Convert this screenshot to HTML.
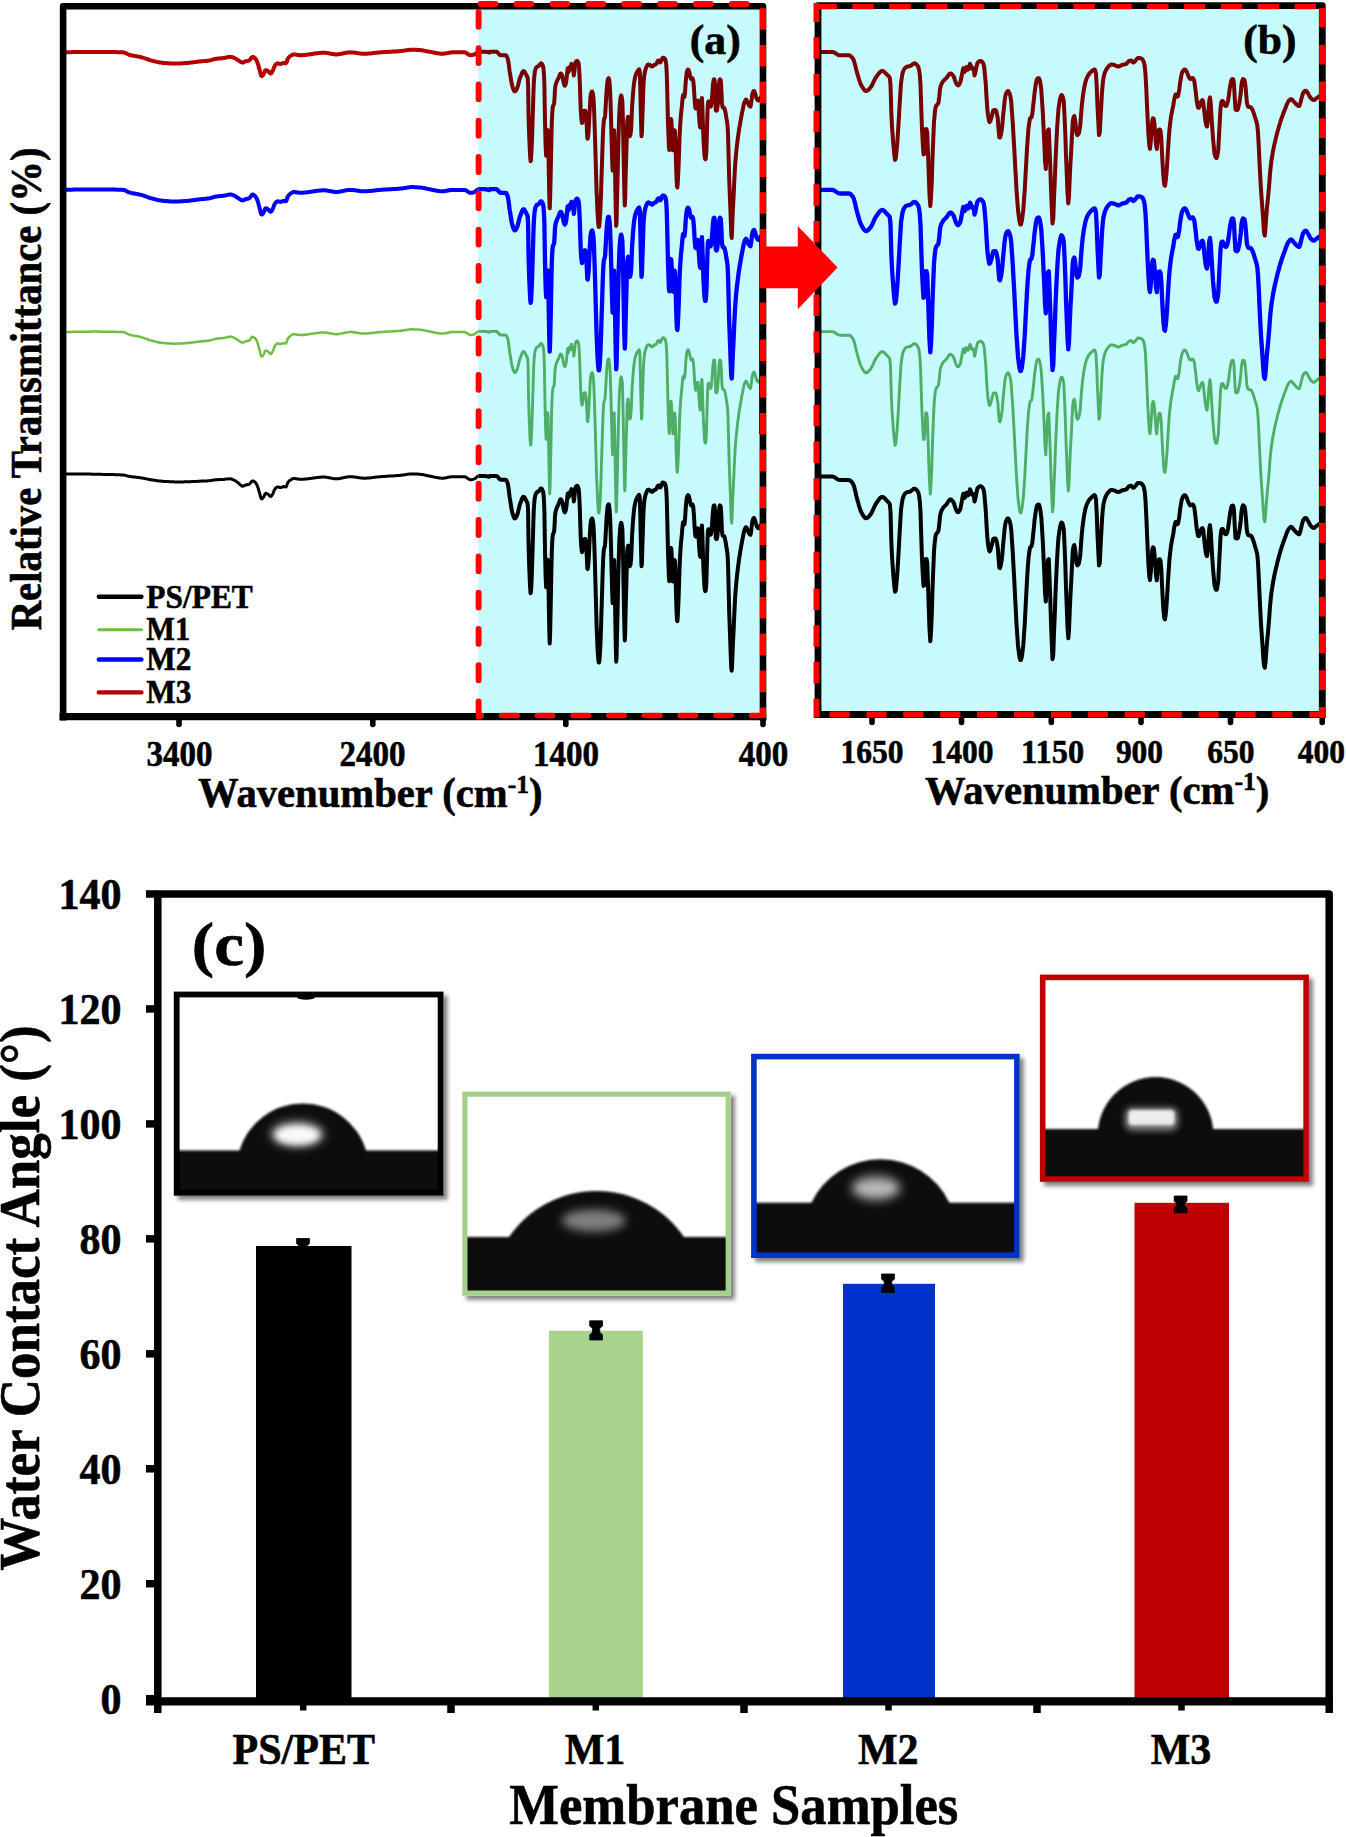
<!DOCTYPE html>
<html lang="en"><head><meta charset="utf-8"><title>FTIR spectra and water contact angle</title>
<style>
html,body{margin:0;padding:0;background:#fff;}
body{width:1346px;height:1837px;overflow:hidden;}
svg{display:block;}
text{font-family:"Liberation Serif","Times New Roman",serif;font-weight:bold;fill:#000;stroke:#000;stroke-width:0.6px;stroke-linejoin:round;}
</style></head><body>
<svg width="1346" height="1837" viewBox="0 0 1346 1837">
<defs>
<filter id="blur1" x="-20%" y="-20%" width="140%" height="140%"><feGaussianBlur stdDeviation="1.2"/></filter>
<filter id="blur2" x="-30%" y="-30%" width="160%" height="160%"><feGaussianBlur stdDeviation="1.8"/></filter>
<filter id="blur3" x="-30%" y="-30%" width="160%" height="160%"><feGaussianBlur stdDeviation="3"/></filter>
<filter id="blur5" x="-40%" y="-40%" width="180%" height="180%"><feGaussianBlur stdDeviation="5"/></filter>
<filter id="shadow" x="-10%" y="-10%" width="120%" height="120%"><feGaussianBlur stdDeviation="2.2"/></filter>
<clipPath id="clipAL"><rect x="60" y="0" width="418.5" height="720"/></clipPath>
<clipPath id="clipAR"><rect x="478.5" y="0" width="284.5" height="720"/></clipPath>
<clipPath id="clipB"><rect x="817" y="0" width="505" height="720"/></clipPath>
</defs>
<rect x="0" y="0" width="1346" height="1837" fill="#fff"/>

<rect x="478.2" y="6.2" width="284.8" height="710.8" fill="#C7FAFC"/>
<rect x="818" y="5.6" width="504.3" height="708.9" fill="#C7FAFC"/>
<path d="M64.0 52.3L64.8 52.3L65.5 52.3L66.3 52.3L67.0 52.3L67.8 52.2L68.5 52.2L69.3 52.2L70.0 52.2L70.8 52.2L71.5 52.2L72.3 52.1L73.0 52.1L73.8 52.1L74.5 52.1L75.3 52.1L76.0 52.1L76.8 52.1L77.5 52.1L78.3 52.0L79.0 52.0L79.8 52.0L80.5 52.0L81.3 52.0L82.0 52.0L82.8 52.0L83.5 52.0L84.3 52.0L85.0 52.0L85.8 52.0L86.5 52.0L87.3 52.0L88.0 52.0L88.8 51.9L89.5 51.9L90.3 51.9L91.0 51.9L91.8 51.9L92.5 51.9L93.3 51.9L94.0 51.9L94.8 51.9L95.5 51.9L96.3 51.9L97.0 51.9L97.8 51.9L98.5 51.9L99.3 51.9L100.0 51.9L100.8 51.9L101.5 51.9L102.3 52.0L103.0 52.0L103.8 52.0L104.5 52.0L105.3 52.0L106.0 52.0L106.8 52.0L107.5 52.0L108.3 52.0L109.0 52.0L109.8 52.0L110.5 52.0L111.3 52.0L112.0 52.1L112.8 52.1L113.5 52.1L114.3 52.1L115.0 52.1L115.8 52.1L116.5 52.1L117.3 52.2L118.0 52.2L118.8 52.2L119.5 52.2L120.3 52.2L121.0 52.3L121.8 52.3L122.5 52.3L123.3 52.3L124.0 52.5L124.8 52.7L125.5 53.0L126.3 53.4L127.0 53.8L127.8 54.2L128.5 54.5L129.3 54.8L130.0 55.0L130.8 55.2L131.5 55.4L132.3 55.5L133.0 55.7L133.8 55.8L134.5 55.9L135.3 56.1L136.0 56.2L136.8 56.3L137.5 56.4L138.3 56.6L139.0 56.7L139.8 56.9L140.5 57.1L141.3 57.2L142.0 57.4L142.8 57.7L143.5 57.9L144.3 58.1L145.0 58.4L145.8 58.7L146.5 58.9L147.3 59.2L148.0 59.5L148.8 59.7L149.5 60.0L150.3 60.2L151.0 60.4L151.8 60.6L152.5 60.8L153.3 61.0L154.0 61.2L154.8 61.4L155.5 61.6L156.3 61.7L157.0 61.9L157.8 62.1L158.5 62.2L159.3 62.4L160.0 62.5L160.8 62.6L161.5 62.7L162.3 62.8L163.0 62.9L163.8 63.0L164.5 63.0L165.3 63.1L166.0 63.1L166.8 63.2L167.5 63.2L168.3 63.3L169.0 63.3L169.8 63.4L170.5 63.4L171.3 63.5L172.0 63.5L172.8 63.5L173.5 63.5L174.3 63.5L175.0 63.5L175.8 63.5L176.5 63.5L177.3 63.5L178.0 63.5L178.8 63.5L179.5 63.4L180.3 63.4L181.0 63.4L181.8 63.3L182.5 63.3L183.3 63.2L184.0 63.2L184.8 63.1L185.5 63.1L186.3 63.0L187.0 63.0L187.8 62.9L188.5 62.8L189.3 62.8L190.0 62.7L190.8 62.6L191.5 62.5L192.3 62.4L193.0 62.3L193.8 62.2L194.5 62.1L195.3 62.0L196.0 61.9L196.8 61.8L197.5 61.7L198.3 61.6L199.0 61.5L199.8 61.5L200.5 61.4L201.3 61.3L202.0 61.3L202.8 61.2L203.5 61.1L204.3 61.1L205.0 61.0L205.8 60.9L206.5 60.9L207.3 60.8L208.0 60.7L208.8 60.6L209.5 60.5L210.3 60.3L211.0 60.1L211.8 59.9L212.5 59.7L213.3 59.4L214.0 59.2L214.8 59.0L215.5 58.9L216.3 58.7L217.0 58.7L217.8 58.6L218.5 58.5L219.3 58.4L220.0 58.4L220.8 58.3L221.5 58.3L222.3 58.2L223.0 58.1L223.8 58.0L224.5 57.9L225.3 57.7L226.0 57.5L226.8 57.4L227.5 57.2L228.3 57.1L229.0 56.9L229.8 56.9L230.5 56.8L231.3 56.9L232.0 57.1L232.8 57.3L233.5 57.6L234.3 57.9L235.0 58.3L235.8 58.7L236.5 59.2L237.3 59.7L238.0 60.2L238.8 60.6L239.5 61.1L240.3 61.6L241.0 62.1L241.8 62.4L242.5 62.5L243.3 62.4L244.0 62.0L244.8 61.6L245.5 61.3L246.3 61.1L247.0 61.0L247.8 60.9L248.5 60.7L249.3 60.4L250.0 59.7L250.8 58.7L251.5 57.6L252.3 56.9L253.0 56.9L253.8 57.2L254.5 57.8L255.3 58.5L256.0 59.4L256.8 60.9L257.5 62.7L258.3 65.1L259.0 67.9L259.8 70.6L260.5 73.6L261.3 75.8L262.0 76.0L262.8 75.3L263.5 74.3L264.3 72.7L265.0 70.8L265.8 70.1L266.5 70.3L267.3 70.6L268.0 71.1L268.8 71.8L269.5 72.7L270.3 73.4L271.0 73.4L271.8 72.5L272.5 71.3L273.3 69.6L274.0 67.4L274.8 65.8L275.5 64.9L276.3 64.0L277.0 63.5L277.8 63.3L278.5 63.5L279.3 63.7L280.0 63.9L280.8 63.9L281.5 63.7L282.3 63.4L283.0 63.1L283.8 62.9L284.5 63.0L285.3 63.2L286.0 63.3L286.8 61.9L287.5 59.2L288.3 58.0L289.0 57.2L289.8 56.5L290.5 55.9L291.3 55.4L292.0 55.0L292.8 54.6L293.5 54.4L294.3 54.4L295.0 54.5L295.8 54.6L296.5 54.7L297.3 54.9L298.0 55.0L298.8 55.1L299.5 55.2L300.3 55.2L301.0 55.2L301.8 55.2L302.5 55.1L303.3 55.1L304.0 55.0L304.8 54.9L305.5 54.9L306.3 54.8L307.0 54.7L307.8 54.6L308.5 54.5L309.3 54.4L310.0 54.3L310.8 54.2L311.5 54.0L312.3 53.9L313.0 53.8L313.8 53.7L314.5 53.6L315.3 53.5L316.0 53.4L316.8 53.3L317.5 53.2L318.3 53.1L319.0 53.0L319.8 53.0L320.5 52.9L321.3 52.8L322.0 52.8L322.8 52.8L323.5 52.8L324.3 52.7L325.0 52.8L325.8 52.8L326.5 52.9L327.3 53.0L328.0 53.2L328.8 53.3L329.5 53.4L330.3 53.6L331.0 53.8L331.8 53.9L332.5 54.0L333.3 54.1L334.0 54.2L334.8 54.3L335.5 54.4L336.3 54.4L337.0 54.4L337.8 54.3L338.5 54.2L339.3 54.1L340.0 54.0L340.8 53.9L341.5 53.7L342.3 53.5L343.0 53.4L343.8 53.2L344.5 53.1L345.3 52.9L346.0 52.8L346.8 52.6L347.5 52.5L348.3 52.4L349.0 52.4L349.8 52.3L350.5 52.3L351.3 52.4L352.0 52.4L352.8 52.5L353.5 52.5L354.3 52.6L355.0 52.7L355.8 52.8L356.5 53.0L357.3 53.1L358.0 53.2L358.8 53.3L359.5 53.4L360.3 53.5L361.0 53.6L361.8 53.7L362.5 53.7L363.3 53.7L364.0 53.8L364.8 53.8L365.5 53.7L366.3 53.7L367.0 53.7L367.8 53.6L368.5 53.6L369.3 53.5L370.0 53.4L370.8 53.4L371.5 53.3L372.3 53.2L373.0 53.1L373.8 53.0L374.5 52.9L375.3 52.8L376.0 52.8L376.8 52.7L377.5 52.6L378.3 52.5L379.0 52.4L379.8 52.4L380.5 52.3L381.3 52.3L382.0 52.2L382.8 52.2L383.5 52.1L384.3 52.1L385.0 52.0L385.8 52.0L386.5 52.0L387.3 51.9L388.0 51.9L388.8 51.8L389.5 51.8L390.3 51.8L391.0 51.7L391.8 51.7L392.5 51.6L393.3 51.6L394.0 51.6L394.8 51.5L395.5 51.5L396.3 51.4L397.0 51.4L397.8 51.3L398.5 51.3L399.3 51.2L400.0 51.1L400.8 51.1L401.5 51.0L402.3 50.9L403.0 50.8L403.8 50.7L404.5 50.6L405.3 50.4L406.0 50.3L406.8 50.2L407.5 50.1L408.3 50.0L409.0 49.9L409.8 49.8L410.5 49.8L411.3 49.7L412.0 49.7L412.8 49.7L413.5 49.7L414.3 49.7L415.0 49.8L415.8 49.8L416.5 49.8L417.3 49.9L418.0 49.9L418.8 50.0L419.5 50.0L420.3 50.1L421.0 50.2L421.8 50.3L422.5 50.4L423.3 50.5L424.0 50.6L424.8 50.8L425.5 50.9L426.3 51.1L427.0 51.3L427.8 51.4L428.5 51.6L429.3 51.7L430.0 51.9L430.8 52.0L431.5 52.1L432.3 52.3L433.0 52.4L433.8 52.6L434.5 52.7L435.3 52.9L436.0 53.0L436.8 53.2L437.5 53.3L438.3 53.4L439.0 53.5L439.8 53.6L440.5 53.7L441.3 53.7L442.0 53.8L442.8 53.8L443.5 53.7L444.3 53.6L445.0 53.5L445.8 53.4L446.5 53.2L447.3 53.1L448.0 52.9L448.8 52.8L449.5 52.6L450.3 52.5L451.0 52.4L451.8 52.4L452.5 52.3L453.3 52.3L454.0 52.3L454.8 52.3L455.5 52.3L456.3 52.3L457.0 52.3L457.8 52.3L458.5 52.3L459.3 52.3L460.0 52.3L460.8 52.3L461.5 52.3L462.3 52.3L463.0 52.3L463.8 52.3L464.5 52.3L465.3 52.5L466.0 52.8L466.8 53.3L467.5 53.8L468.3 54.3L469.0 54.8L469.8 55.1L470.5 55.2L471.3 55.2L472.0 55.0L472.8 54.9L473.5 54.7L474.3 54.5L475.0 54.1L475.8 53.6L476.5 52.9L477.3 52.3L478.0 51.8L478.8 51.7L479.5 51.7L480.3 51.7L481.0 51.7L481.8 51.7L482.5 51.7L483.3 51.7L484.0 51.7L484.8 51.7L485.5 51.8L486.3 51.9L487.0 52.0L487.8 52.1L488.5 52.3L489.3 52.6L489.8 51.7L490.2 51.7L490.6 51.7L491.0 51.7L491.4 51.7L491.8 51.7L492.2 51.7L492.6 51.7L493.0 51.7L493.4 51.7L493.8 51.7L494.2 51.7L494.6 51.7L495.1 51.7L495.5 51.7L495.9 51.7L496.3 51.7L496.7 51.8L497.1 52.0L497.5 52.3L497.9 52.8L498.3 53.2L498.7 53.7L499.1 54.2L499.5 54.6L500.0 54.9L500.4 55.1L500.8 55.2L501.2 55.2L501.6 55.2L502.0 55.2L502.4 55.2L502.8 55.2L503.2 55.2L503.6 55.2L504.0 55.2L504.4 55.2L504.8 55.2L505.3 55.2L505.7 55.2L506.1 55.4L506.5 55.9L506.9 56.7L507.3 57.6L507.7 58.7L508.1 60.2L508.5 62.6L508.9 65.6L509.3 68.8L509.7 71.8L510.2 74.4L510.6 77.0L511.0 79.6L511.4 81.9L511.8 84.0L512.2 85.5L512.6 86.8L513.0 88.1L513.4 89.3L513.8 90.2L514.2 91.0L514.6 91.3L515.0 91.4L515.5 91.1L515.9 90.5L516.3 89.8L516.7 89.0L517.1 88.2L517.5 87.2L517.9 85.9L518.3 84.4L518.7 82.7L519.1 81.1L519.5 79.5L519.9 78.2L520.4 77.0L520.8 76.0L521.2 75.0L521.6 74.0L522.0 73.0L522.4 72.2L522.8 71.6L523.2 71.2L523.6 71.0L524.0 71.2L524.4 71.6L524.8 72.2L525.2 73.0L525.7 73.8L526.1 74.6L526.5 75.4L526.9 76.0L527.3 76.7L527.7 78.0L528.1 84.9L528.5 112.6L528.9 127.3L529.3 138.6L529.7 147.6L530.1 156.1L530.6 161.3L531.0 159.9L531.4 152.9L531.8 144.1L532.2 133.2L532.6 120.0L533.0 107.4L533.4 94.3L533.8 83.5L534.2 77.7L534.6 73.6L535.0 71.0L535.4 69.5L535.9 68.3L536.3 67.5L536.7 67.0L537.1 66.7L537.5 66.5L537.9 66.4L538.3 66.2L538.7 66.0L539.1 65.7L539.5 65.1L539.9 64.5L540.3 63.8L540.8 63.4L541.2 63.3L541.6 63.5L542.0 64.0L542.4 64.7L542.8 65.7L543.2 66.9L543.6 69.6L544.0 75.2L544.4 85.1L544.8 110.3L545.2 129.8L545.6 145.0L546.1 155.7L546.5 155.2L546.9 147.1L547.3 130.1L547.7 130.1L548.1 133.9L548.5 154.5L548.9 177.8L549.3 196.7L549.7 208.3L550.1 200.1L550.5 182.7L551.0 159.0L551.4 139.5L551.8 122.7L552.2 113.9L552.6 108.4L553.0 106.1L553.4 105.3L553.8 104.6L554.2 103.1L554.6 96.9L555.0 89.4L555.4 86.1L555.8 84.2L556.3 82.8L556.7 81.7L557.1 80.7L557.5 79.9L557.9 79.3L558.3 78.6L558.7 77.7L559.1 76.6L559.5 75.5L559.9 74.4L560.3 73.7L560.7 73.5L561.2 73.8L561.6 74.4L562.0 75.3L562.4 76.3L562.8 78.1L563.2 80.6L563.6 82.7L564.0 84.1L564.4 85.2L564.8 85.7L565.2 85.3L565.6 84.2L566.0 82.7L566.5 79.4L566.9 75.4L567.3 71.6L567.7 68.2L568.1 69.5L568.5 72.0L568.9 70.2L569.3 67.2L569.7 67.8L570.1 69.8L570.5 69.2L570.9 66.1L571.4 63.9L571.8 65.3L572.2 68.1L572.6 69.0L573.0 68.2L573.4 69.5L573.8 75.5L574.2 73.0L574.6 69.5L575.0 65.4L575.4 62.9L575.8 62.0L576.2 61.4L576.7 61.0L577.1 60.9L577.5 61.1L577.9 61.7L578.3 62.6L578.7 63.9L579.1 68.1L579.5 75.6L579.9 84.5L580.3 97.2L580.7 109.2L581.1 115.8L581.6 120.8L582.0 123.0L582.4 121.9L582.8 119.5L583.2 117.1L583.6 113.6L584.0 111.0L584.4 110.7L584.8 110.7L585.2 110.7L585.6 112.0L586.0 115.1L586.4 119.5L586.9 129.4L587.3 138.2L587.7 138.7L588.1 136.1L588.5 132.4L588.9 126.2L589.3 117.6L589.7 109.9L590.1 102.6L590.5 96.8L590.9 94.3L591.3 92.6L591.8 91.6L592.2 91.5L592.6 92.5L593.0 94.5L593.4 97.2L593.8 103.0L594.2 113.3L594.6 124.5L595.0 136.9L595.4 150.5L595.8 164.3L596.2 178.8L596.6 191.9L597.1 202.7L597.5 212.2L597.9 218.7L598.3 223.7L598.7 227.0L599.1 226.9L599.5 223.4L599.9 218.4L600.3 211.7L600.7 202.1L601.1 191.1L601.5 177.5L602.0 163.0L602.4 150.4L602.8 138.4L603.2 129.1L603.6 123.3L604.0 119.4L604.4 118.5L604.8 118.0L605.2 114.7L605.6 108.0L606.0 101.1L606.4 93.7L606.8 88.0L607.3 83.2L607.7 79.8L608.1 78.7L608.5 78.2L608.9 78.5L609.3 80.7L609.7 84.4L610.1 90.5L610.5 101.0L610.9 113.1L611.3 128.0L611.7 143.9L612.2 161.6L612.6 170.6L613.0 156.4L613.4 138.7L613.8 131.1L614.2 130.3L614.6 147.3L615.0 168.6L615.4 190.9L615.8 211.1L616.2 225.9L616.6 220.4L617.0 200.8L617.5 182.4L617.9 162.8L618.3 145.5L618.7 131.3L619.1 118.6L619.5 109.4L619.9 104.2L620.3 99.9L620.7 96.8L621.1 95.5L621.5 96.1L621.9 98.2L622.4 101.9L622.8 116.2L623.2 134.7L623.6 157.1L624.0 176.5L624.4 194.5L624.8 205.5L625.2 198.0L625.6 178.4L626.0 163.6L626.4 150.5L626.8 136.3L627.2 122.1L627.7 118.2L628.1 116.9L628.5 120.2L628.9 127.1L629.3 133.9L629.7 136.2L630.1 135.7L630.5 134.5L630.9 131.3L631.3 126.2L631.7 116.0L632.1 106.6L632.6 99.7L633.0 93.9L633.4 89.3L633.8 85.3L634.2 82.0L634.6 79.6L635.0 77.8L635.4 76.2L635.8 74.9L636.2 73.8L636.6 72.9L637.0 72.2L637.4 71.5L637.9 70.9L638.3 70.2L638.7 69.6L639.1 69.4L639.5 70.6L639.9 73.7L640.3 88.6L640.7 107.4L641.1 123.1L641.5 136.2L641.9 133.7L642.3 119.8L642.8 105.4L643.2 93.0L643.6 83.2L644.0 77.9L644.4 74.6L644.8 72.3L645.2 70.6L645.6 69.2L646.0 68.0L646.4 67.1L646.8 66.3L647.2 65.5L647.6 64.8L648.1 64.5L648.5 64.6L648.9 64.6L649.3 64.8L649.7 64.9L650.1 65.1L650.5 65.5L650.9 65.9L651.3 66.3L651.7 66.5L652.1 66.5L652.5 66.3L653.0 66.0L653.4 65.6L653.8 65.2L654.2 64.9L654.6 64.7L655.0 64.6L655.4 64.4L655.8 64.2L656.2 64.0L656.6 63.5L657.0 62.6L657.4 61.6L657.8 60.9L658.3 60.7L658.7 60.5L659.1 60.5L659.5 61.2L659.9 62.2L660.3 62.4L660.7 61.8L661.1 61.0L661.5 60.3L661.9 59.3L662.3 58.4L662.7 57.8L663.2 57.8L663.6 57.9L664.0 58.1L664.4 58.3L664.8 58.7L665.2 59.5L665.6 60.7L666.0 62.4L666.4 66.8L666.8 74.5L667.2 89.4L667.6 105.6L668.0 123.1L668.5 136.2L668.9 146.9L669.3 150.1L669.7 142.6L670.1 132.8L670.5 121.4L670.9 119.0L671.3 119.8L671.7 125.7L672.1 136.1L672.5 145.7L672.9 150.3L673.4 142.2L673.8 135.2L674.2 130.6L674.6 130.3L675.0 131.7L675.4 139.7L675.8 154.7L676.2 169.0L676.6 179.4L677.0 186.6L677.4 187.5L677.8 182.1L678.2 174.6L678.7 163.1L679.1 150.9L679.5 139.2L679.9 130.0L680.3 123.3L680.7 117.8L681.1 113.3L681.5 109.6L681.9 106.0L682.3 101.3L682.7 97.4L683.1 95.0L683.6 94.9L684.0 97.1L684.4 97.0L684.8 94.4L685.2 90.1L685.6 83.5L686.0 78.8L686.4 74.9L686.8 72.2L687.2 70.9L687.6 70.0L688.0 69.5L688.4 69.7L688.9 70.7L689.3 72.1L689.7 73.9L690.1 75.9L690.5 77.4L690.9 78.8L691.3 79.2L691.7 78.8L692.1 78.3L692.5 78.3L692.9 79.3L693.3 81.2L693.8 86.4L694.2 92.6L694.6 99.6L695.0 104.5L695.4 108.1L695.8 108.5L696.2 106.9L696.6 104.9L697.0 102.4L697.4 101.2L697.8 100.6L698.2 102.6L698.6 109.7L699.1 116.7L699.5 122.5L699.9 126.4L700.3 127.4L700.7 122.4L701.1 111.1L701.5 100.8L701.9 97.9L702.3 104.9L702.7 116.7L703.1 129.3L703.5 139.4L704.0 147.8L704.4 154.8L704.8 157.8L705.2 159.3L705.6 159.3L706.0 156.1L706.4 150.5L706.8 136.9L707.2 122.1L707.6 109.2L708.0 102.8L708.4 101.6L708.8 101.6L709.3 102.9L709.7 105.3L710.1 106.2L710.5 106.6L710.9 106.3L711.3 104.3L711.7 101.2L712.1 96.3L712.5 90.9L712.9 85.5L713.3 82.0L713.7 79.5L714.2 79.2L714.6 79.7L715.0 84.3L715.4 99.7L715.8 110.1L716.2 110.7L716.6 110.7L717.0 110.2L717.4 107.4L717.8 104.0L718.2 99.3L718.6 93.2L719.0 84.8L719.5 80.7L719.9 79.2L720.3 79.5L720.7 80.2L721.1 84.7L721.5 92.5L721.9 102.4L722.3 105.8L722.7 107.5L723.1 107.7L723.5 107.7L723.9 107.7L724.4 108.2L724.8 109.6L725.2 111.2L725.6 113.1L726.0 115.5L726.4 118.0L726.8 120.3L727.2 122.7L727.6 126.1L728.0 133.3L728.4 148.2L728.8 163.3L729.2 179.2L729.7 191.9L730.1 202.6L730.5 212.5L730.9 224.0L731.3 234.9L731.7 238.1L732.1 230.1L732.5 218.1L732.9 209.2L733.3 201.8L733.7 194.3L734.1 185.1L734.6 175.2L735.0 167.5L735.4 161.7L735.8 156.8L736.2 152.5L736.6 148.6L737.0 145.1L737.4 141.8L737.8 138.7L738.2 135.7L738.6 132.8L739.0 130.0L739.4 127.3L739.9 124.8L740.3 122.4L740.7 120.0L741.1 117.8L741.5 115.7L741.9 113.7L742.3 111.7L742.7 109.8L743.1 107.8L743.5 105.9L743.9 104.1L744.3 102.6L744.8 101.5L745.2 100.6L745.6 99.9L746.0 99.6L746.4 99.8L746.8 100.6L747.2 101.5L747.6 102.3L748.0 103.2L748.4 104.1L748.8 104.9L749.2 105.5L749.6 106.1L750.1 106.5L750.5 106.6L750.9 104.8L751.3 101.8L751.7 99.1L752.1 95.9L752.5 93.6L752.9 92.5L753.3 91.6L753.7 91.1L754.1 91.1L754.5 91.8L755.0 93.1L755.4 94.4L755.8 95.6L756.2 97.1L756.6 98.3L757.0 99.0L757.4 99.7L757.8 100.3L758.2 100.5L758.6 100.5L759.0 100.0L759.4 99.3L759.8 98.7L760.3 98.2L760.7 97.7L761.1 97.2L761.5 96.7" fill="none" stroke="#B40000" stroke-width="4.0" stroke-linejoin="round" stroke-linecap="round" clip-path="url(#clipAL)"/>
<path d="M64.0 52.3L64.8 52.3L65.5 52.3L66.3 52.3L67.0 52.3L67.8 52.2L68.5 52.2L69.3 52.2L70.0 52.2L70.8 52.2L71.5 52.2L72.3 52.1L73.0 52.1L73.8 52.1L74.5 52.1L75.3 52.1L76.0 52.1L76.8 52.1L77.5 52.1L78.3 52.0L79.0 52.0L79.8 52.0L80.5 52.0L81.3 52.0L82.0 52.0L82.8 52.0L83.5 52.0L84.3 52.0L85.0 52.0L85.8 52.0L86.5 52.0L87.3 52.0L88.0 52.0L88.8 51.9L89.5 51.9L90.3 51.9L91.0 51.9L91.8 51.9L92.5 51.9L93.3 51.9L94.0 51.9L94.8 51.9L95.5 51.9L96.3 51.9L97.0 51.9L97.8 51.9L98.5 51.9L99.3 51.9L100.0 51.9L100.8 51.9L101.5 51.9L102.3 52.0L103.0 52.0L103.8 52.0L104.5 52.0L105.3 52.0L106.0 52.0L106.8 52.0L107.5 52.0L108.3 52.0L109.0 52.0L109.8 52.0L110.5 52.0L111.3 52.0L112.0 52.1L112.8 52.1L113.5 52.1L114.3 52.1L115.0 52.1L115.8 52.1L116.5 52.1L117.3 52.2L118.0 52.2L118.8 52.2L119.5 52.2L120.3 52.2L121.0 52.3L121.8 52.3L122.5 52.3L123.3 52.3L124.0 52.5L124.8 52.7L125.5 53.0L126.3 53.4L127.0 53.8L127.8 54.2L128.5 54.5L129.3 54.8L130.0 55.0L130.8 55.2L131.5 55.4L132.3 55.5L133.0 55.7L133.8 55.8L134.5 55.9L135.3 56.1L136.0 56.2L136.8 56.3L137.5 56.4L138.3 56.6L139.0 56.7L139.8 56.9L140.5 57.1L141.3 57.2L142.0 57.4L142.8 57.7L143.5 57.9L144.3 58.1L145.0 58.4L145.8 58.7L146.5 58.9L147.3 59.2L148.0 59.5L148.8 59.7L149.5 60.0L150.3 60.2L151.0 60.4L151.8 60.6L152.5 60.8L153.3 61.0L154.0 61.2L154.8 61.4L155.5 61.6L156.3 61.7L157.0 61.9L157.8 62.1L158.5 62.2L159.3 62.4L160.0 62.5L160.8 62.6L161.5 62.7L162.3 62.8L163.0 62.9L163.8 63.0L164.5 63.0L165.3 63.1L166.0 63.1L166.8 63.2L167.5 63.2L168.3 63.3L169.0 63.3L169.8 63.4L170.5 63.4L171.3 63.5L172.0 63.5L172.8 63.5L173.5 63.5L174.3 63.5L175.0 63.5L175.8 63.5L176.5 63.5L177.3 63.5L178.0 63.5L178.8 63.5L179.5 63.4L180.3 63.4L181.0 63.4L181.8 63.3L182.5 63.3L183.3 63.2L184.0 63.2L184.8 63.1L185.5 63.1L186.3 63.0L187.0 63.0L187.8 62.9L188.5 62.8L189.3 62.8L190.0 62.7L190.8 62.6L191.5 62.5L192.3 62.4L193.0 62.3L193.8 62.2L194.5 62.1L195.3 62.0L196.0 61.9L196.8 61.8L197.5 61.7L198.3 61.6L199.0 61.5L199.8 61.5L200.5 61.4L201.3 61.3L202.0 61.3L202.8 61.2L203.5 61.1L204.3 61.1L205.0 61.0L205.8 60.9L206.5 60.9L207.3 60.8L208.0 60.7L208.8 60.6L209.5 60.5L210.3 60.3L211.0 60.1L211.8 59.9L212.5 59.7L213.3 59.4L214.0 59.2L214.8 59.0L215.5 58.9L216.3 58.7L217.0 58.7L217.8 58.6L218.5 58.5L219.3 58.4L220.0 58.4L220.8 58.3L221.5 58.3L222.3 58.2L223.0 58.1L223.8 58.0L224.5 57.9L225.3 57.7L226.0 57.5L226.8 57.4L227.5 57.2L228.3 57.1L229.0 56.9L229.8 56.9L230.5 56.8L231.3 56.9L232.0 57.1L232.8 57.3L233.5 57.6L234.3 57.9L235.0 58.3L235.8 58.7L236.5 59.2L237.3 59.7L238.0 60.2L238.8 60.6L239.5 61.1L240.3 61.6L241.0 62.1L241.8 62.4L242.5 62.5L243.3 62.4L244.0 62.0L244.8 61.6L245.5 61.3L246.3 61.1L247.0 61.0L247.8 60.9L248.5 60.7L249.3 60.4L250.0 59.7L250.8 58.7L251.5 57.6L252.3 56.9L253.0 56.9L253.8 57.2L254.5 57.8L255.3 58.5L256.0 59.4L256.8 60.9L257.5 62.7L258.3 65.1L259.0 67.9L259.8 70.6L260.5 73.6L261.3 75.8L262.0 76.0L262.8 75.3L263.5 74.3L264.3 72.7L265.0 70.8L265.8 70.1L266.5 70.3L267.3 70.6L268.0 71.1L268.8 71.8L269.5 72.7L270.3 73.4L271.0 73.4L271.8 72.5L272.5 71.3L273.3 69.6L274.0 67.4L274.8 65.8L275.5 64.9L276.3 64.0L277.0 63.5L277.8 63.3L278.5 63.5L279.3 63.7L280.0 63.9L280.8 63.9L281.5 63.7L282.3 63.4L283.0 63.1L283.8 62.9L284.5 63.0L285.3 63.2L286.0 63.3L286.8 61.9L287.5 59.2L288.3 58.0L289.0 57.2L289.8 56.5L290.5 55.9L291.3 55.4L292.0 55.0L292.8 54.6L293.5 54.4L294.3 54.4L295.0 54.5L295.8 54.6L296.5 54.7L297.3 54.9L298.0 55.0L298.8 55.1L299.5 55.2L300.3 55.2L301.0 55.2L301.8 55.2L302.5 55.1L303.3 55.1L304.0 55.0L304.8 54.9L305.5 54.9L306.3 54.8L307.0 54.7L307.8 54.6L308.5 54.5L309.3 54.4L310.0 54.3L310.8 54.2L311.5 54.0L312.3 53.9L313.0 53.8L313.8 53.7L314.5 53.6L315.3 53.5L316.0 53.4L316.8 53.3L317.5 53.2L318.3 53.1L319.0 53.0L319.8 53.0L320.5 52.9L321.3 52.8L322.0 52.8L322.8 52.8L323.5 52.8L324.3 52.7L325.0 52.8L325.8 52.8L326.5 52.9L327.3 53.0L328.0 53.2L328.8 53.3L329.5 53.4L330.3 53.6L331.0 53.8L331.8 53.9L332.5 54.0L333.3 54.1L334.0 54.2L334.8 54.3L335.5 54.4L336.3 54.4L337.0 54.4L337.8 54.3L338.5 54.2L339.3 54.1L340.0 54.0L340.8 53.9L341.5 53.7L342.3 53.5L343.0 53.4L343.8 53.2L344.5 53.1L345.3 52.9L346.0 52.8L346.8 52.6L347.5 52.5L348.3 52.4L349.0 52.4L349.8 52.3L350.5 52.3L351.3 52.4L352.0 52.4L352.8 52.5L353.5 52.5L354.3 52.6L355.0 52.7L355.8 52.8L356.5 53.0L357.3 53.1L358.0 53.2L358.8 53.3L359.5 53.4L360.3 53.5L361.0 53.6L361.8 53.7L362.5 53.7L363.3 53.7L364.0 53.8L364.8 53.8L365.5 53.7L366.3 53.7L367.0 53.7L367.8 53.6L368.5 53.6L369.3 53.5L370.0 53.4L370.8 53.4L371.5 53.3L372.3 53.2L373.0 53.1L373.8 53.0L374.5 52.9L375.3 52.8L376.0 52.8L376.8 52.7L377.5 52.6L378.3 52.5L379.0 52.4L379.8 52.4L380.5 52.3L381.3 52.3L382.0 52.2L382.8 52.2L383.5 52.1L384.3 52.1L385.0 52.0L385.8 52.0L386.5 52.0L387.3 51.9L388.0 51.9L388.8 51.8L389.5 51.8L390.3 51.8L391.0 51.7L391.8 51.7L392.5 51.6L393.3 51.6L394.0 51.6L394.8 51.5L395.5 51.5L396.3 51.4L397.0 51.4L397.8 51.3L398.5 51.3L399.3 51.2L400.0 51.1L400.8 51.1L401.5 51.0L402.3 50.9L403.0 50.8L403.8 50.7L404.5 50.6L405.3 50.4L406.0 50.3L406.8 50.2L407.5 50.1L408.3 50.0L409.0 49.9L409.8 49.8L410.5 49.8L411.3 49.7L412.0 49.7L412.8 49.7L413.5 49.7L414.3 49.7L415.0 49.8L415.8 49.8L416.5 49.8L417.3 49.9L418.0 49.9L418.8 50.0L419.5 50.0L420.3 50.1L421.0 50.2L421.8 50.3L422.5 50.4L423.3 50.5L424.0 50.6L424.8 50.8L425.5 50.9L426.3 51.1L427.0 51.3L427.8 51.4L428.5 51.6L429.3 51.7L430.0 51.9L430.8 52.0L431.5 52.1L432.3 52.3L433.0 52.4L433.8 52.6L434.5 52.7L435.3 52.9L436.0 53.0L436.8 53.2L437.5 53.3L438.3 53.4L439.0 53.5L439.8 53.6L440.5 53.7L441.3 53.7L442.0 53.8L442.8 53.8L443.5 53.7L444.3 53.6L445.0 53.5L445.8 53.4L446.5 53.2L447.3 53.1L448.0 52.9L448.8 52.8L449.5 52.6L450.3 52.5L451.0 52.4L451.8 52.4L452.5 52.3L453.3 52.3L454.0 52.3L454.8 52.3L455.5 52.3L456.3 52.3L457.0 52.3L457.8 52.3L458.5 52.3L459.3 52.3L460.0 52.3L460.8 52.3L461.5 52.3L462.3 52.3L463.0 52.3L463.8 52.3L464.5 52.3L465.3 52.5L466.0 52.8L466.8 53.3L467.5 53.8L468.3 54.3L469.0 54.8L469.8 55.1L470.5 55.2L471.3 55.2L472.0 55.0L472.8 54.9L473.5 54.7L474.3 54.5L475.0 54.1L475.8 53.6L476.5 52.9L477.3 52.3L478.0 51.8L478.8 51.7L479.5 51.7L480.3 51.7L481.0 51.7L481.8 51.7L482.5 51.7L483.3 51.7L484.0 51.7L484.8 51.7L485.5 51.8L486.3 51.9L487.0 52.0L487.8 52.1L488.5 52.3L489.3 52.6L489.8 51.7L490.2 51.7L490.6 51.7L491.0 51.7L491.4 51.7L491.8 51.7L492.2 51.7L492.6 51.7L493.0 51.7L493.4 51.7L493.8 51.7L494.2 51.7L494.6 51.7L495.1 51.7L495.5 51.7L495.9 51.7L496.3 51.7L496.7 51.8L497.1 52.0L497.5 52.3L497.9 52.8L498.3 53.2L498.7 53.7L499.1 54.2L499.5 54.6L500.0 54.9L500.4 55.1L500.8 55.2L501.2 55.2L501.6 55.2L502.0 55.2L502.4 55.2L502.8 55.2L503.2 55.2L503.6 55.2L504.0 55.2L504.4 55.2L504.8 55.2L505.3 55.2L505.7 55.2L506.1 55.4L506.5 55.9L506.9 56.7L507.3 57.6L507.7 58.7L508.1 60.2L508.5 62.6L508.9 65.6L509.3 68.8L509.7 71.8L510.2 74.4L510.6 77.0L511.0 79.6L511.4 81.9L511.8 84.0L512.2 85.5L512.6 86.8L513.0 88.1L513.4 89.3L513.8 90.2L514.2 91.0L514.6 91.3L515.0 91.4L515.5 91.1L515.9 90.5L516.3 89.8L516.7 89.0L517.1 88.2L517.5 87.2L517.9 85.9L518.3 84.4L518.7 82.7L519.1 81.1L519.5 79.5L519.9 78.2L520.4 77.0L520.8 76.0L521.2 75.0L521.6 74.0L522.0 73.0L522.4 72.2L522.8 71.6L523.2 71.2L523.6 71.0L524.0 71.2L524.4 71.6L524.8 72.2L525.2 73.0L525.7 73.8L526.1 74.6L526.5 75.4L526.9 76.0L527.3 76.7L527.7 78.0L528.1 84.9L528.5 112.6L528.9 127.3L529.3 138.6L529.7 147.6L530.1 156.1L530.6 161.3L531.0 159.9L531.4 152.9L531.8 144.1L532.2 133.2L532.6 120.0L533.0 107.4L533.4 94.3L533.8 83.5L534.2 77.7L534.6 73.6L535.0 71.0L535.4 69.5L535.9 68.3L536.3 67.5L536.7 67.0L537.1 66.7L537.5 66.5L537.9 66.4L538.3 66.2L538.7 66.0L539.1 65.7L539.5 65.1L539.9 64.5L540.3 63.8L540.8 63.4L541.2 63.3L541.6 63.5L542.0 64.0L542.4 64.7L542.8 65.7L543.2 66.9L543.6 69.6L544.0 75.2L544.4 85.1L544.8 110.3L545.2 129.8L545.6 145.0L546.1 155.7L546.5 155.2L546.9 147.1L547.3 130.1L547.7 130.1L548.1 133.9L548.5 154.5L548.9 177.8L549.3 196.7L549.7 208.3L550.1 200.1L550.5 182.7L551.0 159.0L551.4 139.5L551.8 122.7L552.2 113.9L552.6 108.4L553.0 106.1L553.4 105.3L553.8 104.6L554.2 103.1L554.6 96.9L555.0 89.4L555.4 86.1L555.8 84.2L556.3 82.8L556.7 81.7L557.1 80.7L557.5 79.9L557.9 79.3L558.3 78.6L558.7 77.7L559.1 76.6L559.5 75.5L559.9 74.4L560.3 73.7L560.7 73.5L561.2 73.8L561.6 74.4L562.0 75.3L562.4 76.3L562.8 78.1L563.2 80.6L563.6 82.7L564.0 84.1L564.4 85.2L564.8 85.7L565.2 85.3L565.6 84.2L566.0 82.7L566.5 79.4L566.9 75.4L567.3 71.6L567.7 68.2L568.1 69.5L568.5 72.0L568.9 70.2L569.3 67.2L569.7 67.8L570.1 69.8L570.5 69.2L570.9 66.1L571.4 63.9L571.8 65.3L572.2 68.1L572.6 69.0L573.0 68.2L573.4 69.5L573.8 75.5L574.2 73.0L574.6 69.5L575.0 65.4L575.4 62.9L575.8 62.0L576.2 61.4L576.7 61.0L577.1 60.9L577.5 61.1L577.9 61.7L578.3 62.6L578.7 63.9L579.1 68.1L579.5 75.6L579.9 84.5L580.3 97.2L580.7 109.2L581.1 115.8L581.6 120.8L582.0 123.0L582.4 121.9L582.8 119.5L583.2 117.1L583.6 113.6L584.0 111.0L584.4 110.7L584.8 110.7L585.2 110.7L585.6 112.0L586.0 115.1L586.4 119.5L586.9 129.4L587.3 138.2L587.7 138.7L588.1 136.1L588.5 132.4L588.9 126.2L589.3 117.6L589.7 109.9L590.1 102.6L590.5 96.8L590.9 94.3L591.3 92.6L591.8 91.6L592.2 91.5L592.6 92.5L593.0 94.5L593.4 97.2L593.8 103.0L594.2 113.3L594.6 124.5L595.0 136.9L595.4 150.5L595.8 164.3L596.2 178.8L596.6 191.9L597.1 202.7L597.5 212.2L597.9 218.7L598.3 223.7L598.7 227.0L599.1 226.9L599.5 223.4L599.9 218.4L600.3 211.7L600.7 202.1L601.1 191.1L601.5 177.5L602.0 163.0L602.4 150.4L602.8 138.4L603.2 129.1L603.6 123.3L604.0 119.4L604.4 118.5L604.8 118.0L605.2 114.7L605.6 108.0L606.0 101.1L606.4 93.7L606.8 88.0L607.3 83.2L607.7 79.8L608.1 78.7L608.5 78.2L608.9 78.5L609.3 80.7L609.7 84.4L610.1 90.5L610.5 101.0L610.9 113.1L611.3 128.0L611.7 143.9L612.2 161.6L612.6 170.6L613.0 156.4L613.4 138.7L613.8 131.1L614.2 130.3L614.6 147.3L615.0 168.6L615.4 190.9L615.8 211.1L616.2 225.9L616.6 220.4L617.0 200.8L617.5 182.4L617.9 162.8L618.3 145.5L618.7 131.3L619.1 118.6L619.5 109.4L619.9 104.2L620.3 99.9L620.7 96.8L621.1 95.5L621.5 96.1L621.9 98.2L622.4 101.9L622.8 116.2L623.2 134.7L623.6 157.1L624.0 176.5L624.4 194.5L624.8 205.5L625.2 198.0L625.6 178.4L626.0 163.6L626.4 150.5L626.8 136.3L627.2 122.1L627.7 118.2L628.1 116.9L628.5 120.2L628.9 127.1L629.3 133.9L629.7 136.2L630.1 135.7L630.5 134.5L630.9 131.3L631.3 126.2L631.7 116.0L632.1 106.6L632.6 99.7L633.0 93.9L633.4 89.3L633.8 85.3L634.2 82.0L634.6 79.6L635.0 77.8L635.4 76.2L635.8 74.9L636.2 73.8L636.6 72.9L637.0 72.2L637.4 71.5L637.9 70.9L638.3 70.2L638.7 69.6L639.1 69.4L639.5 70.6L639.9 73.7L640.3 88.6L640.7 107.4L641.1 123.1L641.5 136.2L641.9 133.7L642.3 119.8L642.8 105.4L643.2 93.0L643.6 83.2L644.0 77.9L644.4 74.6L644.8 72.3L645.2 70.6L645.6 69.2L646.0 68.0L646.4 67.1L646.8 66.3L647.2 65.5L647.6 64.8L648.1 64.5L648.5 64.6L648.9 64.6L649.3 64.8L649.7 64.9L650.1 65.1L650.5 65.5L650.9 65.9L651.3 66.3L651.7 66.5L652.1 66.5L652.5 66.3L653.0 66.0L653.4 65.6L653.8 65.2L654.2 64.9L654.6 64.7L655.0 64.6L655.4 64.4L655.8 64.2L656.2 64.0L656.6 63.5L657.0 62.6L657.4 61.6L657.8 60.9L658.3 60.7L658.7 60.5L659.1 60.5L659.5 61.2L659.9 62.2L660.3 62.4L660.7 61.8L661.1 61.0L661.5 60.3L661.9 59.3L662.3 58.4L662.7 57.8L663.2 57.8L663.6 57.9L664.0 58.1L664.4 58.3L664.8 58.7L665.2 59.5L665.6 60.7L666.0 62.4L666.4 66.8L666.8 74.5L667.2 89.4L667.6 105.6L668.0 123.1L668.5 136.2L668.9 146.9L669.3 150.1L669.7 142.6L670.1 132.8L670.5 121.4L670.9 119.0L671.3 119.8L671.7 125.7L672.1 136.1L672.5 145.7L672.9 150.3L673.4 142.2L673.8 135.2L674.2 130.6L674.6 130.3L675.0 131.7L675.4 139.7L675.8 154.7L676.2 169.0L676.6 179.4L677.0 186.6L677.4 187.5L677.8 182.1L678.2 174.6L678.7 163.1L679.1 150.9L679.5 139.2L679.9 130.0L680.3 123.3L680.7 117.8L681.1 113.3L681.5 109.6L681.9 106.0L682.3 101.3L682.7 97.4L683.1 95.0L683.6 94.9L684.0 97.1L684.4 97.0L684.8 94.4L685.2 90.1L685.6 83.5L686.0 78.8L686.4 74.9L686.8 72.2L687.2 70.9L687.6 70.0L688.0 69.5L688.4 69.7L688.9 70.7L689.3 72.1L689.7 73.9L690.1 75.9L690.5 77.4L690.9 78.8L691.3 79.2L691.7 78.8L692.1 78.3L692.5 78.3L692.9 79.3L693.3 81.2L693.8 86.4L694.2 92.6L694.6 99.6L695.0 104.5L695.4 108.1L695.8 108.5L696.2 106.9L696.6 104.9L697.0 102.4L697.4 101.2L697.8 100.6L698.2 102.6L698.6 109.7L699.1 116.7L699.5 122.5L699.9 126.4L700.3 127.4L700.7 122.4L701.1 111.1L701.5 100.8L701.9 97.9L702.3 104.9L702.7 116.7L703.1 129.3L703.5 139.4L704.0 147.8L704.4 154.8L704.8 157.8L705.2 159.3L705.6 159.3L706.0 156.1L706.4 150.5L706.8 136.9L707.2 122.1L707.6 109.2L708.0 102.8L708.4 101.6L708.8 101.6L709.3 102.9L709.7 105.3L710.1 106.2L710.5 106.6L710.9 106.3L711.3 104.3L711.7 101.2L712.1 96.3L712.5 90.9L712.9 85.5L713.3 82.0L713.7 79.5L714.2 79.2L714.6 79.7L715.0 84.3L715.4 99.7L715.8 110.1L716.2 110.7L716.6 110.7L717.0 110.2L717.4 107.4L717.8 104.0L718.2 99.3L718.6 93.2L719.0 84.8L719.5 80.7L719.9 79.2L720.3 79.5L720.7 80.2L721.1 84.7L721.5 92.5L721.9 102.4L722.3 105.8L722.7 107.5L723.1 107.7L723.5 107.7L723.9 107.7L724.4 108.2L724.8 109.6L725.2 111.2L725.6 113.1L726.0 115.5L726.4 118.0L726.8 120.3L727.2 122.7L727.6 126.1L728.0 133.3L728.4 148.2L728.8 163.3L729.2 179.2L729.7 191.9L730.1 202.6L730.5 212.5L730.9 224.0L731.3 234.9L731.7 238.1L732.1 230.1L732.5 218.1L732.9 209.2L733.3 201.8L733.7 194.3L734.1 185.1L734.6 175.2L735.0 167.5L735.4 161.7L735.8 156.8L736.2 152.5L736.6 148.6L737.0 145.1L737.4 141.8L737.8 138.7L738.2 135.7L738.6 132.8L739.0 130.0L739.4 127.3L739.9 124.8L740.3 122.4L740.7 120.0L741.1 117.8L741.5 115.7L741.9 113.7L742.3 111.7L742.7 109.8L743.1 107.8L743.5 105.9L743.9 104.1L744.3 102.6L744.8 101.5L745.2 100.6L745.6 99.9L746.0 99.6L746.4 99.8L746.8 100.6L747.2 101.5L747.6 102.3L748.0 103.2L748.4 104.1L748.8 104.9L749.2 105.5L749.6 106.1L750.1 106.5L750.5 106.6L750.9 104.8L751.3 101.8L751.7 99.1L752.1 95.9L752.5 93.6L752.9 92.5L753.3 91.6L753.7 91.1L754.1 91.1L754.5 91.8L755.0 93.1L755.4 94.4L755.8 95.6L756.2 97.1L756.6 98.3L757.0 99.0L757.4 99.7L757.8 100.3L758.2 100.5L758.6 100.5L759.0 100.0L759.4 99.3L759.8 98.7L760.3 98.2L760.7 97.7L761.1 97.2L761.5 96.7" fill="none" stroke="#780000" stroke-width="4.0" stroke-linejoin="round" stroke-linecap="round" clip-path="url(#clipAR)"/>
<path d="M64.0 189.9L64.8 189.8L65.5 189.8L66.3 189.8L67.0 189.8L67.8 189.8L68.5 189.7L69.3 189.7L70.0 189.7L70.8 189.7L71.5 189.7L72.3 189.7L73.0 189.6L73.8 189.6L74.5 189.6L75.3 189.6L76.0 189.6L76.8 189.6L77.5 189.6L78.3 189.6L79.0 189.6L79.8 189.5L80.5 189.5L81.3 189.5L82.0 189.5L82.8 189.5L83.5 189.5L84.3 189.5L85.0 189.5L85.8 189.5L86.5 189.5L87.3 189.5L88.0 189.5L88.8 189.5L89.5 189.5L90.3 189.5L91.0 189.4L91.8 189.4L92.5 189.4L93.3 189.4L94.0 189.4L94.8 189.4L95.5 189.4L96.3 189.4L97.0 189.4L97.8 189.4L98.5 189.4L99.3 189.4L100.0 189.5L100.8 189.5L101.5 189.5L102.3 189.5L103.0 189.5L103.8 189.5L104.5 189.5L105.3 189.5L106.0 189.5L106.8 189.5L107.5 189.5L108.3 189.5L109.0 189.5L109.8 189.5L110.5 189.5L111.3 189.6L112.0 189.6L112.8 189.6L113.5 189.6L114.3 189.6L115.0 189.6L115.8 189.6L116.5 189.7L117.3 189.7L118.0 189.7L118.8 189.7L119.5 189.7L120.3 189.8L121.0 189.8L121.8 189.8L122.5 189.8L123.3 189.9L124.0 190.0L124.8 190.2L125.5 190.6L126.3 191.0L127.0 191.4L127.8 191.8L128.5 192.2L129.3 192.4L130.0 192.6L130.8 192.8L131.5 193.0L132.3 193.2L133.0 193.3L133.8 193.4L134.5 193.6L135.3 193.7L136.0 193.9L136.8 194.0L137.5 194.1L138.3 194.3L139.0 194.4L139.8 194.6L140.5 194.8L141.3 194.9L142.0 195.1L142.8 195.4L143.5 195.6L144.3 195.9L145.0 196.2L145.8 196.4L146.5 196.7L147.3 197.0L148.0 197.3L148.8 197.5L149.5 197.8L150.3 198.0L151.0 198.2L151.8 198.4L152.5 198.6L153.3 198.8L154.0 199.0L154.8 199.2L155.5 199.4L156.3 199.6L157.0 199.8L157.8 200.0L158.5 200.1L159.3 200.3L160.0 200.4L160.8 200.5L161.5 200.6L162.3 200.7L163.0 200.8L163.8 200.9L164.5 200.9L165.3 201.0L166.0 201.1L166.8 201.1L167.5 201.2L168.3 201.2L169.0 201.3L169.8 201.3L170.5 201.4L171.3 201.4L172.0 201.4L172.8 201.4L173.5 201.5L174.3 201.5L175.0 201.5L175.8 201.5L176.5 201.5L177.3 201.5L178.0 201.4L178.8 201.4L179.5 201.4L180.3 201.3L181.0 201.3L181.8 201.3L182.5 201.2L183.3 201.2L184.0 201.1L184.8 201.0L185.5 201.0L186.3 200.9L187.0 200.9L187.8 200.8L188.5 200.8L189.3 200.7L190.0 200.6L190.8 200.5L191.5 200.4L192.3 200.3L193.0 200.2L193.8 200.1L194.5 200.0L195.3 199.9L196.0 199.8L196.8 199.7L197.5 199.6L198.3 199.5L199.0 199.4L199.8 199.3L200.5 199.3L201.3 199.2L202.0 199.1L202.8 199.0L203.5 199.0L204.3 198.9L205.0 198.8L205.8 198.8L206.5 198.7L207.3 198.6L208.0 198.5L208.8 198.4L209.5 198.3L210.3 198.1L211.0 197.9L211.8 197.7L212.5 197.4L213.3 197.2L214.0 197.0L214.8 196.8L215.5 196.6L216.3 196.5L217.0 196.4L217.8 196.3L218.5 196.3L219.3 196.2L220.0 196.1L220.8 196.1L221.5 196.0L222.3 195.9L223.0 195.8L223.8 195.7L224.5 195.6L225.3 195.4L226.0 195.3L226.8 195.1L227.5 194.9L228.3 194.8L229.0 194.6L229.8 194.5L230.5 194.5L231.3 194.6L232.0 194.8L232.8 195.0L233.5 195.3L234.3 195.7L235.0 196.0L235.8 196.5L236.5 197.0L237.3 197.5L238.0 198.0L238.8 198.4L239.5 199.0L240.3 199.5L241.0 199.9L241.8 200.3L242.5 200.4L243.3 200.3L244.0 199.9L244.8 199.5L245.5 199.2L246.3 199.0L247.0 198.8L247.8 198.7L248.5 198.5L249.3 198.3L250.0 197.5L250.8 196.4L251.5 195.3L252.3 194.6L253.0 194.6L253.8 194.9L254.5 195.5L255.3 196.3L256.0 197.2L256.8 198.7L257.5 200.6L258.3 203.1L259.0 206.0L259.8 208.8L260.5 211.9L261.3 214.3L262.0 214.4L262.8 213.7L263.5 212.6L264.3 211.0L265.0 209.0L265.8 208.2L266.5 208.4L267.3 208.8L268.0 209.3L268.8 210.0L269.5 211.0L270.3 211.7L271.0 211.7L271.8 210.8L272.5 209.5L273.3 207.8L274.0 205.4L274.8 203.9L275.5 202.8L276.3 202.0L277.0 201.4L277.8 201.3L278.5 201.4L279.3 201.6L280.0 201.8L280.8 201.9L281.5 201.7L282.3 201.3L283.0 201.0L283.8 200.9L284.5 201.0L285.3 201.2L286.0 201.3L286.8 199.7L287.5 197.0L288.3 195.8L289.0 194.9L289.8 194.2L290.5 193.6L291.3 193.1L292.0 192.6L292.8 192.2L293.5 192.0L294.3 192.0L295.0 192.1L295.8 192.2L296.5 192.3L297.3 192.5L298.0 192.6L298.8 192.7L299.5 192.8L300.3 192.8L301.0 192.8L301.8 192.8L302.5 192.7L303.3 192.7L304.0 192.6L304.8 192.6L305.5 192.5L306.3 192.4L307.0 192.3L307.8 192.2L308.5 192.1L309.3 192.0L310.0 191.9L310.8 191.8L311.5 191.6L312.3 191.5L313.0 191.4L313.8 191.3L314.5 191.2L315.3 191.1L316.0 190.9L316.8 190.8L317.5 190.7L318.3 190.7L319.0 190.6L319.8 190.5L320.5 190.4L321.3 190.4L322.0 190.3L322.8 190.3L323.5 190.3L324.3 190.3L325.0 190.3L325.8 190.4L326.5 190.5L327.3 190.6L328.0 190.7L328.8 190.9L329.5 191.0L330.3 191.2L331.0 191.3L331.8 191.5L332.5 191.6L333.3 191.7L334.0 191.8L334.8 191.9L335.5 192.0L336.3 192.0L337.0 192.0L337.8 191.9L338.5 191.8L339.3 191.7L340.0 191.6L340.8 191.4L341.5 191.3L342.3 191.1L343.0 190.9L343.8 190.8L344.5 190.6L345.3 190.5L346.0 190.3L346.8 190.2L347.5 190.1L348.3 190.0L349.0 189.9L349.8 189.9L350.5 189.9L351.3 189.9L352.0 189.9L352.8 190.0L353.5 190.1L354.3 190.2L355.0 190.3L355.8 190.4L356.5 190.5L357.3 190.6L358.0 190.7L358.8 190.9L359.5 191.0L360.3 191.1L361.0 191.2L361.8 191.2L362.5 191.3L363.3 191.3L364.0 191.3L364.8 191.3L365.5 191.3L366.3 191.3L367.0 191.3L367.8 191.2L368.5 191.1L369.3 191.1L370.0 191.0L370.8 190.9L371.5 190.8L372.3 190.7L373.0 190.7L373.8 190.6L374.5 190.5L375.3 190.4L376.0 190.3L376.8 190.2L377.5 190.1L378.3 190.0L379.0 190.0L379.8 189.9L380.5 189.8L381.3 189.8L382.0 189.7L382.8 189.7L383.5 189.6L384.3 189.6L385.0 189.5L385.8 189.5L386.5 189.5L387.3 189.4L388.0 189.4L388.8 189.3L389.5 189.3L390.3 189.3L391.0 189.2L391.8 189.2L392.5 189.1L393.3 189.1L394.0 189.0L394.8 189.0L395.5 189.0L396.3 188.9L397.0 188.9L397.8 188.8L398.5 188.7L399.3 188.7L400.0 188.6L400.8 188.6L401.5 188.5L402.3 188.4L403.0 188.3L403.8 188.1L404.5 188.0L405.3 187.9L406.0 187.8L406.8 187.7L407.5 187.5L408.3 187.4L409.0 187.3L409.8 187.3L410.5 187.2L411.3 187.1L412.0 187.1L412.8 187.1L413.5 187.1L414.3 187.2L415.0 187.2L415.8 187.2L416.5 187.3L417.3 187.3L418.0 187.4L418.8 187.4L419.5 187.5L420.3 187.5L421.0 187.6L421.8 187.7L422.5 187.8L423.3 187.9L424.0 188.1L424.8 188.2L425.5 188.4L426.3 188.6L427.0 188.7L427.8 188.9L428.5 189.1L429.3 189.2L430.0 189.4L430.8 189.5L431.5 189.7L432.3 189.8L433.0 190.0L433.8 190.1L434.5 190.3L435.3 190.4L436.0 190.6L436.8 190.7L437.5 190.9L438.3 191.0L439.0 191.1L439.8 191.2L440.5 191.3L441.3 191.3L442.0 191.3L442.8 191.3L443.5 191.3L444.3 191.2L445.0 191.1L445.8 191.0L446.5 190.8L447.3 190.6L448.0 190.5L448.8 190.3L449.5 190.2L450.3 190.0L451.0 189.9L451.8 189.9L452.5 189.9L453.3 189.9L454.0 189.9L454.8 189.9L455.5 189.9L456.3 189.9L457.0 189.9L457.8 189.9L458.5 189.9L459.3 189.9L460.0 189.9L460.8 189.9L461.5 189.9L462.3 189.9L463.0 189.9L463.8 189.9L464.5 189.9L465.3 190.0L466.0 190.3L466.8 190.8L467.5 191.4L468.3 191.9L469.0 192.4L469.8 192.7L470.5 192.8L471.3 192.8L472.0 192.7L472.8 192.5L473.5 192.3L474.3 192.1L475.0 191.7L475.8 191.2L476.5 190.4L477.3 189.8L478.0 189.3L478.8 189.2L479.5 189.2L480.3 189.2L481.0 189.2L481.8 189.2L482.5 189.2L483.3 189.2L484.0 189.2L484.8 189.2L485.5 189.3L486.3 189.4L487.0 189.5L487.8 189.7L488.5 189.9L489.3 190.1L489.8 189.2L490.2 189.2L490.6 189.2L491.0 189.2L491.4 189.2L491.8 189.2L492.2 189.2L492.6 189.2L493.0 189.2L493.4 189.2L493.8 189.2L494.2 189.2L494.6 189.2L495.1 189.2L495.5 189.2L495.9 189.2L496.3 189.2L496.7 189.3L497.1 189.5L497.5 189.9L497.9 190.3L498.3 190.8L498.7 191.3L499.1 191.8L499.5 192.2L500.0 192.5L500.4 192.7L500.8 192.8L501.2 192.8L501.6 192.8L502.0 192.8L502.4 192.8L502.8 192.8L503.2 192.8L503.6 192.8L504.0 192.8L504.4 192.8L504.8 192.8L505.3 192.8L505.7 192.8L506.1 193.0L506.5 193.6L506.9 194.4L507.3 195.4L507.7 196.4L508.1 198.0L508.5 200.6L508.9 203.7L509.3 207.0L509.7 210.1L510.2 212.7L510.6 215.4L511.0 218.1L511.4 220.6L511.8 222.7L512.2 224.3L512.6 225.7L513.0 227.0L513.4 228.2L513.8 229.2L514.2 229.9L514.6 230.3L515.0 230.4L515.5 230.0L515.9 229.5L516.3 228.8L516.7 227.9L517.1 227.1L517.5 226.0L517.9 224.7L518.3 223.1L518.7 221.4L519.1 219.7L519.5 218.1L519.9 216.7L520.4 215.5L520.8 214.4L521.2 213.4L521.6 212.3L522.0 211.3L522.4 210.5L522.8 209.8L523.2 209.4L523.6 209.3L524.0 209.4L524.4 209.9L524.8 210.5L525.2 211.3L525.7 212.1L526.1 213.0L526.5 213.8L526.9 214.4L527.3 215.2L527.7 216.5L528.1 223.6L528.5 252.4L528.9 267.6L529.3 279.4L529.7 288.7L530.1 297.5L530.6 302.9L531.0 301.4L531.4 294.2L531.8 285.1L532.2 273.8L532.6 260.0L533.0 247.0L533.4 233.4L533.8 222.2L534.2 216.1L534.6 211.9L535.0 209.3L535.4 207.7L535.9 206.5L536.3 205.6L536.7 205.0L537.1 204.8L537.5 204.6L537.9 204.4L538.3 204.3L538.7 204.1L539.1 203.7L539.5 203.1L539.9 202.4L540.3 201.8L540.8 201.3L541.2 201.3L541.6 201.5L542.0 202.0L542.4 202.7L542.8 203.7L543.2 205.0L543.6 207.7L544.0 213.6L544.4 223.8L544.8 250.0L545.2 270.2L545.6 286.0L546.1 297.1L546.5 296.6L546.9 288.1L547.3 270.5L547.7 270.5L548.1 274.5L548.5 295.8L548.9 320.0L549.3 339.6L549.7 351.7L550.1 343.1L550.5 325.1L551.0 300.5L551.4 280.2L551.8 262.9L552.2 253.7L552.6 248.0L553.0 245.6L553.4 244.8L553.8 244.1L554.2 242.6L554.6 236.1L555.0 228.3L555.4 224.9L555.8 223.0L556.3 221.5L556.7 220.4L557.1 219.3L557.5 218.5L557.9 217.8L558.3 217.1L558.7 216.2L559.1 215.1L559.5 213.9L559.9 212.8L560.3 212.0L560.7 211.8L561.2 212.1L561.6 212.8L562.0 213.7L562.4 214.7L562.8 216.6L563.2 219.2L563.6 221.4L564.0 222.8L564.4 224.0L564.8 224.5L565.2 224.0L565.6 222.9L566.0 221.3L566.5 218.0L566.9 213.8L567.3 209.8L567.7 206.3L568.1 207.6L568.5 210.3L568.9 208.4L569.3 205.2L569.7 205.9L570.1 207.9L570.5 207.4L570.9 204.1L571.4 201.9L571.8 203.4L572.2 206.2L572.6 207.1L573.0 206.4L573.4 207.7L573.8 213.9L574.2 211.3L574.6 207.6L575.0 203.4L575.4 200.8L575.8 199.9L576.2 199.3L576.7 198.8L577.1 198.7L577.5 198.9L577.9 199.6L578.3 200.6L578.7 201.9L579.1 206.2L579.5 214.0L579.9 223.2L580.3 236.4L580.7 248.8L581.1 255.7L581.6 260.9L582.0 263.1L582.4 262.0L582.8 259.6L583.2 257.0L583.6 253.5L584.0 250.7L584.4 250.5L584.8 250.5L585.2 250.5L585.6 251.7L586.0 255.0L586.4 259.5L586.9 269.8L587.3 279.0L587.7 279.5L588.1 276.8L588.5 272.9L588.9 266.5L589.3 257.5L589.7 249.6L590.1 242.0L590.5 236.0L590.9 233.4L591.3 231.6L591.8 230.6L592.2 230.5L592.6 231.6L593.0 233.6L593.4 236.4L593.8 242.5L594.2 253.1L594.6 264.7L595.0 277.6L595.4 291.7L595.8 306.0L596.2 321.1L596.6 334.6L597.1 345.9L597.5 355.7L597.9 362.5L598.3 367.4L598.7 370.3L599.1 370.2L599.5 367.2L599.9 362.1L600.3 355.2L600.7 345.2L601.1 333.9L601.5 319.7L602.0 304.6L602.4 291.5L602.8 279.1L603.2 269.5L603.6 263.5L604.0 259.4L604.4 258.5L604.8 258.0L605.2 254.5L605.6 247.6L606.0 240.5L606.4 232.8L606.8 226.9L607.3 221.9L607.7 218.3L608.1 217.3L608.5 216.7L608.9 217.0L609.3 219.3L609.7 223.1L610.1 229.4L610.5 240.3L610.9 252.9L611.3 268.4L611.7 284.8L612.2 303.2L612.6 312.6L613.0 297.8L613.4 279.5L613.8 271.6L614.2 270.7L614.6 288.4L615.0 310.4L615.4 333.6L615.8 354.5L616.2 369.4L616.6 364.2L617.0 343.9L617.5 324.8L617.9 304.5L618.3 286.5L618.7 271.8L619.1 258.6L619.5 249.1L619.9 243.6L620.3 239.2L620.7 236.0L621.1 234.6L621.5 235.3L621.9 237.4L622.4 241.3L622.8 256.2L623.2 275.3L623.6 298.5L624.0 318.7L624.4 337.4L624.8 348.7L625.2 341.0L625.6 320.6L626.0 305.3L626.4 291.7L626.8 277.0L627.2 262.2L627.7 258.2L628.1 256.8L628.5 260.2L628.9 267.4L629.3 274.5L629.7 276.8L630.1 276.3L630.5 275.1L630.9 271.8L631.3 266.5L631.7 256.0L632.1 246.1L632.6 239.0L633.0 233.0L633.4 228.2L633.8 224.1L634.2 220.7L634.6 218.2L635.0 216.2L635.4 214.6L635.8 213.3L636.2 212.2L636.6 211.2L637.0 210.4L637.4 209.8L637.9 209.1L638.3 208.4L638.7 207.8L639.1 207.6L639.5 208.8L639.9 212.0L640.3 227.4L640.7 247.0L641.1 263.2L641.5 276.8L641.9 274.3L642.3 259.8L642.8 244.9L643.2 232.0L643.6 221.8L644.0 216.4L644.4 213.0L644.8 210.6L645.2 208.8L645.6 207.3L646.0 206.1L646.4 205.2L646.8 204.3L647.2 203.5L647.6 202.8L648.1 202.5L648.5 202.5L648.9 202.6L649.3 202.8L649.7 202.9L650.1 203.1L650.5 203.5L650.9 203.9L651.3 204.3L651.7 204.6L652.1 204.6L652.5 204.4L653.0 204.0L653.4 203.6L653.8 203.2L654.2 202.9L654.6 202.7L655.0 202.5L655.4 202.4L655.8 202.2L656.2 201.9L656.6 201.4L657.0 200.5L657.4 199.5L657.8 198.8L658.3 198.5L658.7 198.3L659.1 198.3L659.5 199.0L659.9 200.1L660.3 200.3L660.7 199.7L661.1 198.9L661.5 198.1L661.9 197.0L662.3 196.1L662.7 195.6L663.2 195.6L663.6 195.7L664.0 195.9L664.4 196.1L664.8 196.5L665.2 197.3L665.6 198.5L666.0 200.3L666.4 204.9L666.8 212.9L667.2 228.3L667.6 245.1L668.0 263.3L668.5 276.9L668.9 288.0L669.3 291.3L669.7 283.5L670.1 273.3L670.5 261.5L670.9 259.0L671.3 259.8L671.7 265.9L672.1 276.8L672.5 286.8L672.9 291.5L673.4 283.1L673.8 275.8L674.2 271.0L674.6 270.8L675.0 272.2L675.4 280.4L675.8 296.0L676.2 310.9L676.6 321.7L677.0 329.1L677.4 330.0L677.8 324.5L678.2 316.7L678.7 304.7L679.1 292.1L679.5 280.0L679.9 270.5L680.3 263.5L680.7 257.8L681.1 253.1L681.5 249.3L681.9 245.5L682.3 240.7L682.7 236.6L683.1 234.1L683.6 234.0L684.0 236.3L684.4 236.2L684.8 233.5L685.2 229.0L685.6 222.2L686.0 217.3L686.4 213.2L686.8 210.5L687.2 209.2L687.6 208.1L688.0 207.6L688.4 207.8L688.9 208.9L689.3 210.3L689.7 212.2L690.1 214.3L690.5 215.9L690.9 217.3L691.3 217.7L691.7 217.3L692.1 216.8L692.5 216.8L692.9 217.8L693.3 219.8L693.8 225.2L694.2 231.6L694.6 238.9L695.0 243.9L695.4 247.7L695.8 248.1L696.2 246.4L696.6 244.4L697.0 241.8L697.4 240.5L697.8 240.0L698.2 242.0L698.6 249.4L699.1 256.7L699.5 262.6L699.9 266.7L700.3 267.7L700.7 262.6L701.1 250.9L701.5 240.2L701.9 237.2L702.3 244.3L702.7 256.6L703.1 269.7L703.5 280.2L704.0 288.9L704.4 296.2L704.8 299.3L705.2 300.9L705.6 300.8L706.0 297.5L706.4 291.6L706.8 277.6L707.2 262.2L707.6 248.9L708.0 242.2L708.4 241.0L708.8 241.0L709.3 242.3L709.7 244.8L710.1 245.7L710.5 246.2L710.9 245.8L711.3 243.8L711.7 240.5L712.1 235.5L712.5 229.9L712.9 224.2L713.3 220.6L713.7 218.1L714.2 217.8L714.6 218.2L715.0 223.0L715.4 239.0L715.8 249.8L716.2 250.5L716.6 250.5L717.0 249.8L717.4 247.0L717.8 243.5L718.2 238.6L718.6 232.3L719.0 223.5L719.5 219.3L719.9 217.7L720.3 218.0L720.7 218.7L721.1 223.5L721.5 231.6L721.9 241.8L722.3 245.3L722.7 247.1L723.1 247.3L723.5 247.3L723.9 247.3L724.4 247.9L724.8 249.3L725.2 250.9L725.6 252.9L726.0 255.4L726.4 258.0L726.8 260.3L727.2 262.8L727.6 266.4L728.0 273.9L728.4 289.3L728.8 305.0L729.2 321.4L729.7 334.7L730.1 345.8L730.5 356.1L730.9 367.7L731.3 376.5L731.7 378.5L732.1 373.0L732.5 361.8L732.9 352.6L733.3 345.0L733.7 337.1L734.1 327.6L734.6 317.4L735.0 309.3L735.4 303.3L735.8 298.3L736.2 293.8L736.6 289.8L737.0 286.1L737.4 282.7L737.8 279.4L738.2 276.3L738.6 273.3L739.0 270.4L739.4 267.7L739.9 265.0L740.3 262.5L740.7 260.1L741.1 257.8L741.5 255.6L741.9 253.5L742.3 251.5L742.7 249.5L743.1 247.4L743.5 245.4L743.9 243.5L744.3 242.0L744.8 240.8L745.2 239.9L745.6 239.2L746.0 238.8L746.4 239.1L746.8 239.9L747.2 240.9L747.6 241.7L748.0 242.6L748.4 243.6L748.8 244.4L749.2 245.0L749.6 245.6L750.1 246.1L750.5 246.2L750.9 244.3L751.3 241.2L751.7 238.3L752.1 235.1L752.5 232.7L752.9 231.5L753.3 230.6L753.7 230.1L754.1 230.0L754.5 230.8L755.0 232.1L755.4 233.5L755.8 234.8L756.2 236.3L756.6 237.5L757.0 238.3L757.4 239.0L757.8 239.6L758.2 239.9L758.6 239.8L759.0 239.3L759.4 238.6L759.8 238.0L760.3 237.4L760.7 236.9L761.1 236.4L761.5 235.8" fill="none" stroke="#0000FF" stroke-width="4.0" stroke-linejoin="round" stroke-linecap="round" clip-path="url(#clipAL)"/>
<path d="M64.0 189.9L64.8 189.8L65.5 189.8L66.3 189.8L67.0 189.8L67.8 189.8L68.5 189.7L69.3 189.7L70.0 189.7L70.8 189.7L71.5 189.7L72.3 189.7L73.0 189.6L73.8 189.6L74.5 189.6L75.3 189.6L76.0 189.6L76.8 189.6L77.5 189.6L78.3 189.6L79.0 189.6L79.8 189.5L80.5 189.5L81.3 189.5L82.0 189.5L82.8 189.5L83.5 189.5L84.3 189.5L85.0 189.5L85.8 189.5L86.5 189.5L87.3 189.5L88.0 189.5L88.8 189.5L89.5 189.5L90.3 189.5L91.0 189.4L91.8 189.4L92.5 189.4L93.3 189.4L94.0 189.4L94.8 189.4L95.5 189.4L96.3 189.4L97.0 189.4L97.8 189.4L98.5 189.4L99.3 189.4L100.0 189.5L100.8 189.5L101.5 189.5L102.3 189.5L103.0 189.5L103.8 189.5L104.5 189.5L105.3 189.5L106.0 189.5L106.8 189.5L107.5 189.5L108.3 189.5L109.0 189.5L109.8 189.5L110.5 189.5L111.3 189.6L112.0 189.6L112.8 189.6L113.5 189.6L114.3 189.6L115.0 189.6L115.8 189.6L116.5 189.7L117.3 189.7L118.0 189.7L118.8 189.7L119.5 189.7L120.3 189.8L121.0 189.8L121.8 189.8L122.5 189.8L123.3 189.9L124.0 190.0L124.8 190.2L125.5 190.6L126.3 191.0L127.0 191.4L127.8 191.8L128.5 192.2L129.3 192.4L130.0 192.6L130.8 192.8L131.5 193.0L132.3 193.2L133.0 193.3L133.8 193.4L134.5 193.6L135.3 193.7L136.0 193.9L136.8 194.0L137.5 194.1L138.3 194.3L139.0 194.4L139.8 194.6L140.5 194.8L141.3 194.9L142.0 195.1L142.8 195.4L143.5 195.6L144.3 195.9L145.0 196.2L145.8 196.4L146.5 196.7L147.3 197.0L148.0 197.3L148.8 197.5L149.5 197.8L150.3 198.0L151.0 198.2L151.8 198.4L152.5 198.6L153.3 198.8L154.0 199.0L154.8 199.2L155.5 199.4L156.3 199.6L157.0 199.8L157.8 200.0L158.5 200.1L159.3 200.3L160.0 200.4L160.8 200.5L161.5 200.6L162.3 200.7L163.0 200.8L163.8 200.9L164.5 200.9L165.3 201.0L166.0 201.1L166.8 201.1L167.5 201.2L168.3 201.2L169.0 201.3L169.8 201.3L170.5 201.4L171.3 201.4L172.0 201.4L172.8 201.4L173.5 201.5L174.3 201.5L175.0 201.5L175.8 201.5L176.5 201.5L177.3 201.5L178.0 201.4L178.8 201.4L179.5 201.4L180.3 201.3L181.0 201.3L181.8 201.3L182.5 201.2L183.3 201.2L184.0 201.1L184.8 201.0L185.5 201.0L186.3 200.9L187.0 200.9L187.8 200.8L188.5 200.8L189.3 200.7L190.0 200.6L190.8 200.5L191.5 200.4L192.3 200.3L193.0 200.2L193.8 200.1L194.5 200.0L195.3 199.9L196.0 199.8L196.8 199.7L197.5 199.6L198.3 199.5L199.0 199.4L199.8 199.3L200.5 199.3L201.3 199.2L202.0 199.1L202.8 199.0L203.5 199.0L204.3 198.9L205.0 198.8L205.8 198.8L206.5 198.7L207.3 198.6L208.0 198.5L208.8 198.4L209.5 198.3L210.3 198.1L211.0 197.9L211.8 197.7L212.5 197.4L213.3 197.2L214.0 197.0L214.8 196.8L215.5 196.6L216.3 196.5L217.0 196.4L217.8 196.3L218.5 196.3L219.3 196.2L220.0 196.1L220.8 196.1L221.5 196.0L222.3 195.9L223.0 195.8L223.8 195.7L224.5 195.6L225.3 195.4L226.0 195.3L226.8 195.1L227.5 194.9L228.3 194.8L229.0 194.6L229.8 194.5L230.5 194.5L231.3 194.6L232.0 194.8L232.8 195.0L233.5 195.3L234.3 195.7L235.0 196.0L235.8 196.5L236.5 197.0L237.3 197.5L238.0 198.0L238.8 198.4L239.5 199.0L240.3 199.5L241.0 199.9L241.8 200.3L242.5 200.4L243.3 200.3L244.0 199.9L244.8 199.5L245.5 199.2L246.3 199.0L247.0 198.8L247.8 198.7L248.5 198.5L249.3 198.3L250.0 197.5L250.8 196.4L251.5 195.3L252.3 194.6L253.0 194.6L253.8 194.9L254.5 195.5L255.3 196.3L256.0 197.2L256.8 198.7L257.5 200.6L258.3 203.1L259.0 206.0L259.8 208.8L260.5 211.9L261.3 214.3L262.0 214.4L262.8 213.7L263.5 212.6L264.3 211.0L265.0 209.0L265.8 208.2L266.5 208.4L267.3 208.8L268.0 209.3L268.8 210.0L269.5 211.0L270.3 211.7L271.0 211.7L271.8 210.8L272.5 209.5L273.3 207.8L274.0 205.4L274.8 203.9L275.5 202.8L276.3 202.0L277.0 201.4L277.8 201.3L278.5 201.4L279.3 201.6L280.0 201.8L280.8 201.9L281.5 201.7L282.3 201.3L283.0 201.0L283.8 200.9L284.5 201.0L285.3 201.2L286.0 201.3L286.8 199.7L287.5 197.0L288.3 195.8L289.0 194.9L289.8 194.2L290.5 193.6L291.3 193.1L292.0 192.6L292.8 192.2L293.5 192.0L294.3 192.0L295.0 192.1L295.8 192.2L296.5 192.3L297.3 192.5L298.0 192.6L298.8 192.7L299.5 192.8L300.3 192.8L301.0 192.8L301.8 192.8L302.5 192.7L303.3 192.7L304.0 192.6L304.8 192.6L305.5 192.5L306.3 192.4L307.0 192.3L307.8 192.2L308.5 192.1L309.3 192.0L310.0 191.9L310.8 191.8L311.5 191.6L312.3 191.5L313.0 191.4L313.8 191.3L314.5 191.2L315.3 191.1L316.0 190.9L316.8 190.8L317.5 190.7L318.3 190.7L319.0 190.6L319.8 190.5L320.5 190.4L321.3 190.4L322.0 190.3L322.8 190.3L323.5 190.3L324.3 190.3L325.0 190.3L325.8 190.4L326.5 190.5L327.3 190.6L328.0 190.7L328.8 190.9L329.5 191.0L330.3 191.2L331.0 191.3L331.8 191.5L332.5 191.6L333.3 191.7L334.0 191.8L334.8 191.9L335.5 192.0L336.3 192.0L337.0 192.0L337.8 191.9L338.5 191.8L339.3 191.7L340.0 191.6L340.8 191.4L341.5 191.3L342.3 191.1L343.0 190.9L343.8 190.8L344.5 190.6L345.3 190.5L346.0 190.3L346.8 190.2L347.5 190.1L348.3 190.0L349.0 189.9L349.8 189.9L350.5 189.9L351.3 189.9L352.0 189.9L352.8 190.0L353.5 190.1L354.3 190.2L355.0 190.3L355.8 190.4L356.5 190.5L357.3 190.6L358.0 190.7L358.8 190.9L359.5 191.0L360.3 191.1L361.0 191.2L361.8 191.2L362.5 191.3L363.3 191.3L364.0 191.3L364.8 191.3L365.5 191.3L366.3 191.3L367.0 191.3L367.8 191.2L368.5 191.1L369.3 191.1L370.0 191.0L370.8 190.9L371.5 190.8L372.3 190.7L373.0 190.7L373.8 190.6L374.5 190.5L375.3 190.4L376.0 190.3L376.8 190.2L377.5 190.1L378.3 190.0L379.0 190.0L379.8 189.9L380.5 189.8L381.3 189.8L382.0 189.7L382.8 189.7L383.5 189.6L384.3 189.6L385.0 189.5L385.8 189.5L386.5 189.5L387.3 189.4L388.0 189.4L388.8 189.3L389.5 189.3L390.3 189.3L391.0 189.2L391.8 189.2L392.5 189.1L393.3 189.1L394.0 189.0L394.8 189.0L395.5 189.0L396.3 188.9L397.0 188.9L397.8 188.8L398.5 188.7L399.3 188.7L400.0 188.6L400.8 188.6L401.5 188.5L402.3 188.4L403.0 188.3L403.8 188.1L404.5 188.0L405.3 187.9L406.0 187.8L406.8 187.7L407.5 187.5L408.3 187.4L409.0 187.3L409.8 187.3L410.5 187.2L411.3 187.1L412.0 187.1L412.8 187.1L413.5 187.1L414.3 187.2L415.0 187.2L415.8 187.2L416.5 187.3L417.3 187.3L418.0 187.4L418.8 187.4L419.5 187.5L420.3 187.5L421.0 187.6L421.8 187.7L422.5 187.8L423.3 187.9L424.0 188.1L424.8 188.2L425.5 188.4L426.3 188.6L427.0 188.7L427.8 188.9L428.5 189.1L429.3 189.2L430.0 189.4L430.8 189.5L431.5 189.7L432.3 189.8L433.0 190.0L433.8 190.1L434.5 190.3L435.3 190.4L436.0 190.6L436.8 190.7L437.5 190.9L438.3 191.0L439.0 191.1L439.8 191.2L440.5 191.3L441.3 191.3L442.0 191.3L442.8 191.3L443.5 191.3L444.3 191.2L445.0 191.1L445.8 191.0L446.5 190.8L447.3 190.6L448.0 190.5L448.8 190.3L449.5 190.2L450.3 190.0L451.0 189.9L451.8 189.9L452.5 189.9L453.3 189.9L454.0 189.9L454.8 189.9L455.5 189.9L456.3 189.9L457.0 189.9L457.8 189.9L458.5 189.9L459.3 189.9L460.0 189.9L460.8 189.9L461.5 189.9L462.3 189.9L463.0 189.9L463.8 189.9L464.5 189.9L465.3 190.0L466.0 190.3L466.8 190.8L467.5 191.4L468.3 191.9L469.0 192.4L469.8 192.7L470.5 192.8L471.3 192.8L472.0 192.7L472.8 192.5L473.5 192.3L474.3 192.1L475.0 191.7L475.8 191.2L476.5 190.4L477.3 189.8L478.0 189.3L478.8 189.2L479.5 189.2L480.3 189.2L481.0 189.2L481.8 189.2L482.5 189.2L483.3 189.2L484.0 189.2L484.8 189.2L485.5 189.3L486.3 189.4L487.0 189.5L487.8 189.7L488.5 189.9L489.3 190.1L489.8 189.2L490.2 189.2L490.6 189.2L491.0 189.2L491.4 189.2L491.8 189.2L492.2 189.2L492.6 189.2L493.0 189.2L493.4 189.2L493.8 189.2L494.2 189.2L494.6 189.2L495.1 189.2L495.5 189.2L495.9 189.2L496.3 189.2L496.7 189.3L497.1 189.5L497.5 189.9L497.9 190.3L498.3 190.8L498.7 191.3L499.1 191.8L499.5 192.2L500.0 192.5L500.4 192.7L500.8 192.8L501.2 192.8L501.6 192.8L502.0 192.8L502.4 192.8L502.8 192.8L503.2 192.8L503.6 192.8L504.0 192.8L504.4 192.8L504.8 192.8L505.3 192.8L505.7 192.8L506.1 193.0L506.5 193.6L506.9 194.4L507.3 195.4L507.7 196.4L508.1 198.0L508.5 200.6L508.9 203.7L509.3 207.0L509.7 210.1L510.2 212.7L510.6 215.4L511.0 218.1L511.4 220.6L511.8 222.7L512.2 224.3L512.6 225.7L513.0 227.0L513.4 228.2L513.8 229.2L514.2 229.9L514.6 230.3L515.0 230.4L515.5 230.0L515.9 229.5L516.3 228.8L516.7 227.9L517.1 227.1L517.5 226.0L517.9 224.7L518.3 223.1L518.7 221.4L519.1 219.7L519.5 218.1L519.9 216.7L520.4 215.5L520.8 214.4L521.2 213.4L521.6 212.3L522.0 211.3L522.4 210.5L522.8 209.8L523.2 209.4L523.6 209.3L524.0 209.4L524.4 209.9L524.8 210.5L525.2 211.3L525.7 212.1L526.1 213.0L526.5 213.8L526.9 214.4L527.3 215.2L527.7 216.5L528.1 223.6L528.5 252.4L528.9 267.6L529.3 279.4L529.7 288.7L530.1 297.5L530.6 302.9L531.0 301.4L531.4 294.2L531.8 285.1L532.2 273.8L532.6 260.0L533.0 247.0L533.4 233.4L533.8 222.2L534.2 216.1L534.6 211.9L535.0 209.3L535.4 207.7L535.9 206.5L536.3 205.6L536.7 205.0L537.1 204.8L537.5 204.6L537.9 204.4L538.3 204.3L538.7 204.1L539.1 203.7L539.5 203.1L539.9 202.4L540.3 201.8L540.8 201.3L541.2 201.3L541.6 201.5L542.0 202.0L542.4 202.7L542.8 203.7L543.2 205.0L543.6 207.7L544.0 213.6L544.4 223.8L544.8 250.0L545.2 270.2L545.6 286.0L546.1 297.1L546.5 296.6L546.9 288.1L547.3 270.5L547.7 270.5L548.1 274.5L548.5 295.8L548.9 320.0L549.3 339.6L549.7 351.7L550.1 343.1L550.5 325.1L551.0 300.5L551.4 280.2L551.8 262.9L552.2 253.7L552.6 248.0L553.0 245.6L553.4 244.8L553.8 244.1L554.2 242.6L554.6 236.1L555.0 228.3L555.4 224.9L555.8 223.0L556.3 221.5L556.7 220.4L557.1 219.3L557.5 218.5L557.9 217.8L558.3 217.1L558.7 216.2L559.1 215.1L559.5 213.9L559.9 212.8L560.3 212.0L560.7 211.8L561.2 212.1L561.6 212.8L562.0 213.7L562.4 214.7L562.8 216.6L563.2 219.2L563.6 221.4L564.0 222.8L564.4 224.0L564.8 224.5L565.2 224.0L565.6 222.9L566.0 221.3L566.5 218.0L566.9 213.8L567.3 209.8L567.7 206.3L568.1 207.6L568.5 210.3L568.9 208.4L569.3 205.2L569.7 205.9L570.1 207.9L570.5 207.4L570.9 204.1L571.4 201.9L571.8 203.4L572.2 206.2L572.6 207.1L573.0 206.4L573.4 207.7L573.8 213.9L574.2 211.3L574.6 207.6L575.0 203.4L575.4 200.8L575.8 199.9L576.2 199.3L576.7 198.8L577.1 198.7L577.5 198.9L577.9 199.6L578.3 200.6L578.7 201.9L579.1 206.2L579.5 214.0L579.9 223.2L580.3 236.4L580.7 248.8L581.1 255.7L581.6 260.9L582.0 263.1L582.4 262.0L582.8 259.6L583.2 257.0L583.6 253.5L584.0 250.7L584.4 250.5L584.8 250.5L585.2 250.5L585.6 251.7L586.0 255.0L586.4 259.5L586.9 269.8L587.3 279.0L587.7 279.5L588.1 276.8L588.5 272.9L588.9 266.5L589.3 257.5L589.7 249.6L590.1 242.0L590.5 236.0L590.9 233.4L591.3 231.6L591.8 230.6L592.2 230.5L592.6 231.6L593.0 233.6L593.4 236.4L593.8 242.5L594.2 253.1L594.6 264.7L595.0 277.6L595.4 291.7L595.8 306.0L596.2 321.1L596.6 334.6L597.1 345.9L597.5 355.7L597.9 362.5L598.3 367.4L598.7 370.3L599.1 370.2L599.5 367.2L599.9 362.1L600.3 355.2L600.7 345.2L601.1 333.9L601.5 319.7L602.0 304.6L602.4 291.5L602.8 279.1L603.2 269.5L603.6 263.5L604.0 259.4L604.4 258.5L604.8 258.0L605.2 254.5L605.6 247.6L606.0 240.5L606.4 232.8L606.8 226.9L607.3 221.9L607.7 218.3L608.1 217.3L608.5 216.7L608.9 217.0L609.3 219.3L609.7 223.1L610.1 229.4L610.5 240.3L610.9 252.9L611.3 268.4L611.7 284.8L612.2 303.2L612.6 312.6L613.0 297.8L613.4 279.5L613.8 271.6L614.2 270.7L614.6 288.4L615.0 310.4L615.4 333.6L615.8 354.5L616.2 369.4L616.6 364.2L617.0 343.9L617.5 324.8L617.9 304.5L618.3 286.5L618.7 271.8L619.1 258.6L619.5 249.1L619.9 243.6L620.3 239.2L620.7 236.0L621.1 234.6L621.5 235.3L621.9 237.4L622.4 241.3L622.8 256.2L623.2 275.3L623.6 298.5L624.0 318.7L624.4 337.4L624.8 348.7L625.2 341.0L625.6 320.6L626.0 305.3L626.4 291.7L626.8 277.0L627.2 262.2L627.7 258.2L628.1 256.8L628.5 260.2L628.9 267.4L629.3 274.5L629.7 276.8L630.1 276.3L630.5 275.1L630.9 271.8L631.3 266.5L631.7 256.0L632.1 246.1L632.6 239.0L633.0 233.0L633.4 228.2L633.8 224.1L634.2 220.7L634.6 218.2L635.0 216.2L635.4 214.6L635.8 213.3L636.2 212.2L636.6 211.2L637.0 210.4L637.4 209.8L637.9 209.1L638.3 208.4L638.7 207.8L639.1 207.6L639.5 208.8L639.9 212.0L640.3 227.4L640.7 247.0L641.1 263.2L641.5 276.8L641.9 274.3L642.3 259.8L642.8 244.9L643.2 232.0L643.6 221.8L644.0 216.4L644.4 213.0L644.8 210.6L645.2 208.8L645.6 207.3L646.0 206.1L646.4 205.2L646.8 204.3L647.2 203.5L647.6 202.8L648.1 202.5L648.5 202.5L648.9 202.6L649.3 202.8L649.7 202.9L650.1 203.1L650.5 203.5L650.9 203.9L651.3 204.3L651.7 204.6L652.1 204.6L652.5 204.4L653.0 204.0L653.4 203.6L653.8 203.2L654.2 202.9L654.6 202.7L655.0 202.5L655.4 202.4L655.8 202.2L656.2 201.9L656.6 201.4L657.0 200.5L657.4 199.5L657.8 198.8L658.3 198.5L658.7 198.3L659.1 198.3L659.5 199.0L659.9 200.1L660.3 200.3L660.7 199.7L661.1 198.9L661.5 198.1L661.9 197.0L662.3 196.1L662.7 195.6L663.2 195.6L663.6 195.7L664.0 195.9L664.4 196.1L664.8 196.5L665.2 197.3L665.6 198.5L666.0 200.3L666.4 204.9L666.8 212.9L667.2 228.3L667.6 245.1L668.0 263.3L668.5 276.9L668.9 288.0L669.3 291.3L669.7 283.5L670.1 273.3L670.5 261.5L670.9 259.0L671.3 259.8L671.7 265.9L672.1 276.8L672.5 286.8L672.9 291.5L673.4 283.1L673.8 275.8L674.2 271.0L674.6 270.8L675.0 272.2L675.4 280.4L675.8 296.0L676.2 310.9L676.6 321.7L677.0 329.1L677.4 330.0L677.8 324.5L678.2 316.7L678.7 304.7L679.1 292.1L679.5 280.0L679.9 270.5L680.3 263.5L680.7 257.8L681.1 253.1L681.5 249.3L681.9 245.5L682.3 240.7L682.7 236.6L683.1 234.1L683.6 234.0L684.0 236.3L684.4 236.2L684.8 233.5L685.2 229.0L685.6 222.2L686.0 217.3L686.4 213.2L686.8 210.5L687.2 209.2L687.6 208.1L688.0 207.6L688.4 207.8L688.9 208.9L689.3 210.3L689.7 212.2L690.1 214.3L690.5 215.9L690.9 217.3L691.3 217.7L691.7 217.3L692.1 216.8L692.5 216.8L692.9 217.8L693.3 219.8L693.8 225.2L694.2 231.6L694.6 238.9L695.0 243.9L695.4 247.7L695.8 248.1L696.2 246.4L696.6 244.4L697.0 241.8L697.4 240.5L697.8 240.0L698.2 242.0L698.6 249.4L699.1 256.7L699.5 262.6L699.9 266.7L700.3 267.7L700.7 262.6L701.1 250.9L701.5 240.2L701.9 237.2L702.3 244.3L702.7 256.6L703.1 269.7L703.5 280.2L704.0 288.9L704.4 296.2L704.8 299.3L705.2 300.9L705.6 300.8L706.0 297.5L706.4 291.6L706.8 277.6L707.2 262.2L707.6 248.9L708.0 242.2L708.4 241.0L708.8 241.0L709.3 242.3L709.7 244.8L710.1 245.7L710.5 246.2L710.9 245.8L711.3 243.8L711.7 240.5L712.1 235.5L712.5 229.9L712.9 224.2L713.3 220.6L713.7 218.1L714.2 217.8L714.6 218.2L715.0 223.0L715.4 239.0L715.8 249.8L716.2 250.5L716.6 250.5L717.0 249.8L717.4 247.0L717.8 243.5L718.2 238.6L718.6 232.3L719.0 223.5L719.5 219.3L719.9 217.7L720.3 218.0L720.7 218.7L721.1 223.5L721.5 231.6L721.9 241.8L722.3 245.3L722.7 247.1L723.1 247.3L723.5 247.3L723.9 247.3L724.4 247.9L724.8 249.3L725.2 250.9L725.6 252.9L726.0 255.4L726.4 258.0L726.8 260.3L727.2 262.8L727.6 266.4L728.0 273.9L728.4 289.3L728.8 305.0L729.2 321.4L729.7 334.7L730.1 345.8L730.5 356.1L730.9 367.7L731.3 376.5L731.7 378.5L732.1 373.0L732.5 361.8L732.9 352.6L733.3 345.0L733.7 337.1L734.1 327.6L734.6 317.4L735.0 309.3L735.4 303.3L735.8 298.3L736.2 293.8L736.6 289.8L737.0 286.1L737.4 282.7L737.8 279.4L738.2 276.3L738.6 273.3L739.0 270.4L739.4 267.7L739.9 265.0L740.3 262.5L740.7 260.1L741.1 257.8L741.5 255.6L741.9 253.5L742.3 251.5L742.7 249.5L743.1 247.4L743.5 245.4L743.9 243.5L744.3 242.0L744.8 240.8L745.2 239.9L745.6 239.2L746.0 238.8L746.4 239.1L746.8 239.9L747.2 240.9L747.6 241.7L748.0 242.6L748.4 243.6L748.8 244.4L749.2 245.0L749.6 245.6L750.1 246.1L750.5 246.2L750.9 244.3L751.3 241.2L751.7 238.3L752.1 235.1L752.5 232.7L752.9 231.5L753.3 230.6L753.7 230.1L754.1 230.0L754.5 230.8L755.0 232.1L755.4 233.5L755.8 234.8L756.2 236.3L756.6 237.5L757.0 238.3L757.4 239.0L757.8 239.6L758.2 239.9L758.6 239.8L759.0 239.3L759.4 238.6L759.8 238.0L760.3 237.4L760.7 236.9L761.1 236.4L761.5 235.8" fill="none" stroke="#0000FF" stroke-width="4.3" stroke-linejoin="round" stroke-linecap="round" clip-path="url(#clipAR)"/>
<path d="M64.0 332.1L64.8 332.0L65.5 332.0L66.3 332.0L67.0 332.0L67.8 332.0L68.5 331.9L69.3 331.9L70.0 331.9L70.8 331.9L71.5 331.9L72.3 331.9L73.0 331.8L73.8 331.8L74.5 331.8L75.3 331.8L76.0 331.8L76.8 331.8L77.5 331.8L78.3 331.8L79.0 331.8L79.8 331.7L80.5 331.7L81.3 331.7L82.0 331.7L82.8 331.7L83.5 331.7L84.3 331.7L85.0 331.7L85.8 331.7L86.5 331.7L87.3 331.7L88.0 331.7L88.8 331.7L89.5 331.7L90.3 331.7L91.0 331.6L91.8 331.6L92.5 331.6L93.3 331.6L94.0 331.6L94.8 331.6L95.5 331.6L96.3 331.6L97.0 331.6L97.8 331.6L98.5 331.6L99.3 331.6L100.0 331.7L100.8 331.7L101.5 331.7L102.3 331.7L103.0 331.7L103.8 331.7L104.5 331.7L105.3 331.7L106.0 331.7L106.8 331.7L107.5 331.7L108.3 331.7L109.0 331.7L109.8 331.7L110.5 331.7L111.3 331.8L112.0 331.8L112.8 331.8L113.5 331.8L114.3 331.8L115.0 331.8L115.8 331.8L116.5 331.9L117.3 331.9L118.0 331.9L118.8 331.9L119.5 331.9L120.3 332.0L121.0 332.0L121.8 332.0L122.5 332.0L123.3 332.1L124.0 332.2L124.8 332.4L125.5 332.8L126.3 333.2L127.0 333.6L127.8 334.0L128.5 334.4L129.3 334.6L130.0 334.8L130.8 335.0L131.5 335.2L132.3 335.4L133.0 335.5L133.8 335.6L134.5 335.8L135.3 335.9L136.0 336.1L136.8 336.2L137.5 336.3L138.3 336.5L139.0 336.6L139.8 336.8L140.5 337.0L141.3 337.1L142.0 337.3L142.8 337.6L143.5 337.8L144.3 338.1L145.0 338.4L145.8 338.6L146.5 338.9L147.3 339.2L148.0 339.5L148.8 339.7L149.5 340.0L150.3 340.2L151.0 340.4L151.8 340.6L152.5 340.8L153.3 341.0L154.0 341.2L154.8 341.4L155.5 341.6L156.3 341.8L157.0 342.0L157.8 342.2L158.5 342.3L159.3 342.5L160.0 342.6L160.8 342.7L161.5 342.8L162.3 342.9L163.0 343.0L163.8 343.1L164.5 343.1L165.3 343.2L166.0 343.3L166.8 343.3L167.5 343.4L168.3 343.4L169.0 343.5L169.8 343.5L170.5 343.6L171.3 343.6L172.0 343.6L172.8 343.6L173.5 343.7L174.3 343.7L175.0 343.7L175.8 343.7L176.5 343.7L177.3 343.7L178.0 343.6L178.8 343.6L179.5 343.6L180.3 343.5L181.0 343.5L181.8 343.5L182.5 343.4L183.3 343.4L184.0 343.3L184.8 343.2L185.5 343.2L186.3 343.1L187.0 343.1L187.8 343.0L188.5 343.0L189.3 342.9L190.0 342.8L190.8 342.7L191.5 342.6L192.3 342.5L193.0 342.4L193.8 342.3L194.5 342.2L195.3 342.1L196.0 342.0L196.8 341.9L197.5 341.8L198.3 341.7L199.0 341.6L199.8 341.5L200.5 341.5L201.3 341.4L202.0 341.3L202.8 341.2L203.5 341.2L204.3 341.1L205.0 341.0L205.8 341.0L206.5 340.9L207.3 340.8L208.0 340.7L208.8 340.6L209.5 340.5L210.3 340.3L211.0 340.1L211.8 339.9L212.5 339.6L213.3 339.4L214.0 339.2L214.8 339.0L215.5 338.8L216.3 338.7L217.0 338.6L217.8 338.5L218.5 338.5L219.3 338.4L220.0 338.3L220.8 338.3L221.5 338.2L222.3 338.1L223.0 338.0L223.8 337.9L224.5 337.8L225.3 337.6L226.0 337.5L226.8 337.3L227.5 337.1L228.3 337.0L229.0 336.8L229.8 336.7L230.5 336.7L231.3 336.8L232.0 337.0L232.8 337.2L233.5 337.5L234.3 337.9L235.0 338.2L235.8 338.7L236.5 339.2L237.3 339.7L238.0 340.2L238.8 340.6L239.5 341.2L240.3 341.7L241.0 342.1L241.8 342.5L242.5 342.6L243.3 342.5L244.0 342.1L244.8 341.7L245.5 341.4L246.3 341.2L247.0 341.0L247.8 340.9L248.5 340.7L249.3 340.5L250.0 339.7L250.8 338.6L251.5 337.5L252.3 336.8L253.0 336.8L253.8 337.1L254.5 337.7L255.3 338.5L256.0 339.4L256.8 340.9L257.5 342.8L258.3 345.3L259.0 348.2L259.8 351.0L260.5 354.1L261.3 356.5L262.0 356.6L262.8 355.9L263.5 354.8L264.3 353.2L265.0 351.2L265.8 350.4L266.5 350.6L267.3 351.0L268.0 351.5L268.8 352.2L269.5 353.2L270.3 353.9L271.0 353.9L271.8 353.0L272.5 351.7L273.3 350.0L274.0 347.6L274.8 346.1L275.5 345.0L276.3 344.2L277.0 343.6L277.8 343.5L278.5 343.6L279.3 343.8L280.0 344.0L280.8 344.1L281.5 343.9L282.3 343.5L283.0 343.2L283.8 343.1L284.5 343.2L285.3 343.4L286.0 343.5L286.8 341.9L287.5 339.2L288.3 338.0L289.0 337.1L289.8 336.4L290.5 335.8L291.3 335.3L292.0 334.8L292.8 334.4L293.5 334.2L294.3 334.2L295.0 334.3L295.8 334.4L296.5 334.5L297.3 334.7L298.0 334.8L298.8 334.9L299.5 335.0L300.3 335.0L301.0 335.0L301.8 335.0L302.5 334.9L303.3 334.9L304.0 334.8L304.8 334.8L305.5 334.7L306.3 334.6L307.0 334.5L307.8 334.4L308.5 334.3L309.3 334.2L310.0 334.1L310.8 334.0L311.5 333.8L312.3 333.7L313.0 333.6L313.8 333.5L314.5 333.4L315.3 333.3L316.0 333.1L316.8 333.0L317.5 332.9L318.3 332.9L319.0 332.8L319.8 332.7L320.5 332.6L321.3 332.6L322.0 332.5L322.8 332.5L323.5 332.5L324.3 332.5L325.0 332.5L325.8 332.6L326.5 332.7L327.3 332.8L328.0 332.9L328.8 333.1L329.5 333.2L330.3 333.4L331.0 333.5L331.8 333.7L332.5 333.8L333.3 333.9L334.0 334.0L334.8 334.1L335.5 334.2L336.3 334.2L337.0 334.2L337.8 334.1L338.5 334.0L339.3 333.9L340.0 333.8L340.8 333.6L341.5 333.5L342.3 333.3L343.0 333.1L343.8 333.0L344.5 332.8L345.3 332.7L346.0 332.5L346.8 332.4L347.5 332.3L348.3 332.2L349.0 332.1L349.8 332.1L350.5 332.1L351.3 332.1L352.0 332.1L352.8 332.2L353.5 332.3L354.3 332.4L355.0 332.5L355.8 332.6L356.5 332.7L357.3 332.8L358.0 332.9L358.8 333.1L359.5 333.2L360.3 333.3L361.0 333.4L361.8 333.4L362.5 333.5L363.3 333.5L364.0 333.5L364.8 333.5L365.5 333.5L366.3 333.5L367.0 333.5L367.8 333.4L368.5 333.3L369.3 333.3L370.0 333.2L370.8 333.1L371.5 333.0L372.3 332.9L373.0 332.9L373.8 332.8L374.5 332.7L375.3 332.6L376.0 332.5L376.8 332.4L377.5 332.3L378.3 332.2L379.0 332.2L379.8 332.1L380.5 332.0L381.3 332.0L382.0 331.9L382.8 331.9L383.5 331.8L384.3 331.8L385.0 331.7L385.8 331.7L386.5 331.7L387.3 331.6L388.0 331.6L388.8 331.5L389.5 331.5L390.3 331.5L391.0 331.4L391.8 331.4L392.5 331.3L393.3 331.3L394.0 331.2L394.8 331.2L395.5 331.2L396.3 331.1L397.0 331.1L397.8 331.0L398.5 330.9L399.3 330.9L400.0 330.8L400.8 330.8L401.5 330.7L402.3 330.6L403.0 330.5L403.8 330.3L404.5 330.2L405.3 330.1L406.0 330.0L406.8 329.9L407.5 329.7L408.3 329.6L409.0 329.5L409.8 329.5L410.5 329.4L411.3 329.3L412.0 329.3L412.8 329.3L413.5 329.3L414.3 329.4L415.0 329.4L415.8 329.4L416.5 329.5L417.3 329.5L418.0 329.6L418.8 329.6L419.5 329.7L420.3 329.7L421.0 329.8L421.8 329.9L422.5 330.0L423.3 330.1L424.0 330.3L424.8 330.4L425.5 330.6L426.3 330.8L427.0 330.9L427.8 331.1L428.5 331.3L429.3 331.4L430.0 331.6L430.8 331.7L431.5 331.9L432.3 332.0L433.0 332.2L433.8 332.3L434.5 332.5L435.3 332.6L436.0 332.8L436.8 332.9L437.5 333.1L438.3 333.2L439.0 333.3L439.8 333.4L440.5 333.5L441.3 333.5L442.0 333.5L442.8 333.5L443.5 333.5L444.3 333.4L445.0 333.3L445.8 333.2L446.5 333.0L447.3 332.8L448.0 332.7L448.8 332.5L449.5 332.4L450.3 332.2L451.0 332.1L451.8 332.1L452.5 332.1L453.3 332.1L454.0 332.1L454.8 332.1L455.5 332.1L456.3 332.1L457.0 332.1L457.8 332.1L458.5 332.1L459.3 332.1L460.0 332.1L460.8 332.1L461.5 332.1L462.3 332.1L463.0 332.1L463.8 332.1L464.5 332.1L465.3 332.2L466.0 332.5L466.8 333.0L467.5 333.6L468.3 334.1L469.0 334.6L469.8 334.9L470.5 335.0L471.3 335.0L472.0 334.9L472.8 334.7L473.5 334.5L474.3 334.3L475.0 333.9L475.8 333.4L476.5 332.6L477.3 332.0L478.0 331.5L478.8 331.4L479.5 331.4L480.3 331.4L481.0 331.4L481.8 331.4L482.5 331.4L483.3 331.4L484.0 331.4L484.8 331.4L485.5 331.5L486.3 331.6L487.0 331.7L487.8 331.9L488.5 332.1L489.3 332.3L489.8 331.4L490.2 331.4L490.6 331.4L491.0 331.4L491.4 331.4L491.8 331.4L492.2 331.4L492.6 331.4L493.0 331.4L493.4 331.4L493.8 331.4L494.2 331.4L494.6 331.4L495.1 331.4L495.5 331.4L495.9 331.4L496.3 331.4L496.7 331.5L497.1 331.7L497.5 332.1L497.9 332.5L498.3 333.0L498.7 333.5L499.1 334.0L499.5 334.4L500.0 334.7L500.4 334.9L500.8 335.0L501.2 335.0L501.6 335.0L502.0 335.0L502.4 335.0L502.8 335.0L503.2 335.0L503.6 335.0L504.0 335.0L504.4 335.0L504.8 335.0L505.3 335.0L505.7 335.0L506.1 335.2L506.5 335.8L506.9 336.6L507.3 337.6L507.7 338.6L508.1 340.2L508.5 342.8L508.9 345.9L509.3 349.2L509.7 352.3L510.2 354.9L510.6 357.6L511.0 360.3L511.4 362.8L511.8 364.9L512.2 366.5L512.6 367.9L513.0 369.2L513.4 370.4L513.8 371.4L514.2 372.1L514.6 372.5L515.0 372.6L515.5 372.2L515.9 371.7L516.3 371.0L516.7 370.1L517.1 369.3L517.5 368.2L517.9 366.9L518.3 365.3L518.7 363.6L519.1 361.9L519.5 360.3L519.9 358.9L520.4 357.7L520.8 356.6L521.2 355.6L521.6 354.5L522.0 353.5L522.4 352.7L522.8 352.0L523.2 351.6L523.6 351.5L524.0 351.6L524.4 352.1L524.8 352.7L525.2 353.5L525.7 354.3L526.1 355.2L526.5 356.0L526.9 356.6L527.3 357.4L527.7 358.7L528.1 365.8L528.5 394.6L528.9 409.8L529.3 421.6L529.7 430.9L530.1 439.7L530.6 445.1L531.0 443.6L531.4 436.4L531.8 427.3L532.2 416.0L532.6 402.2L533.0 389.2L533.4 375.6L533.8 364.4L534.2 358.3L534.6 354.1L535.0 351.5L535.4 349.9L535.9 348.7L536.3 347.8L536.7 347.2L537.1 347.0L537.5 346.8L537.9 346.6L538.3 346.5L538.7 346.3L539.1 345.9L539.5 345.3L539.9 344.6L540.3 344.0L540.8 343.5L541.2 343.5L541.6 343.7L542.0 344.2L542.4 344.9L542.8 345.9L543.2 347.2L543.6 349.9L544.0 355.8L544.4 366.0L544.8 392.2L545.2 412.4L545.6 428.2L546.1 439.3L546.5 438.8L546.9 430.3L547.3 412.7L547.7 412.7L548.1 416.7L548.5 438.0L548.9 462.2L549.3 481.8L549.7 493.9L550.1 485.3L550.5 467.3L551.0 442.7L551.4 422.4L551.8 405.1L552.2 395.9L552.6 390.2L553.0 387.8L553.4 387.0L553.8 386.3L554.2 384.8L554.6 378.3L555.0 370.5L555.4 367.1L555.8 365.2L556.3 363.7L556.7 362.6L557.1 361.5L557.5 360.7L557.9 360.0L558.3 359.3L558.7 358.4L559.1 357.3L559.5 356.1L559.9 355.0L560.3 354.2L560.7 354.0L561.2 354.3L561.6 355.0L562.0 355.9L562.4 356.9L562.8 358.8L563.2 361.4L563.6 363.6L564.0 365.0L564.4 366.2L564.8 366.7L565.2 366.2L565.6 365.1L566.0 363.5L566.5 360.2L566.9 356.0L567.3 352.0L567.7 348.5L568.1 349.8L568.5 352.5L568.9 350.6L569.3 347.4L569.7 348.1L570.1 350.1L570.5 349.6L570.9 346.3L571.4 344.1L571.8 345.6L572.2 348.4L572.6 349.3L573.0 348.6L573.4 349.9L573.8 356.1L574.2 353.5L574.6 349.8L575.0 345.6L575.4 343.0L575.8 342.1L576.2 341.5L576.7 341.0L577.1 340.9L577.5 341.1L577.9 341.8L578.3 342.8L578.7 344.1L579.1 348.4L579.5 356.2L579.9 365.4L580.3 378.6L580.7 391.0L581.1 397.9L581.6 403.1L582.0 405.3L582.4 404.2L582.8 401.8L583.2 399.2L583.6 395.7L584.0 392.9L584.4 392.7L584.8 392.7L585.2 392.7L585.6 393.9L586.0 397.2L586.4 401.7L586.9 412.0L587.3 421.2L587.7 421.7L588.1 419.0L588.5 415.1L588.9 408.7L589.3 399.7L589.7 391.8L590.1 384.2L590.5 378.2L590.9 375.6L591.3 373.8L591.8 372.8L592.2 372.7L592.6 373.8L593.0 375.8L593.4 378.6L593.8 384.7L594.2 395.3L594.6 406.9L595.0 419.8L595.4 433.9L595.8 448.2L596.2 463.3L596.6 476.8L597.1 488.1L597.5 497.9L597.9 504.7L598.3 509.8L598.7 513.0L599.1 512.8L599.5 509.5L599.9 504.3L600.3 497.4L600.7 487.4L601.1 476.1L601.5 461.9L602.0 446.8L602.4 433.7L602.8 421.3L603.2 411.7L603.6 405.7L604.0 401.6L604.4 400.7L604.8 400.2L605.2 396.7L605.6 389.8L606.0 382.7L606.4 375.0L606.8 369.1L607.3 364.1L607.7 360.5L608.1 359.5L608.5 358.9L608.9 359.2L609.3 361.5L609.7 365.3L610.1 371.6L610.5 382.5L610.9 395.1L611.3 410.6L611.7 427.0L612.2 445.4L612.6 454.8L613.0 440.0L613.4 421.7L613.8 413.8L614.2 412.9L614.6 430.6L615.0 452.6L615.4 475.8L615.8 496.7L616.2 511.9L616.6 506.4L617.0 486.1L617.5 467.0L617.9 446.7L618.3 428.7L618.7 414.0L619.1 400.8L619.5 391.3L619.9 385.8L620.3 381.4L620.7 378.2L621.1 376.8L621.5 377.5L621.9 379.6L622.4 383.5L622.8 398.4L623.2 417.5L623.6 440.7L624.0 460.9L624.4 479.6L624.8 490.9L625.2 483.2L625.6 462.8L626.0 447.5L626.4 433.9L626.8 419.2L627.2 404.4L627.7 400.4L628.1 399.0L628.5 402.4L628.9 409.6L629.3 416.7L629.7 419.0L630.1 418.5L630.5 417.3L630.9 414.0L631.3 408.7L631.7 398.2L632.1 388.3L632.6 381.2L633.0 375.2L633.4 370.4L633.8 366.3L634.2 362.9L634.6 360.4L635.0 358.4L635.4 356.8L635.8 355.5L636.2 354.4L636.6 353.4L637.0 352.6L637.4 352.0L637.9 351.3L638.3 350.6L638.7 350.0L639.1 349.8L639.5 351.0L639.9 354.2L640.3 369.6L640.7 389.2L641.1 405.4L641.5 419.0L641.9 416.5L642.3 402.0L642.8 387.1L643.2 374.2L643.6 364.0L644.0 358.6L644.4 355.2L644.8 352.8L645.2 351.0L645.6 349.5L646.0 348.3L646.4 347.4L646.8 346.5L647.2 345.7L647.6 345.0L648.1 344.7L648.5 344.7L648.9 344.8L649.3 345.0L649.7 345.1L650.1 345.3L650.5 345.7L650.9 346.1L651.3 346.5L651.7 346.8L652.1 346.8L652.5 346.6L653.0 346.2L653.4 345.8L653.8 345.4L654.2 345.1L654.6 344.9L655.0 344.7L655.4 344.6L655.8 344.4L656.2 344.1L656.6 343.6L657.0 342.7L657.4 341.7L657.8 341.0L658.3 340.7L658.7 340.5L659.1 340.5L659.5 341.2L659.9 342.3L660.3 342.5L660.7 341.9L661.1 341.1L661.5 340.3L661.9 339.2L662.3 338.3L662.7 337.8L663.2 337.8L663.6 337.9L664.0 338.1L664.4 338.3L664.8 338.7L665.2 339.5L665.6 340.7L666.0 342.5L666.4 347.1L666.8 355.1L667.2 370.5L667.6 387.3L668.0 405.5L668.5 419.1L668.9 430.2L669.3 433.5L669.7 425.7L670.1 415.5L670.5 403.7L670.9 401.2L671.3 402.0L671.7 408.1L672.1 419.0L672.5 429.0L672.9 433.7L673.4 425.3L673.8 418.0L674.2 413.2L674.6 413.0L675.0 414.4L675.4 422.6L675.8 438.2L676.2 453.1L676.6 463.9L677.0 471.3L677.4 472.2L677.8 466.7L678.2 458.9L678.7 446.9L679.1 434.3L679.5 422.2L679.9 412.7L680.3 405.7L680.7 400.0L681.1 395.3L681.5 391.5L681.9 387.7L682.3 382.9L682.7 378.8L683.1 376.3L683.6 376.2L684.0 378.5L684.4 378.4L684.8 375.7L685.2 371.2L685.6 364.4L686.0 359.5L686.4 355.4L686.8 352.7L687.2 351.4L687.6 350.3L688.0 349.8L688.4 350.0L688.9 351.1L689.3 352.5L689.7 354.4L690.1 356.5L690.5 358.1L690.9 359.5L691.3 359.9L691.7 359.5L692.1 359.0L692.5 359.0L692.9 360.0L693.3 362.0L693.8 367.4L694.2 373.8L694.6 381.1L695.0 386.1L695.4 389.9L695.8 390.3L696.2 388.6L696.6 386.6L697.0 384.0L697.4 382.7L697.8 382.2L698.2 384.2L698.6 391.6L699.1 398.9L699.5 404.8L699.9 408.9L700.3 409.9L700.7 404.8L701.1 393.1L701.5 382.4L701.9 379.4L702.3 386.5L702.7 398.8L703.1 411.9L703.5 422.4L704.0 431.1L704.4 438.4L704.8 441.5L705.2 443.1L705.6 443.0L706.0 439.7L706.4 433.8L706.8 419.8L707.2 404.4L707.6 391.1L708.0 384.4L708.4 383.2L708.8 383.2L709.3 384.5L709.7 387.0L710.1 387.9L710.5 388.4L710.9 388.0L711.3 386.0L711.7 382.7L712.1 377.7L712.5 372.1L712.9 366.4L713.3 362.8L713.7 360.3L714.2 360.0L714.6 360.4L715.0 365.2L715.4 381.2L715.8 392.0L716.2 392.7L716.6 392.7L717.0 392.0L717.4 389.2L717.8 385.7L718.2 380.8L718.6 374.5L719.0 365.7L719.5 361.5L719.9 359.9L720.3 360.2L720.7 360.9L721.1 365.7L721.5 373.8L721.9 384.0L722.3 387.5L722.7 389.3L723.1 389.5L723.5 389.5L723.9 389.5L724.4 390.1L724.8 391.5L725.2 393.1L725.6 395.1L726.0 397.6L726.4 400.2L726.8 402.5L727.2 405.0L727.6 408.6L728.0 416.1L728.4 431.5L728.8 447.2L729.2 463.6L729.7 476.9L730.1 488.0L730.5 498.3L730.9 510.0L731.3 520.3L731.7 523.1L732.1 516.0L732.5 504.0L732.9 494.8L733.3 487.2L733.7 479.3L734.1 469.8L734.6 459.6L735.0 451.5L735.4 445.5L735.8 440.5L736.2 436.0L736.6 432.0L737.0 428.3L737.4 424.9L737.8 421.6L738.2 418.5L738.6 415.5L739.0 412.6L739.4 409.9L739.9 407.2L740.3 404.7L740.7 402.3L741.1 400.0L741.5 397.8L741.9 395.7L742.3 393.7L742.7 391.7L743.1 389.6L743.5 387.6L743.9 385.7L744.3 384.2L744.8 383.0L745.2 382.1L745.6 381.4L746.0 381.0L746.4 381.3L746.8 382.1L747.2 383.1L747.6 383.9L748.0 384.8L748.4 385.8L748.8 386.6L749.2 387.2L749.6 387.8L750.1 388.3L750.5 388.4L750.9 386.5L751.3 383.4L751.7 380.5L752.1 377.3L752.5 374.9L752.9 373.7L753.3 372.8L753.7 372.3L754.1 372.2L754.5 373.0L755.0 374.3L755.4 375.7L755.8 377.0L756.2 378.5L756.6 379.7L757.0 380.5L757.4 381.2L757.8 381.8L758.2 382.1L758.6 382.0L759.0 381.5L759.4 380.8L759.8 380.2L760.3 379.6L760.7 379.1L761.1 378.6L761.5 378.0" fill="none" stroke="#6FBE44" stroke-width="2.5" stroke-linejoin="round" stroke-linecap="round" clip-path="url(#clipAL)"/>
<path d="M64.0 332.1L64.8 332.0L65.5 332.0L66.3 332.0L67.0 332.0L67.8 332.0L68.5 331.9L69.3 331.9L70.0 331.9L70.8 331.9L71.5 331.9L72.3 331.9L73.0 331.8L73.8 331.8L74.5 331.8L75.3 331.8L76.0 331.8L76.8 331.8L77.5 331.8L78.3 331.8L79.0 331.8L79.8 331.7L80.5 331.7L81.3 331.7L82.0 331.7L82.8 331.7L83.5 331.7L84.3 331.7L85.0 331.7L85.8 331.7L86.5 331.7L87.3 331.7L88.0 331.7L88.8 331.7L89.5 331.7L90.3 331.7L91.0 331.6L91.8 331.6L92.5 331.6L93.3 331.6L94.0 331.6L94.8 331.6L95.5 331.6L96.3 331.6L97.0 331.6L97.8 331.6L98.5 331.6L99.3 331.6L100.0 331.7L100.8 331.7L101.5 331.7L102.3 331.7L103.0 331.7L103.8 331.7L104.5 331.7L105.3 331.7L106.0 331.7L106.8 331.7L107.5 331.7L108.3 331.7L109.0 331.7L109.8 331.7L110.5 331.7L111.3 331.8L112.0 331.8L112.8 331.8L113.5 331.8L114.3 331.8L115.0 331.8L115.8 331.8L116.5 331.9L117.3 331.9L118.0 331.9L118.8 331.9L119.5 331.9L120.3 332.0L121.0 332.0L121.8 332.0L122.5 332.0L123.3 332.1L124.0 332.2L124.8 332.4L125.5 332.8L126.3 333.2L127.0 333.6L127.8 334.0L128.5 334.4L129.3 334.6L130.0 334.8L130.8 335.0L131.5 335.2L132.3 335.4L133.0 335.5L133.8 335.6L134.5 335.8L135.3 335.9L136.0 336.1L136.8 336.2L137.5 336.3L138.3 336.5L139.0 336.6L139.8 336.8L140.5 337.0L141.3 337.1L142.0 337.3L142.8 337.6L143.5 337.8L144.3 338.1L145.0 338.4L145.8 338.6L146.5 338.9L147.3 339.2L148.0 339.5L148.8 339.7L149.5 340.0L150.3 340.2L151.0 340.4L151.8 340.6L152.5 340.8L153.3 341.0L154.0 341.2L154.8 341.4L155.5 341.6L156.3 341.8L157.0 342.0L157.8 342.2L158.5 342.3L159.3 342.5L160.0 342.6L160.8 342.7L161.5 342.8L162.3 342.9L163.0 343.0L163.8 343.1L164.5 343.1L165.3 343.2L166.0 343.3L166.8 343.3L167.5 343.4L168.3 343.4L169.0 343.5L169.8 343.5L170.5 343.6L171.3 343.6L172.0 343.6L172.8 343.6L173.5 343.7L174.3 343.7L175.0 343.7L175.8 343.7L176.5 343.7L177.3 343.7L178.0 343.6L178.8 343.6L179.5 343.6L180.3 343.5L181.0 343.5L181.8 343.5L182.5 343.4L183.3 343.4L184.0 343.3L184.8 343.2L185.5 343.2L186.3 343.1L187.0 343.1L187.8 343.0L188.5 343.0L189.3 342.9L190.0 342.8L190.8 342.7L191.5 342.6L192.3 342.5L193.0 342.4L193.8 342.3L194.5 342.2L195.3 342.1L196.0 342.0L196.8 341.9L197.5 341.8L198.3 341.7L199.0 341.6L199.8 341.5L200.5 341.5L201.3 341.4L202.0 341.3L202.8 341.2L203.5 341.2L204.3 341.1L205.0 341.0L205.8 341.0L206.5 340.9L207.3 340.8L208.0 340.7L208.8 340.6L209.5 340.5L210.3 340.3L211.0 340.1L211.8 339.9L212.5 339.6L213.3 339.4L214.0 339.2L214.8 339.0L215.5 338.8L216.3 338.7L217.0 338.6L217.8 338.5L218.5 338.5L219.3 338.4L220.0 338.3L220.8 338.3L221.5 338.2L222.3 338.1L223.0 338.0L223.8 337.9L224.5 337.8L225.3 337.6L226.0 337.5L226.8 337.3L227.5 337.1L228.3 337.0L229.0 336.8L229.8 336.7L230.5 336.7L231.3 336.8L232.0 337.0L232.8 337.2L233.5 337.5L234.3 337.9L235.0 338.2L235.8 338.7L236.5 339.2L237.3 339.7L238.0 340.2L238.8 340.6L239.5 341.2L240.3 341.7L241.0 342.1L241.8 342.5L242.5 342.6L243.3 342.5L244.0 342.1L244.8 341.7L245.5 341.4L246.3 341.2L247.0 341.0L247.8 340.9L248.5 340.7L249.3 340.5L250.0 339.7L250.8 338.6L251.5 337.5L252.3 336.8L253.0 336.8L253.8 337.1L254.5 337.7L255.3 338.5L256.0 339.4L256.8 340.9L257.5 342.8L258.3 345.3L259.0 348.2L259.8 351.0L260.5 354.1L261.3 356.5L262.0 356.6L262.8 355.9L263.5 354.8L264.3 353.2L265.0 351.2L265.8 350.4L266.5 350.6L267.3 351.0L268.0 351.5L268.8 352.2L269.5 353.2L270.3 353.9L271.0 353.9L271.8 353.0L272.5 351.7L273.3 350.0L274.0 347.6L274.8 346.1L275.5 345.0L276.3 344.2L277.0 343.6L277.8 343.5L278.5 343.6L279.3 343.8L280.0 344.0L280.8 344.1L281.5 343.9L282.3 343.5L283.0 343.2L283.8 343.1L284.5 343.2L285.3 343.4L286.0 343.5L286.8 341.9L287.5 339.2L288.3 338.0L289.0 337.1L289.8 336.4L290.5 335.8L291.3 335.3L292.0 334.8L292.8 334.4L293.5 334.2L294.3 334.2L295.0 334.3L295.8 334.4L296.5 334.5L297.3 334.7L298.0 334.8L298.8 334.9L299.5 335.0L300.3 335.0L301.0 335.0L301.8 335.0L302.5 334.9L303.3 334.9L304.0 334.8L304.8 334.8L305.5 334.7L306.3 334.6L307.0 334.5L307.8 334.4L308.5 334.3L309.3 334.2L310.0 334.1L310.8 334.0L311.5 333.8L312.3 333.7L313.0 333.6L313.8 333.5L314.5 333.4L315.3 333.3L316.0 333.1L316.8 333.0L317.5 332.9L318.3 332.9L319.0 332.8L319.8 332.7L320.5 332.6L321.3 332.6L322.0 332.5L322.8 332.5L323.5 332.5L324.3 332.5L325.0 332.5L325.8 332.6L326.5 332.7L327.3 332.8L328.0 332.9L328.8 333.1L329.5 333.2L330.3 333.4L331.0 333.5L331.8 333.7L332.5 333.8L333.3 333.9L334.0 334.0L334.8 334.1L335.5 334.2L336.3 334.2L337.0 334.2L337.8 334.1L338.5 334.0L339.3 333.9L340.0 333.8L340.8 333.6L341.5 333.5L342.3 333.3L343.0 333.1L343.8 333.0L344.5 332.8L345.3 332.7L346.0 332.5L346.8 332.4L347.5 332.3L348.3 332.2L349.0 332.1L349.8 332.1L350.5 332.1L351.3 332.1L352.0 332.1L352.8 332.2L353.5 332.3L354.3 332.4L355.0 332.5L355.8 332.6L356.5 332.7L357.3 332.8L358.0 332.9L358.8 333.1L359.5 333.2L360.3 333.3L361.0 333.4L361.8 333.4L362.5 333.5L363.3 333.5L364.0 333.5L364.8 333.5L365.5 333.5L366.3 333.5L367.0 333.5L367.8 333.4L368.5 333.3L369.3 333.3L370.0 333.2L370.8 333.1L371.5 333.0L372.3 332.9L373.0 332.9L373.8 332.8L374.5 332.7L375.3 332.6L376.0 332.5L376.8 332.4L377.5 332.3L378.3 332.2L379.0 332.2L379.8 332.1L380.5 332.0L381.3 332.0L382.0 331.9L382.8 331.9L383.5 331.8L384.3 331.8L385.0 331.7L385.8 331.7L386.5 331.7L387.3 331.6L388.0 331.6L388.8 331.5L389.5 331.5L390.3 331.5L391.0 331.4L391.8 331.4L392.5 331.3L393.3 331.3L394.0 331.2L394.8 331.2L395.5 331.2L396.3 331.1L397.0 331.1L397.8 331.0L398.5 330.9L399.3 330.9L400.0 330.8L400.8 330.8L401.5 330.7L402.3 330.6L403.0 330.5L403.8 330.3L404.5 330.2L405.3 330.1L406.0 330.0L406.8 329.9L407.5 329.7L408.3 329.6L409.0 329.5L409.8 329.5L410.5 329.4L411.3 329.3L412.0 329.3L412.8 329.3L413.5 329.3L414.3 329.4L415.0 329.4L415.8 329.4L416.5 329.5L417.3 329.5L418.0 329.6L418.8 329.6L419.5 329.7L420.3 329.7L421.0 329.8L421.8 329.9L422.5 330.0L423.3 330.1L424.0 330.3L424.8 330.4L425.5 330.6L426.3 330.8L427.0 330.9L427.8 331.1L428.5 331.3L429.3 331.4L430.0 331.6L430.8 331.7L431.5 331.9L432.3 332.0L433.0 332.2L433.8 332.3L434.5 332.5L435.3 332.6L436.0 332.8L436.8 332.9L437.5 333.1L438.3 333.2L439.0 333.3L439.8 333.4L440.5 333.5L441.3 333.5L442.0 333.5L442.8 333.5L443.5 333.5L444.3 333.4L445.0 333.3L445.8 333.2L446.5 333.0L447.3 332.8L448.0 332.7L448.8 332.5L449.5 332.4L450.3 332.2L451.0 332.1L451.8 332.1L452.5 332.1L453.3 332.1L454.0 332.1L454.8 332.1L455.5 332.1L456.3 332.1L457.0 332.1L457.8 332.1L458.5 332.1L459.3 332.1L460.0 332.1L460.8 332.1L461.5 332.1L462.3 332.1L463.0 332.1L463.8 332.1L464.5 332.1L465.3 332.2L466.0 332.5L466.8 333.0L467.5 333.6L468.3 334.1L469.0 334.6L469.8 334.9L470.5 335.0L471.3 335.0L472.0 334.9L472.8 334.7L473.5 334.5L474.3 334.3L475.0 333.9L475.8 333.4L476.5 332.6L477.3 332.0L478.0 331.5L478.8 331.4L479.5 331.4L480.3 331.4L481.0 331.4L481.8 331.4L482.5 331.4L483.3 331.4L484.0 331.4L484.8 331.4L485.5 331.5L486.3 331.6L487.0 331.7L487.8 331.9L488.5 332.1L489.3 332.3L489.8 331.4L490.2 331.4L490.6 331.4L491.0 331.4L491.4 331.4L491.8 331.4L492.2 331.4L492.6 331.4L493.0 331.4L493.4 331.4L493.8 331.4L494.2 331.4L494.6 331.4L495.1 331.4L495.5 331.4L495.9 331.4L496.3 331.4L496.7 331.5L497.1 331.7L497.5 332.1L497.9 332.5L498.3 333.0L498.7 333.5L499.1 334.0L499.5 334.4L500.0 334.7L500.4 334.9L500.8 335.0L501.2 335.0L501.6 335.0L502.0 335.0L502.4 335.0L502.8 335.0L503.2 335.0L503.6 335.0L504.0 335.0L504.4 335.0L504.8 335.0L505.3 335.0L505.7 335.0L506.1 335.2L506.5 335.8L506.9 336.6L507.3 337.6L507.7 338.6L508.1 340.2L508.5 342.8L508.9 345.9L509.3 349.2L509.7 352.3L510.2 354.9L510.6 357.6L511.0 360.3L511.4 362.8L511.8 364.9L512.2 366.5L512.6 367.9L513.0 369.2L513.4 370.4L513.8 371.4L514.2 372.1L514.6 372.5L515.0 372.6L515.5 372.2L515.9 371.7L516.3 371.0L516.7 370.1L517.1 369.3L517.5 368.2L517.9 366.9L518.3 365.3L518.7 363.6L519.1 361.9L519.5 360.3L519.9 358.9L520.4 357.7L520.8 356.6L521.2 355.6L521.6 354.5L522.0 353.5L522.4 352.7L522.8 352.0L523.2 351.6L523.6 351.5L524.0 351.6L524.4 352.1L524.8 352.7L525.2 353.5L525.7 354.3L526.1 355.2L526.5 356.0L526.9 356.6L527.3 357.4L527.7 358.7L528.1 365.8L528.5 394.6L528.9 409.8L529.3 421.6L529.7 430.9L530.1 439.7L530.6 445.1L531.0 443.6L531.4 436.4L531.8 427.3L532.2 416.0L532.6 402.2L533.0 389.2L533.4 375.6L533.8 364.4L534.2 358.3L534.6 354.1L535.0 351.5L535.4 349.9L535.9 348.7L536.3 347.8L536.7 347.2L537.1 347.0L537.5 346.8L537.9 346.6L538.3 346.5L538.7 346.3L539.1 345.9L539.5 345.3L539.9 344.6L540.3 344.0L540.8 343.5L541.2 343.5L541.6 343.7L542.0 344.2L542.4 344.9L542.8 345.9L543.2 347.2L543.6 349.9L544.0 355.8L544.4 366.0L544.8 392.2L545.2 412.4L545.6 428.2L546.1 439.3L546.5 438.8L546.9 430.3L547.3 412.7L547.7 412.7L548.1 416.7L548.5 438.0L548.9 462.2L549.3 481.8L549.7 493.9L550.1 485.3L550.5 467.3L551.0 442.7L551.4 422.4L551.8 405.1L552.2 395.9L552.6 390.2L553.0 387.8L553.4 387.0L553.8 386.3L554.2 384.8L554.6 378.3L555.0 370.5L555.4 367.1L555.8 365.2L556.3 363.7L556.7 362.6L557.1 361.5L557.5 360.7L557.9 360.0L558.3 359.3L558.7 358.4L559.1 357.3L559.5 356.1L559.9 355.0L560.3 354.2L560.7 354.0L561.2 354.3L561.6 355.0L562.0 355.9L562.4 356.9L562.8 358.8L563.2 361.4L563.6 363.6L564.0 365.0L564.4 366.2L564.8 366.7L565.2 366.2L565.6 365.1L566.0 363.5L566.5 360.2L566.9 356.0L567.3 352.0L567.7 348.5L568.1 349.8L568.5 352.5L568.9 350.6L569.3 347.4L569.7 348.1L570.1 350.1L570.5 349.6L570.9 346.3L571.4 344.1L571.8 345.6L572.2 348.4L572.6 349.3L573.0 348.6L573.4 349.9L573.8 356.1L574.2 353.5L574.6 349.8L575.0 345.6L575.4 343.0L575.8 342.1L576.2 341.5L576.7 341.0L577.1 340.9L577.5 341.1L577.9 341.8L578.3 342.8L578.7 344.1L579.1 348.4L579.5 356.2L579.9 365.4L580.3 378.6L580.7 391.0L581.1 397.9L581.6 403.1L582.0 405.3L582.4 404.2L582.8 401.8L583.2 399.2L583.6 395.7L584.0 392.9L584.4 392.7L584.8 392.7L585.2 392.7L585.6 393.9L586.0 397.2L586.4 401.7L586.9 412.0L587.3 421.2L587.7 421.7L588.1 419.0L588.5 415.1L588.9 408.7L589.3 399.7L589.7 391.8L590.1 384.2L590.5 378.2L590.9 375.6L591.3 373.8L591.8 372.8L592.2 372.7L592.6 373.8L593.0 375.8L593.4 378.6L593.8 384.7L594.2 395.3L594.6 406.9L595.0 419.8L595.4 433.9L595.8 448.2L596.2 463.3L596.6 476.8L597.1 488.1L597.5 497.9L597.9 504.7L598.3 509.8L598.7 513.0L599.1 512.8L599.5 509.5L599.9 504.3L600.3 497.4L600.7 487.4L601.1 476.1L601.5 461.9L602.0 446.8L602.4 433.7L602.8 421.3L603.2 411.7L603.6 405.7L604.0 401.6L604.4 400.7L604.8 400.2L605.2 396.7L605.6 389.8L606.0 382.7L606.4 375.0L606.8 369.1L607.3 364.1L607.7 360.5L608.1 359.5L608.5 358.9L608.9 359.2L609.3 361.5L609.7 365.3L610.1 371.6L610.5 382.5L610.9 395.1L611.3 410.6L611.7 427.0L612.2 445.4L612.6 454.8L613.0 440.0L613.4 421.7L613.8 413.8L614.2 412.9L614.6 430.6L615.0 452.6L615.4 475.8L615.8 496.7L616.2 511.9L616.6 506.4L617.0 486.1L617.5 467.0L617.9 446.7L618.3 428.7L618.7 414.0L619.1 400.8L619.5 391.3L619.9 385.8L620.3 381.4L620.7 378.2L621.1 376.8L621.5 377.5L621.9 379.6L622.4 383.5L622.8 398.4L623.2 417.5L623.6 440.7L624.0 460.9L624.4 479.6L624.8 490.9L625.2 483.2L625.6 462.8L626.0 447.5L626.4 433.9L626.8 419.2L627.2 404.4L627.7 400.4L628.1 399.0L628.5 402.4L628.9 409.6L629.3 416.7L629.7 419.0L630.1 418.5L630.5 417.3L630.9 414.0L631.3 408.7L631.7 398.2L632.1 388.3L632.6 381.2L633.0 375.2L633.4 370.4L633.8 366.3L634.2 362.9L634.6 360.4L635.0 358.4L635.4 356.8L635.8 355.5L636.2 354.4L636.6 353.4L637.0 352.6L637.4 352.0L637.9 351.3L638.3 350.6L638.7 350.0L639.1 349.8L639.5 351.0L639.9 354.2L640.3 369.6L640.7 389.2L641.1 405.4L641.5 419.0L641.9 416.5L642.3 402.0L642.8 387.1L643.2 374.2L643.6 364.0L644.0 358.6L644.4 355.2L644.8 352.8L645.2 351.0L645.6 349.5L646.0 348.3L646.4 347.4L646.8 346.5L647.2 345.7L647.6 345.0L648.1 344.7L648.5 344.7L648.9 344.8L649.3 345.0L649.7 345.1L650.1 345.3L650.5 345.7L650.9 346.1L651.3 346.5L651.7 346.8L652.1 346.8L652.5 346.6L653.0 346.2L653.4 345.8L653.8 345.4L654.2 345.1L654.6 344.9L655.0 344.7L655.4 344.6L655.8 344.4L656.2 344.1L656.6 343.6L657.0 342.7L657.4 341.7L657.8 341.0L658.3 340.7L658.7 340.5L659.1 340.5L659.5 341.2L659.9 342.3L660.3 342.5L660.7 341.9L661.1 341.1L661.5 340.3L661.9 339.2L662.3 338.3L662.7 337.8L663.2 337.8L663.6 337.9L664.0 338.1L664.4 338.3L664.8 338.7L665.2 339.5L665.6 340.7L666.0 342.5L666.4 347.1L666.8 355.1L667.2 370.5L667.6 387.3L668.0 405.5L668.5 419.1L668.9 430.2L669.3 433.5L669.7 425.7L670.1 415.5L670.5 403.7L670.9 401.2L671.3 402.0L671.7 408.1L672.1 419.0L672.5 429.0L672.9 433.7L673.4 425.3L673.8 418.0L674.2 413.2L674.6 413.0L675.0 414.4L675.4 422.6L675.8 438.2L676.2 453.1L676.6 463.9L677.0 471.3L677.4 472.2L677.8 466.7L678.2 458.9L678.7 446.9L679.1 434.3L679.5 422.2L679.9 412.7L680.3 405.7L680.7 400.0L681.1 395.3L681.5 391.5L681.9 387.7L682.3 382.9L682.7 378.8L683.1 376.3L683.6 376.2L684.0 378.5L684.4 378.4L684.8 375.7L685.2 371.2L685.6 364.4L686.0 359.5L686.4 355.4L686.8 352.7L687.2 351.4L687.6 350.3L688.0 349.8L688.4 350.0L688.9 351.1L689.3 352.5L689.7 354.4L690.1 356.5L690.5 358.1L690.9 359.5L691.3 359.9L691.7 359.5L692.1 359.0L692.5 359.0L692.9 360.0L693.3 362.0L693.8 367.4L694.2 373.8L694.6 381.1L695.0 386.1L695.4 389.9L695.8 390.3L696.2 388.6L696.6 386.6L697.0 384.0L697.4 382.7L697.8 382.2L698.2 384.2L698.6 391.6L699.1 398.9L699.5 404.8L699.9 408.9L700.3 409.9L700.7 404.8L701.1 393.1L701.5 382.4L701.9 379.4L702.3 386.5L702.7 398.8L703.1 411.9L703.5 422.4L704.0 431.1L704.4 438.4L704.8 441.5L705.2 443.1L705.6 443.0L706.0 439.7L706.4 433.8L706.8 419.8L707.2 404.4L707.6 391.1L708.0 384.4L708.4 383.2L708.8 383.2L709.3 384.5L709.7 387.0L710.1 387.9L710.5 388.4L710.9 388.0L711.3 386.0L711.7 382.7L712.1 377.7L712.5 372.1L712.9 366.4L713.3 362.8L713.7 360.3L714.2 360.0L714.6 360.4L715.0 365.2L715.4 381.2L715.8 392.0L716.2 392.7L716.6 392.7L717.0 392.0L717.4 389.2L717.8 385.7L718.2 380.8L718.6 374.5L719.0 365.7L719.5 361.5L719.9 359.9L720.3 360.2L720.7 360.9L721.1 365.7L721.5 373.8L721.9 384.0L722.3 387.5L722.7 389.3L723.1 389.5L723.5 389.5L723.9 389.5L724.4 390.1L724.8 391.5L725.2 393.1L725.6 395.1L726.0 397.6L726.4 400.2L726.8 402.5L727.2 405.0L727.6 408.6L728.0 416.1L728.4 431.5L728.8 447.2L729.2 463.6L729.7 476.9L730.1 488.0L730.5 498.3L730.9 510.0L731.3 520.3L731.7 523.1L732.1 516.0L732.5 504.0L732.9 494.8L733.3 487.2L733.7 479.3L734.1 469.8L734.6 459.6L735.0 451.5L735.4 445.5L735.8 440.5L736.2 436.0L736.6 432.0L737.0 428.3L737.4 424.9L737.8 421.6L738.2 418.5L738.6 415.5L739.0 412.6L739.4 409.9L739.9 407.2L740.3 404.7L740.7 402.3L741.1 400.0L741.5 397.8L741.9 395.7L742.3 393.7L742.7 391.7L743.1 389.6L743.5 387.6L743.9 385.7L744.3 384.2L744.8 383.0L745.2 382.1L745.6 381.4L746.0 381.0L746.4 381.3L746.8 382.1L747.2 383.1L747.6 383.9L748.0 384.8L748.4 385.8L748.8 386.6L749.2 387.2L749.6 387.8L750.1 388.3L750.5 388.4L750.9 386.5L751.3 383.4L751.7 380.5L752.1 377.3L752.5 374.9L752.9 373.7L753.3 372.8L753.7 372.3L754.1 372.2L754.5 373.0L755.0 374.3L755.4 375.7L755.8 377.0L756.2 378.5L756.6 379.7L757.0 380.5L757.4 381.2L757.8 381.8L758.2 382.1L758.6 382.0L759.0 381.5L759.4 380.8L759.8 380.2L760.3 379.6L760.7 379.1L761.1 378.6L761.5 378.0" fill="none" stroke="#4FAE66" stroke-width="2.9" stroke-linejoin="round" stroke-linecap="round" clip-path="url(#clipAR)"/>
<path d="M64.0 473.9L64.8 473.9L65.5 473.9L66.3 473.9L67.0 473.9L67.8 473.9L68.5 473.9L69.3 473.9L70.0 473.9L70.8 473.9L71.5 473.9L72.3 473.9L73.0 473.9L73.8 473.9L74.5 473.9L75.3 473.9L76.0 473.9L76.8 473.9L77.5 474.0L78.3 474.0L79.0 474.0L79.8 474.0L80.5 474.0L81.3 474.0L82.0 474.0L82.8 474.0L83.5 474.0L84.3 474.0L85.0 474.0L85.8 474.1L86.5 474.1L87.3 474.1L88.0 474.1L88.8 474.1L89.5 474.1L90.3 474.1L91.0 474.1L91.8 474.2L92.5 474.2L93.3 474.2L94.0 474.2L94.8 474.2L95.5 474.2L96.3 474.2L97.0 474.2L97.8 474.3L98.5 474.3L99.3 474.3L100.0 474.3L100.8 474.3L101.5 474.3L102.3 474.4L103.0 474.4L103.8 474.4L104.5 474.4L105.3 474.4L106.0 474.4L106.8 474.5L107.5 474.5L108.3 474.5L109.0 474.5L109.8 474.5L110.5 474.5L111.3 474.6L112.0 474.6L112.8 474.6L113.5 474.6L114.3 474.6L115.0 474.7L115.8 474.7L116.5 474.7L117.3 474.7L118.0 474.8L118.8 474.8L119.5 474.8L120.3 474.8L121.0 474.9L121.8 474.9L122.5 474.9L123.3 474.9L124.0 475.0L124.8 475.2L125.5 475.4L126.3 475.6L127.0 475.8L127.8 476.0L128.5 476.2L129.3 476.4L130.0 476.5L130.8 476.6L131.5 476.7L132.3 476.8L133.0 476.9L133.8 477.0L134.5 477.1L135.3 477.1L136.0 477.2L136.8 477.3L137.5 477.4L138.3 477.5L139.0 477.6L139.8 477.7L140.5 477.8L141.3 477.9L142.0 478.0L142.8 478.1L143.5 478.3L144.3 478.4L145.0 478.6L145.8 478.7L146.5 478.9L147.3 479.1L148.0 479.2L148.8 479.4L149.5 479.5L150.3 479.6L151.0 479.8L151.8 479.9L152.5 480.0L153.3 480.1L154.0 480.2L154.8 480.3L155.5 480.5L156.3 480.6L157.0 480.7L157.8 480.8L158.5 480.9L159.3 481.0L160.0 481.0L160.8 481.1L161.5 481.2L162.3 481.3L163.0 481.3L163.8 481.4L164.5 481.4L165.3 481.5L166.0 481.5L166.8 481.5L167.5 481.6L168.3 481.6L169.0 481.7L169.8 481.7L170.5 481.7L171.3 481.8L172.0 481.8L172.8 481.8L173.5 481.8L174.3 481.9L175.0 481.9L175.8 481.9L176.5 481.9L177.3 481.9L178.0 481.9L178.8 481.9L179.5 481.9L180.3 481.9L181.0 481.9L181.8 481.9L182.5 481.9L183.3 481.9L184.0 481.8L184.8 481.8L185.5 481.8L186.3 481.8L187.0 481.8L187.8 481.8L188.5 481.7L189.3 481.7L190.0 481.7L190.8 481.7L191.5 481.6L192.3 481.6L193.0 481.6L193.8 481.5L194.5 481.5L195.3 481.4L196.0 481.4L196.8 481.4L197.5 481.3L198.3 481.3L199.0 481.2L199.8 481.2L200.5 481.2L201.3 481.1L202.0 481.1L202.8 481.1L203.5 481.0L204.3 481.0L205.0 481.0L205.8 480.9L206.5 480.9L207.3 480.9L208.0 480.8L208.8 480.7L209.5 480.7L210.3 480.6L211.0 480.5L211.8 480.4L212.5 480.2L213.3 480.1L214.0 480.0L214.8 479.9L215.5 479.8L216.3 479.8L217.0 479.7L217.8 479.7L218.5 479.6L219.3 479.6L220.0 479.6L220.8 479.5L221.5 479.5L222.3 479.5L223.0 479.4L223.8 479.4L224.5 479.3L225.3 479.2L226.0 479.1L226.8 479.0L227.5 478.9L228.3 478.9L229.0 478.8L229.8 478.8L230.5 478.8L231.3 479.0L232.0 479.2L232.8 479.5L233.5 479.9L234.3 480.2L235.0 480.6L235.8 481.1L236.5 481.6L237.3 482.2L238.0 482.8L238.8 483.4L239.5 484.1L240.3 484.7L241.0 485.4L241.8 486.0L242.5 486.2L243.3 486.1L244.0 485.7L244.8 485.3L245.5 485.0L246.3 484.9L247.0 484.7L247.8 484.6L248.5 484.5L249.3 484.2L250.0 483.6L250.8 482.5L251.5 481.5L252.3 480.9L253.0 480.9L253.8 481.2L254.5 481.7L255.3 482.4L256.0 483.3L256.8 484.6L257.5 486.4L258.3 488.6L259.0 491.3L259.8 493.8L260.5 496.6L261.3 498.7L262.0 498.9L262.8 498.2L263.5 497.2L264.3 495.8L265.0 493.9L265.8 493.3L266.5 493.5L267.3 493.8L268.0 494.2L268.8 494.9L269.5 495.8L270.3 496.4L271.0 496.4L271.8 495.6L272.5 494.4L273.3 492.8L274.0 490.7L274.8 489.3L275.5 488.4L276.3 487.6L277.0 487.1L277.8 486.9L278.5 487.1L279.3 487.3L280.0 487.5L280.8 487.5L281.5 487.3L282.3 487.0L283.0 486.7L283.8 486.6L284.5 486.7L285.3 486.8L286.0 486.9L286.8 485.5L287.5 483.1L288.3 482.0L289.0 481.1L289.8 480.5L290.5 480.0L291.3 479.5L292.0 479.1L292.8 478.7L293.5 478.5L294.3 478.5L295.0 478.6L295.8 478.7L296.5 478.8L297.3 479.0L298.0 479.1L298.8 479.2L299.5 479.3L300.3 479.3L301.0 479.3L301.8 479.3L302.5 479.2L303.3 479.2L304.0 479.2L304.8 479.1L305.5 479.0L306.3 479.0L307.0 478.9L307.8 478.8L308.5 478.7L309.3 478.6L310.0 478.5L310.8 478.4L311.5 478.3L312.3 478.2L313.0 478.1L313.8 478.0L314.5 477.9L315.3 477.8L316.0 477.7L316.8 477.6L317.5 477.5L318.3 477.4L319.0 477.3L319.8 477.3L320.5 477.2L321.3 477.1L322.0 477.1L322.8 477.1L323.5 477.1L324.3 477.1L325.0 477.1L325.8 477.2L326.5 477.3L327.3 477.4L328.0 477.5L328.8 477.7L329.5 477.8L330.3 478.0L331.0 478.1L331.8 478.3L332.5 478.4L333.3 478.6L334.0 478.7L334.8 478.8L335.5 478.8L336.3 478.8L337.0 478.8L337.8 478.8L338.5 478.7L339.3 478.6L340.0 478.4L340.8 478.3L341.5 478.1L342.3 478.0L343.0 477.8L343.8 477.6L344.5 477.5L345.3 477.3L346.0 477.1L346.8 477.0L347.5 476.9L348.3 476.8L349.0 476.7L349.8 476.7L350.5 476.7L351.3 476.7L352.0 476.8L352.8 476.8L353.5 476.9L354.3 477.0L355.0 477.1L355.8 477.2L356.5 477.3L357.3 477.5L358.0 477.6L358.8 477.7L359.5 477.8L360.3 477.9L361.0 478.0L361.8 478.1L362.5 478.1L363.3 478.2L364.0 478.2L364.8 478.2L365.5 478.2L366.3 478.2L367.0 478.1L367.8 478.1L368.5 478.0L369.3 477.9L370.0 477.9L370.8 477.8L371.5 477.7L372.3 477.6L373.0 477.5L373.8 477.4L374.5 477.3L375.3 477.2L376.0 477.1L376.8 477.0L377.5 476.9L378.3 476.9L379.0 476.8L379.8 476.7L380.5 476.7L381.3 476.6L382.0 476.6L382.8 476.5L383.5 476.5L384.3 476.4L385.0 476.4L385.8 476.3L386.5 476.3L387.3 476.2L388.0 476.2L388.8 476.1L389.5 476.1L390.3 476.1L391.0 476.0L391.8 476.0L392.5 475.9L393.3 475.9L394.0 475.8L394.8 475.8L395.5 475.7L396.3 475.7L397.0 475.6L397.8 475.6L398.5 475.5L399.3 475.5L400.0 475.4L400.8 475.3L401.5 475.2L402.3 475.1L403.0 475.0L403.8 474.9L404.5 474.8L405.3 474.7L406.0 474.5L406.8 474.4L407.5 474.3L408.3 474.2L409.0 474.1L409.8 474.0L410.5 473.9L411.3 473.9L412.0 473.9L412.8 473.9L413.5 473.9L414.3 473.9L415.0 473.9L415.8 474.0L416.5 474.0L417.3 474.1L418.0 474.1L418.8 474.2L419.5 474.2L420.3 474.3L421.0 474.4L421.8 474.5L422.5 474.6L423.3 474.7L424.0 474.9L424.8 475.0L425.5 475.2L426.3 475.4L427.0 475.5L427.8 475.7L428.5 475.9L429.3 476.0L430.0 476.2L430.8 476.3L431.5 476.5L432.3 476.6L433.0 476.8L433.8 476.9L434.5 477.1L435.3 477.3L436.0 477.4L436.8 477.6L437.5 477.7L438.3 477.8L439.0 478.0L439.8 478.0L440.5 478.1L441.3 478.2L442.0 478.2L442.8 478.2L443.5 478.2L444.3 478.1L445.0 478.0L445.8 477.8L446.5 477.7L447.3 477.5L448.0 477.3L448.8 477.2L449.5 477.0L450.3 476.9L451.0 476.8L451.8 476.7L452.5 476.7L453.3 476.7L454.0 476.7L454.8 476.7L455.5 476.7L456.3 476.7L457.0 476.7L457.8 476.7L458.5 476.7L459.3 476.7L460.0 476.7L460.8 476.7L461.5 476.7L462.3 476.7L463.0 476.7L463.8 476.7L464.5 476.7L465.3 476.8L466.0 477.2L466.8 477.7L467.5 478.2L468.3 478.8L469.0 479.3L469.8 479.6L470.5 479.7L471.3 479.7L472.0 479.6L472.8 479.4L473.5 479.2L474.3 478.9L475.0 478.6L475.8 478.0L476.5 477.3L477.3 476.6L478.0 476.1L478.8 476.0L479.5 476.0L480.3 476.0L481.0 476.0L481.8 476.0L482.5 476.0L483.3 476.0L484.0 476.0L484.8 476.0L485.5 476.1L486.3 476.2L487.0 476.3L487.8 476.5L488.5 476.7L489.3 476.9L489.8 476.0L490.2 476.0L490.6 476.0L491.0 476.0L491.4 476.0L491.8 476.0L492.2 476.0L492.6 476.0L493.0 476.0L493.4 476.0L493.8 476.0L494.2 476.0L494.6 476.0L495.1 476.0L495.5 476.0L495.9 476.0L496.3 476.0L496.7 476.1L497.1 476.3L497.5 476.7L497.9 477.1L498.3 477.6L498.7 478.2L499.1 478.7L499.5 479.1L500.0 479.4L500.4 479.6L500.8 479.7L501.2 479.7L501.6 479.7L502.0 479.7L502.4 479.7L502.8 479.7L503.2 479.7L503.6 479.7L504.0 479.7L504.4 479.7L504.8 479.7L505.3 479.7L505.7 479.7L506.1 480.0L506.5 480.5L506.9 481.3L507.3 482.3L507.7 483.5L508.1 485.1L508.5 487.7L508.9 490.9L509.3 494.3L509.7 497.5L510.2 500.2L510.6 503.0L511.0 505.8L511.4 508.3L511.8 510.5L512.2 512.2L512.6 513.6L513.0 514.9L513.4 516.2L513.8 517.2L514.2 518.0L514.6 518.4L515.0 518.4L515.5 518.1L515.9 517.5L516.3 516.8L516.7 515.9L517.1 515.1L517.5 514.0L517.9 512.6L518.3 510.9L518.7 509.2L519.1 507.4L519.5 505.8L519.9 504.3L520.4 503.1L520.8 502.0L521.2 500.9L521.6 499.8L522.0 498.8L522.4 497.9L522.8 497.2L523.2 496.8L523.6 496.7L524.0 496.9L524.4 497.3L524.8 498.0L525.2 498.8L525.7 499.6L526.1 500.5L526.5 501.3L526.9 502.0L527.3 502.7L527.7 504.1L528.1 511.5L528.5 541.1L528.9 556.8L529.3 568.9L529.7 578.5L530.1 587.6L530.6 593.2L531.0 591.6L531.4 584.2L531.8 574.8L532.2 563.1L532.6 549.0L533.0 535.6L533.4 521.5L533.8 510.0L534.2 503.8L534.6 499.4L535.0 496.7L535.4 495.1L535.9 493.8L536.3 492.9L536.7 492.3L537.1 492.0L537.5 491.8L537.9 491.7L538.3 491.5L538.7 491.3L539.1 491.0L539.5 490.4L539.9 489.7L540.3 489.0L540.8 488.5L541.2 488.4L541.6 488.6L542.0 489.1L542.4 489.9L542.8 491.0L543.2 492.2L543.6 495.1L544.0 501.1L544.4 511.7L544.8 538.6L545.2 559.5L545.6 575.7L546.1 587.2L546.5 586.7L546.9 577.9L547.3 559.8L547.7 559.8L548.1 563.9L548.5 585.9L548.9 610.8L549.3 631.0L549.7 643.4L550.1 634.6L550.5 616.0L551.0 590.7L551.4 569.8L551.8 551.9L552.2 542.4L552.6 536.6L553.0 534.1L553.4 533.3L553.8 532.6L554.2 531.0L554.6 524.3L555.0 516.3L555.4 512.8L555.8 510.8L556.3 509.3L556.7 508.1L557.1 507.0L557.5 506.2L557.9 505.5L558.3 504.7L558.7 503.8L559.1 502.7L559.5 501.4L559.9 500.3L560.3 499.5L560.7 499.3L561.2 499.6L561.6 500.3L562.0 501.2L562.4 502.3L562.8 504.2L563.2 506.9L563.6 509.2L564.0 510.6L564.4 511.8L564.8 512.3L565.2 511.9L565.6 510.8L566.0 509.1L566.5 505.6L566.9 501.4L567.3 497.2L567.7 493.6L568.1 495.0L568.5 497.7L568.9 495.7L569.3 492.5L569.7 493.2L570.1 495.3L570.5 494.7L570.9 491.3L571.4 489.1L571.8 490.6L572.2 493.5L572.6 494.4L573.0 493.7L573.4 495.0L573.8 501.5L574.2 498.8L574.6 495.0L575.0 490.6L575.4 487.9L575.8 487.0L576.2 486.4L576.7 485.9L577.1 485.8L577.5 486.0L577.9 486.7L578.3 487.7L578.7 489.1L579.1 493.5L579.5 501.6L579.9 511.0L580.3 524.7L580.7 537.4L581.1 544.5L581.6 549.9L582.0 552.2L582.4 551.0L582.8 548.5L583.2 545.9L583.6 542.2L584.0 539.4L584.4 539.1L584.8 539.1L585.2 539.1L585.6 540.4L586.0 543.8L586.4 548.5L586.9 559.0L587.3 568.5L587.7 569.0L588.1 566.2L588.5 562.2L588.9 555.7L589.3 546.4L589.7 538.2L590.1 530.4L590.5 524.2L590.9 521.5L591.3 519.7L591.8 518.6L592.2 518.5L592.6 519.6L593.0 521.8L593.4 524.7L593.8 530.9L594.2 541.9L594.6 553.8L595.0 567.1L595.4 581.7L595.8 596.3L596.2 611.9L596.6 625.8L597.1 637.5L597.5 647.6L597.9 654.5L598.3 659.6L598.7 662.6L599.1 662.5L599.5 659.3L599.9 654.2L600.3 647.0L600.7 636.8L601.1 625.1L601.5 610.5L602.0 594.9L602.4 581.5L602.8 568.7L603.2 558.8L603.6 552.5L604.0 548.4L604.4 547.4L604.8 546.9L605.2 543.3L605.6 536.2L606.0 528.8L606.4 520.9L606.8 514.8L607.3 509.7L607.7 506.0L608.1 504.9L608.5 504.4L608.9 504.6L609.3 507.0L609.7 511.0L610.1 517.4L610.5 528.7L610.9 541.7L611.3 557.6L611.7 574.6L612.2 593.5L612.6 603.1L613.0 587.9L613.4 569.0L613.8 560.9L614.2 560.0L614.6 578.2L615.0 600.9L615.4 624.8L615.8 646.4L616.2 661.7L616.6 656.3L617.0 635.4L617.5 615.7L617.9 594.8L618.3 576.2L618.7 561.1L619.1 547.5L619.5 537.7L619.9 532.1L620.3 527.5L620.7 524.2L621.1 522.8L621.5 523.5L621.9 525.7L622.4 529.6L622.8 545.0L623.2 564.8L623.6 588.6L624.0 609.4L624.4 628.7L624.8 640.4L625.2 632.4L625.6 611.4L626.0 595.7L626.4 581.6L626.8 566.5L627.2 551.2L627.7 547.1L628.1 545.7L628.5 549.2L628.9 556.6L629.3 563.9L629.7 566.3L630.1 565.7L630.5 564.5L630.9 561.1L631.3 555.6L631.7 544.8L632.1 534.6L632.6 527.3L633.0 521.1L633.4 516.2L633.8 511.9L634.2 508.4L634.6 505.9L635.0 503.9L635.4 502.2L635.8 500.8L636.2 499.7L636.6 498.7L637.0 497.9L637.4 497.2L637.9 496.5L638.3 495.8L638.7 495.2L639.1 494.9L639.5 496.2L639.9 499.5L640.3 515.4L640.7 535.5L641.1 552.3L641.5 566.3L641.9 563.7L642.3 548.8L642.8 533.4L643.2 520.1L643.6 509.6L644.0 504.0L644.4 500.5L644.8 498.0L645.2 496.2L645.6 494.7L646.0 493.5L646.4 492.5L646.8 491.6L647.2 490.7L647.6 490.0L648.1 489.7L648.5 489.7L648.9 489.8L649.3 490.0L649.7 490.1L650.1 490.4L650.5 490.7L650.9 491.2L651.3 491.6L651.7 491.8L652.1 491.9L652.5 491.6L653.0 491.3L653.4 490.8L653.8 490.4L654.2 490.1L654.6 489.9L655.0 489.7L655.4 489.6L655.8 489.4L656.2 489.1L656.6 488.6L657.0 487.6L657.4 486.6L657.8 485.9L658.3 485.6L658.7 485.4L659.1 485.4L659.5 486.1L659.9 487.3L660.3 487.5L660.7 486.8L661.1 486.0L661.5 485.1L661.9 484.1L662.3 483.1L662.7 482.6L663.2 482.6L663.6 482.7L664.0 482.9L664.4 483.1L664.8 483.5L665.2 484.3L665.6 485.6L666.0 487.5L666.4 492.2L666.8 500.4L667.2 516.3L667.6 533.6L668.0 552.3L668.5 566.4L668.9 577.8L669.3 581.2L669.7 573.1L670.1 562.7L670.5 550.5L670.9 547.9L671.3 548.8L671.7 555.1L672.1 566.3L672.5 576.5L672.9 581.4L673.4 572.8L673.8 565.3L674.2 560.3L674.6 560.1L675.0 561.5L675.4 570.0L675.8 586.1L676.2 601.4L676.6 612.5L677.0 620.2L677.4 621.1L677.8 615.4L678.2 607.4L678.7 595.1L679.1 582.0L679.5 569.6L679.9 559.8L680.3 552.5L680.7 546.7L681.1 541.8L681.5 537.9L681.9 534.0L682.3 529.0L682.7 524.8L683.1 522.3L683.6 522.2L684.0 524.5L684.4 524.4L684.8 521.6L685.2 517.0L685.6 510.0L686.0 505.0L686.4 500.8L686.8 498.0L687.2 496.6L687.6 495.5L688.0 495.0L688.4 495.2L688.9 496.3L689.3 497.8L689.7 499.7L690.1 501.9L690.5 503.5L690.9 504.9L691.3 505.4L691.7 504.9L692.1 504.4L692.5 504.4L692.9 505.5L693.3 507.5L693.8 513.1L694.2 519.7L694.6 527.2L695.0 532.4L695.4 536.3L695.8 536.7L696.2 535.0L696.6 532.9L697.0 530.2L697.4 528.9L697.8 528.3L698.2 530.4L698.6 538.0L699.1 545.5L699.5 551.7L699.9 555.8L700.3 556.9L700.7 551.6L701.1 539.5L701.5 528.5L701.9 525.4L702.3 532.8L702.7 545.5L703.1 558.9L703.5 569.8L704.0 578.7L704.4 586.2L704.8 589.4L705.2 591.1L705.6 591.0L706.0 587.6L706.4 581.6L706.8 567.1L707.2 551.2L707.6 537.5L708.0 530.7L708.4 529.3L708.8 529.3L709.3 530.7L709.7 533.3L710.1 534.2L710.5 534.7L710.9 534.3L711.3 532.3L711.7 528.9L712.1 523.7L712.5 517.9L712.9 512.1L713.3 508.4L713.7 505.7L714.2 505.4L714.6 505.9L715.0 510.8L715.4 527.3L715.8 538.4L716.2 539.1L716.6 539.1L717.0 538.5L717.4 535.6L717.8 531.9L718.2 526.9L718.6 520.4L719.0 511.4L719.5 507.0L719.9 505.4L720.3 505.7L720.7 506.4L721.1 511.3L721.5 519.7L721.9 530.2L722.3 533.8L722.7 535.7L723.1 535.9L723.5 535.9L723.9 535.9L724.4 536.4L724.8 537.9L725.2 539.6L725.6 541.7L726.0 544.2L726.4 546.9L726.8 549.3L727.2 551.9L727.6 555.5L728.0 563.3L728.4 579.2L728.8 595.3L729.2 612.3L729.7 625.9L730.1 637.3L730.5 647.9L730.9 659.9L731.3 668.7L731.7 670.7L732.1 665.2L732.5 653.9L732.9 644.4L733.3 636.5L733.7 628.4L734.1 618.6L734.6 608.1L735.0 599.8L735.4 593.6L735.8 588.4L736.2 583.8L736.6 579.6L737.0 575.8L737.4 572.3L737.8 569.0L738.2 565.8L738.6 562.7L739.0 559.7L739.4 556.8L739.9 554.1L740.3 551.5L740.7 549.1L741.1 546.7L741.5 544.4L741.9 542.3L742.3 540.2L742.7 538.1L743.1 536.0L743.5 533.9L743.9 532.0L744.3 530.4L744.8 529.2L745.2 528.3L745.6 527.5L746.0 527.2L746.4 527.5L746.8 528.3L747.2 529.3L747.6 530.1L748.0 531.1L748.4 532.0L748.8 532.9L749.2 533.5L749.6 534.1L750.1 534.6L750.5 534.7L750.9 532.7L751.3 529.6L751.7 526.6L752.1 523.3L752.5 520.8L752.9 519.6L753.3 518.7L753.7 518.1L754.1 518.1L754.5 518.9L755.0 520.2L755.4 521.6L755.8 523.0L756.2 524.5L756.6 525.8L757.0 526.6L757.4 527.3L757.8 527.9L758.2 528.2L758.6 528.1L759.0 527.6L759.4 526.9L759.8 526.2L760.3 525.7L760.7 525.1L761.1 524.6L761.5 524.1" fill="none" stroke="#000000" stroke-width="3.0" stroke-linejoin="round" stroke-linecap="round" clip-path="url(#clipAL)"/>
<path d="M64.0 473.9L64.8 473.9L65.5 473.9L66.3 473.9L67.0 473.9L67.8 473.9L68.5 473.9L69.3 473.9L70.0 473.9L70.8 473.9L71.5 473.9L72.3 473.9L73.0 473.9L73.8 473.9L74.5 473.9L75.3 473.9L76.0 473.9L76.8 473.9L77.5 474.0L78.3 474.0L79.0 474.0L79.8 474.0L80.5 474.0L81.3 474.0L82.0 474.0L82.8 474.0L83.5 474.0L84.3 474.0L85.0 474.0L85.8 474.1L86.5 474.1L87.3 474.1L88.0 474.1L88.8 474.1L89.5 474.1L90.3 474.1L91.0 474.1L91.8 474.2L92.5 474.2L93.3 474.2L94.0 474.2L94.8 474.2L95.5 474.2L96.3 474.2L97.0 474.2L97.8 474.3L98.5 474.3L99.3 474.3L100.0 474.3L100.8 474.3L101.5 474.3L102.3 474.4L103.0 474.4L103.8 474.4L104.5 474.4L105.3 474.4L106.0 474.4L106.8 474.5L107.5 474.5L108.3 474.5L109.0 474.5L109.8 474.5L110.5 474.5L111.3 474.6L112.0 474.6L112.8 474.6L113.5 474.6L114.3 474.6L115.0 474.7L115.8 474.7L116.5 474.7L117.3 474.7L118.0 474.8L118.8 474.8L119.5 474.8L120.3 474.8L121.0 474.9L121.8 474.9L122.5 474.9L123.3 474.9L124.0 475.0L124.8 475.2L125.5 475.4L126.3 475.6L127.0 475.8L127.8 476.0L128.5 476.2L129.3 476.4L130.0 476.5L130.8 476.6L131.5 476.7L132.3 476.8L133.0 476.9L133.8 477.0L134.5 477.1L135.3 477.1L136.0 477.2L136.8 477.3L137.5 477.4L138.3 477.5L139.0 477.6L139.8 477.7L140.5 477.8L141.3 477.9L142.0 478.0L142.8 478.1L143.5 478.3L144.3 478.4L145.0 478.6L145.8 478.7L146.5 478.9L147.3 479.1L148.0 479.2L148.8 479.4L149.5 479.5L150.3 479.6L151.0 479.8L151.8 479.9L152.5 480.0L153.3 480.1L154.0 480.2L154.8 480.3L155.5 480.5L156.3 480.6L157.0 480.7L157.8 480.8L158.5 480.9L159.3 481.0L160.0 481.0L160.8 481.1L161.5 481.2L162.3 481.3L163.0 481.3L163.8 481.4L164.5 481.4L165.3 481.5L166.0 481.5L166.8 481.5L167.5 481.6L168.3 481.6L169.0 481.7L169.8 481.7L170.5 481.7L171.3 481.8L172.0 481.8L172.8 481.8L173.5 481.8L174.3 481.9L175.0 481.9L175.8 481.9L176.5 481.9L177.3 481.9L178.0 481.9L178.8 481.9L179.5 481.9L180.3 481.9L181.0 481.9L181.8 481.9L182.5 481.9L183.3 481.9L184.0 481.8L184.8 481.8L185.5 481.8L186.3 481.8L187.0 481.8L187.8 481.8L188.5 481.7L189.3 481.7L190.0 481.7L190.8 481.7L191.5 481.6L192.3 481.6L193.0 481.6L193.8 481.5L194.5 481.5L195.3 481.4L196.0 481.4L196.8 481.4L197.5 481.3L198.3 481.3L199.0 481.2L199.8 481.2L200.5 481.2L201.3 481.1L202.0 481.1L202.8 481.1L203.5 481.0L204.3 481.0L205.0 481.0L205.8 480.9L206.5 480.9L207.3 480.9L208.0 480.8L208.8 480.7L209.5 480.7L210.3 480.6L211.0 480.5L211.8 480.4L212.5 480.2L213.3 480.1L214.0 480.0L214.8 479.9L215.5 479.8L216.3 479.8L217.0 479.7L217.8 479.7L218.5 479.6L219.3 479.6L220.0 479.6L220.8 479.5L221.5 479.5L222.3 479.5L223.0 479.4L223.8 479.4L224.5 479.3L225.3 479.2L226.0 479.1L226.8 479.0L227.5 478.9L228.3 478.9L229.0 478.8L229.8 478.8L230.5 478.8L231.3 479.0L232.0 479.2L232.8 479.5L233.5 479.9L234.3 480.2L235.0 480.6L235.8 481.1L236.5 481.6L237.3 482.2L238.0 482.8L238.8 483.4L239.5 484.1L240.3 484.7L241.0 485.4L241.8 486.0L242.5 486.2L243.3 486.1L244.0 485.7L244.8 485.3L245.5 485.0L246.3 484.9L247.0 484.7L247.8 484.6L248.5 484.5L249.3 484.2L250.0 483.6L250.8 482.5L251.5 481.5L252.3 480.9L253.0 480.9L253.8 481.2L254.5 481.7L255.3 482.4L256.0 483.3L256.8 484.6L257.5 486.4L258.3 488.6L259.0 491.3L259.8 493.8L260.5 496.6L261.3 498.7L262.0 498.9L262.8 498.2L263.5 497.2L264.3 495.8L265.0 493.9L265.8 493.3L266.5 493.5L267.3 493.8L268.0 494.2L268.8 494.9L269.5 495.8L270.3 496.4L271.0 496.4L271.8 495.6L272.5 494.4L273.3 492.8L274.0 490.7L274.8 489.3L275.5 488.4L276.3 487.6L277.0 487.1L277.8 486.9L278.5 487.1L279.3 487.3L280.0 487.5L280.8 487.5L281.5 487.3L282.3 487.0L283.0 486.7L283.8 486.6L284.5 486.7L285.3 486.8L286.0 486.9L286.8 485.5L287.5 483.1L288.3 482.0L289.0 481.1L289.8 480.5L290.5 480.0L291.3 479.5L292.0 479.1L292.8 478.7L293.5 478.5L294.3 478.5L295.0 478.6L295.8 478.7L296.5 478.8L297.3 479.0L298.0 479.1L298.8 479.2L299.5 479.3L300.3 479.3L301.0 479.3L301.8 479.3L302.5 479.2L303.3 479.2L304.0 479.2L304.8 479.1L305.5 479.0L306.3 479.0L307.0 478.9L307.8 478.8L308.5 478.7L309.3 478.6L310.0 478.5L310.8 478.4L311.5 478.3L312.3 478.2L313.0 478.1L313.8 478.0L314.5 477.9L315.3 477.8L316.0 477.7L316.8 477.6L317.5 477.5L318.3 477.4L319.0 477.3L319.8 477.3L320.5 477.2L321.3 477.1L322.0 477.1L322.8 477.1L323.5 477.1L324.3 477.1L325.0 477.1L325.8 477.2L326.5 477.3L327.3 477.4L328.0 477.5L328.8 477.7L329.5 477.8L330.3 478.0L331.0 478.1L331.8 478.3L332.5 478.4L333.3 478.6L334.0 478.7L334.8 478.8L335.5 478.8L336.3 478.8L337.0 478.8L337.8 478.8L338.5 478.7L339.3 478.6L340.0 478.4L340.8 478.3L341.5 478.1L342.3 478.0L343.0 477.8L343.8 477.6L344.5 477.5L345.3 477.3L346.0 477.1L346.8 477.0L347.5 476.9L348.3 476.8L349.0 476.7L349.8 476.7L350.5 476.7L351.3 476.7L352.0 476.8L352.8 476.8L353.5 476.9L354.3 477.0L355.0 477.1L355.8 477.2L356.5 477.3L357.3 477.5L358.0 477.6L358.8 477.7L359.5 477.8L360.3 477.9L361.0 478.0L361.8 478.1L362.5 478.1L363.3 478.2L364.0 478.2L364.8 478.2L365.5 478.2L366.3 478.2L367.0 478.1L367.8 478.1L368.5 478.0L369.3 477.9L370.0 477.9L370.8 477.8L371.5 477.7L372.3 477.6L373.0 477.5L373.8 477.4L374.5 477.3L375.3 477.2L376.0 477.1L376.8 477.0L377.5 476.9L378.3 476.9L379.0 476.8L379.8 476.7L380.5 476.7L381.3 476.6L382.0 476.6L382.8 476.5L383.5 476.5L384.3 476.4L385.0 476.4L385.8 476.3L386.5 476.3L387.3 476.2L388.0 476.2L388.8 476.1L389.5 476.1L390.3 476.1L391.0 476.0L391.8 476.0L392.5 475.9L393.3 475.9L394.0 475.8L394.8 475.8L395.5 475.7L396.3 475.7L397.0 475.6L397.8 475.6L398.5 475.5L399.3 475.5L400.0 475.4L400.8 475.3L401.5 475.2L402.3 475.1L403.0 475.0L403.8 474.9L404.5 474.8L405.3 474.7L406.0 474.5L406.8 474.4L407.5 474.3L408.3 474.2L409.0 474.1L409.8 474.0L410.5 473.9L411.3 473.9L412.0 473.9L412.8 473.9L413.5 473.9L414.3 473.9L415.0 473.9L415.8 474.0L416.5 474.0L417.3 474.1L418.0 474.1L418.8 474.2L419.5 474.2L420.3 474.3L421.0 474.4L421.8 474.5L422.5 474.6L423.3 474.7L424.0 474.9L424.8 475.0L425.5 475.2L426.3 475.4L427.0 475.5L427.8 475.7L428.5 475.9L429.3 476.0L430.0 476.2L430.8 476.3L431.5 476.5L432.3 476.6L433.0 476.8L433.8 476.9L434.5 477.1L435.3 477.3L436.0 477.4L436.8 477.6L437.5 477.7L438.3 477.8L439.0 478.0L439.8 478.0L440.5 478.1L441.3 478.2L442.0 478.2L442.8 478.2L443.5 478.2L444.3 478.1L445.0 478.0L445.8 477.8L446.5 477.7L447.3 477.5L448.0 477.3L448.8 477.2L449.5 477.0L450.3 476.9L451.0 476.8L451.8 476.7L452.5 476.7L453.3 476.7L454.0 476.7L454.8 476.7L455.5 476.7L456.3 476.7L457.0 476.7L457.8 476.7L458.5 476.7L459.3 476.7L460.0 476.7L460.8 476.7L461.5 476.7L462.3 476.7L463.0 476.7L463.8 476.7L464.5 476.7L465.3 476.8L466.0 477.2L466.8 477.7L467.5 478.2L468.3 478.8L469.0 479.3L469.8 479.6L470.5 479.7L471.3 479.7L472.0 479.6L472.8 479.4L473.5 479.2L474.3 478.9L475.0 478.6L475.8 478.0L476.5 477.3L477.3 476.6L478.0 476.1L478.8 476.0L479.5 476.0L480.3 476.0L481.0 476.0L481.8 476.0L482.5 476.0L483.3 476.0L484.0 476.0L484.8 476.0L485.5 476.1L486.3 476.2L487.0 476.3L487.8 476.5L488.5 476.7L489.3 476.9L489.8 476.0L490.2 476.0L490.6 476.0L491.0 476.0L491.4 476.0L491.8 476.0L492.2 476.0L492.6 476.0L493.0 476.0L493.4 476.0L493.8 476.0L494.2 476.0L494.6 476.0L495.1 476.0L495.5 476.0L495.9 476.0L496.3 476.0L496.7 476.1L497.1 476.3L497.5 476.7L497.9 477.1L498.3 477.6L498.7 478.2L499.1 478.7L499.5 479.1L500.0 479.4L500.4 479.6L500.8 479.7L501.2 479.7L501.6 479.7L502.0 479.7L502.4 479.7L502.8 479.7L503.2 479.7L503.6 479.7L504.0 479.7L504.4 479.7L504.8 479.7L505.3 479.7L505.7 479.7L506.1 480.0L506.5 480.5L506.9 481.3L507.3 482.3L507.7 483.5L508.1 485.1L508.5 487.7L508.9 490.9L509.3 494.3L509.7 497.5L510.2 500.2L510.6 503.0L511.0 505.8L511.4 508.3L511.8 510.5L512.2 512.2L512.6 513.6L513.0 514.9L513.4 516.2L513.8 517.2L514.2 518.0L514.6 518.4L515.0 518.4L515.5 518.1L515.9 517.5L516.3 516.8L516.7 515.9L517.1 515.1L517.5 514.0L517.9 512.6L518.3 510.9L518.7 509.2L519.1 507.4L519.5 505.8L519.9 504.3L520.4 503.1L520.8 502.0L521.2 500.9L521.6 499.8L522.0 498.8L522.4 497.9L522.8 497.2L523.2 496.8L523.6 496.7L524.0 496.9L524.4 497.3L524.8 498.0L525.2 498.8L525.7 499.6L526.1 500.5L526.5 501.3L526.9 502.0L527.3 502.7L527.7 504.1L528.1 511.5L528.5 541.1L528.9 556.8L529.3 568.9L529.7 578.5L530.1 587.6L530.6 593.2L531.0 591.6L531.4 584.2L531.8 574.8L532.2 563.1L532.6 549.0L533.0 535.6L533.4 521.5L533.8 510.0L534.2 503.8L534.6 499.4L535.0 496.7L535.4 495.1L535.9 493.8L536.3 492.9L536.7 492.3L537.1 492.0L537.5 491.8L537.9 491.7L538.3 491.5L538.7 491.3L539.1 491.0L539.5 490.4L539.9 489.7L540.3 489.0L540.8 488.5L541.2 488.4L541.6 488.6L542.0 489.1L542.4 489.9L542.8 491.0L543.2 492.2L543.6 495.1L544.0 501.1L544.4 511.7L544.8 538.6L545.2 559.5L545.6 575.7L546.1 587.2L546.5 586.7L546.9 577.9L547.3 559.8L547.7 559.8L548.1 563.9L548.5 585.9L548.9 610.8L549.3 631.0L549.7 643.4L550.1 634.6L550.5 616.0L551.0 590.7L551.4 569.8L551.8 551.9L552.2 542.4L552.6 536.6L553.0 534.1L553.4 533.3L553.8 532.6L554.2 531.0L554.6 524.3L555.0 516.3L555.4 512.8L555.8 510.8L556.3 509.3L556.7 508.1L557.1 507.0L557.5 506.2L557.9 505.5L558.3 504.7L558.7 503.8L559.1 502.7L559.5 501.4L559.9 500.3L560.3 499.5L560.7 499.3L561.2 499.6L561.6 500.3L562.0 501.2L562.4 502.3L562.8 504.2L563.2 506.9L563.6 509.2L564.0 510.6L564.4 511.8L564.8 512.3L565.2 511.9L565.6 510.8L566.0 509.1L566.5 505.6L566.9 501.4L567.3 497.2L567.7 493.6L568.1 495.0L568.5 497.7L568.9 495.7L569.3 492.5L569.7 493.2L570.1 495.3L570.5 494.7L570.9 491.3L571.4 489.1L571.8 490.6L572.2 493.5L572.6 494.4L573.0 493.7L573.4 495.0L573.8 501.5L574.2 498.8L574.6 495.0L575.0 490.6L575.4 487.9L575.8 487.0L576.2 486.4L576.7 485.9L577.1 485.8L577.5 486.0L577.9 486.7L578.3 487.7L578.7 489.1L579.1 493.5L579.5 501.6L579.9 511.0L580.3 524.7L580.7 537.4L581.1 544.5L581.6 549.9L582.0 552.2L582.4 551.0L582.8 548.5L583.2 545.9L583.6 542.2L584.0 539.4L584.4 539.1L584.8 539.1L585.2 539.1L585.6 540.4L586.0 543.8L586.4 548.5L586.9 559.0L587.3 568.5L587.7 569.0L588.1 566.2L588.5 562.2L588.9 555.7L589.3 546.4L589.7 538.2L590.1 530.4L590.5 524.2L590.9 521.5L591.3 519.7L591.8 518.6L592.2 518.5L592.6 519.6L593.0 521.8L593.4 524.7L593.8 530.9L594.2 541.9L594.6 553.8L595.0 567.1L595.4 581.7L595.8 596.3L596.2 611.9L596.6 625.8L597.1 637.5L597.5 647.6L597.9 654.5L598.3 659.6L598.7 662.6L599.1 662.5L599.5 659.3L599.9 654.2L600.3 647.0L600.7 636.8L601.1 625.1L601.5 610.5L602.0 594.9L602.4 581.5L602.8 568.7L603.2 558.8L603.6 552.5L604.0 548.4L604.4 547.4L604.8 546.9L605.2 543.3L605.6 536.2L606.0 528.8L606.4 520.9L606.8 514.8L607.3 509.7L607.7 506.0L608.1 504.9L608.5 504.4L608.9 504.6L609.3 507.0L609.7 511.0L610.1 517.4L610.5 528.7L610.9 541.7L611.3 557.6L611.7 574.6L612.2 593.5L612.6 603.1L613.0 587.9L613.4 569.0L613.8 560.9L614.2 560.0L614.6 578.2L615.0 600.9L615.4 624.8L615.8 646.4L616.2 661.7L616.6 656.3L617.0 635.4L617.5 615.7L617.9 594.8L618.3 576.2L618.7 561.1L619.1 547.5L619.5 537.7L619.9 532.1L620.3 527.5L620.7 524.2L621.1 522.8L621.5 523.5L621.9 525.7L622.4 529.6L622.8 545.0L623.2 564.8L623.6 588.6L624.0 609.4L624.4 628.7L624.8 640.4L625.2 632.4L625.6 611.4L626.0 595.7L626.4 581.6L626.8 566.5L627.2 551.2L627.7 547.1L628.1 545.7L628.5 549.2L628.9 556.6L629.3 563.9L629.7 566.3L630.1 565.7L630.5 564.5L630.9 561.1L631.3 555.6L631.7 544.8L632.1 534.6L632.6 527.3L633.0 521.1L633.4 516.2L633.8 511.9L634.2 508.4L634.6 505.9L635.0 503.9L635.4 502.2L635.8 500.8L636.2 499.7L636.6 498.7L637.0 497.9L637.4 497.2L637.9 496.5L638.3 495.8L638.7 495.2L639.1 494.9L639.5 496.2L639.9 499.5L640.3 515.4L640.7 535.5L641.1 552.3L641.5 566.3L641.9 563.7L642.3 548.8L642.8 533.4L643.2 520.1L643.6 509.6L644.0 504.0L644.4 500.5L644.8 498.0L645.2 496.2L645.6 494.7L646.0 493.5L646.4 492.5L646.8 491.6L647.2 490.7L647.6 490.0L648.1 489.7L648.5 489.7L648.9 489.8L649.3 490.0L649.7 490.1L650.1 490.4L650.5 490.7L650.9 491.2L651.3 491.6L651.7 491.8L652.1 491.9L652.5 491.6L653.0 491.3L653.4 490.8L653.8 490.4L654.2 490.1L654.6 489.9L655.0 489.7L655.4 489.6L655.8 489.4L656.2 489.1L656.6 488.6L657.0 487.6L657.4 486.6L657.8 485.9L658.3 485.6L658.7 485.4L659.1 485.4L659.5 486.1L659.9 487.3L660.3 487.5L660.7 486.8L661.1 486.0L661.5 485.1L661.9 484.1L662.3 483.1L662.7 482.6L663.2 482.6L663.6 482.7L664.0 482.9L664.4 483.1L664.8 483.5L665.2 484.3L665.6 485.6L666.0 487.5L666.4 492.2L666.8 500.4L667.2 516.3L667.6 533.6L668.0 552.3L668.5 566.4L668.9 577.8L669.3 581.2L669.7 573.1L670.1 562.7L670.5 550.5L670.9 547.9L671.3 548.8L671.7 555.1L672.1 566.3L672.5 576.5L672.9 581.4L673.4 572.8L673.8 565.3L674.2 560.3L674.6 560.1L675.0 561.5L675.4 570.0L675.8 586.1L676.2 601.4L676.6 612.5L677.0 620.2L677.4 621.1L677.8 615.4L678.2 607.4L678.7 595.1L679.1 582.0L679.5 569.6L679.9 559.8L680.3 552.5L680.7 546.7L681.1 541.8L681.5 537.9L681.9 534.0L682.3 529.0L682.7 524.8L683.1 522.3L683.6 522.2L684.0 524.5L684.4 524.4L684.8 521.6L685.2 517.0L685.6 510.0L686.0 505.0L686.4 500.8L686.8 498.0L687.2 496.6L687.6 495.5L688.0 495.0L688.4 495.2L688.9 496.3L689.3 497.8L689.7 499.7L690.1 501.9L690.5 503.5L690.9 504.9L691.3 505.4L691.7 504.9L692.1 504.4L692.5 504.4L692.9 505.5L693.3 507.5L693.8 513.1L694.2 519.7L694.6 527.2L695.0 532.4L695.4 536.3L695.8 536.7L696.2 535.0L696.6 532.9L697.0 530.2L697.4 528.9L697.8 528.3L698.2 530.4L698.6 538.0L699.1 545.5L699.5 551.7L699.9 555.8L700.3 556.9L700.7 551.6L701.1 539.5L701.5 528.5L701.9 525.4L702.3 532.8L702.7 545.5L703.1 558.9L703.5 569.8L704.0 578.7L704.4 586.2L704.8 589.4L705.2 591.1L705.6 591.0L706.0 587.6L706.4 581.6L706.8 567.1L707.2 551.2L707.6 537.5L708.0 530.7L708.4 529.3L708.8 529.3L709.3 530.7L709.7 533.3L710.1 534.2L710.5 534.7L710.9 534.3L711.3 532.3L711.7 528.9L712.1 523.7L712.5 517.9L712.9 512.1L713.3 508.4L713.7 505.7L714.2 505.4L714.6 505.9L715.0 510.8L715.4 527.3L715.8 538.4L716.2 539.1L716.6 539.1L717.0 538.5L717.4 535.6L717.8 531.9L718.2 526.9L718.6 520.4L719.0 511.4L719.5 507.0L719.9 505.4L720.3 505.7L720.7 506.4L721.1 511.3L721.5 519.7L721.9 530.2L722.3 533.8L722.7 535.7L723.1 535.9L723.5 535.9L723.9 535.9L724.4 536.4L724.8 537.9L725.2 539.6L725.6 541.7L726.0 544.2L726.4 546.9L726.8 549.3L727.2 551.9L727.6 555.5L728.0 563.3L728.4 579.2L728.8 595.3L729.2 612.3L729.7 625.9L730.1 637.3L730.5 647.9L730.9 659.9L731.3 668.7L731.7 670.7L732.1 665.2L732.5 653.9L732.9 644.4L733.3 636.5L733.7 628.4L734.1 618.6L734.6 608.1L735.0 599.8L735.4 593.6L735.8 588.4L736.2 583.8L736.6 579.6L737.0 575.8L737.4 572.3L737.8 569.0L738.2 565.8L738.6 562.7L739.0 559.7L739.4 556.8L739.9 554.1L740.3 551.5L740.7 549.1L741.1 546.7L741.5 544.4L741.9 542.3L742.3 540.2L742.7 538.1L743.1 536.0L743.5 533.9L743.9 532.0L744.3 530.4L744.8 529.2L745.2 528.3L745.6 527.5L746.0 527.2L746.4 527.5L746.8 528.3L747.2 529.3L747.6 530.1L748.0 531.1L748.4 532.0L748.8 532.9L749.2 533.5L749.6 534.1L750.1 534.6L750.5 534.7L750.9 532.7L751.3 529.6L751.7 526.6L752.1 523.3L752.5 520.8L752.9 519.6L753.3 518.7L753.7 518.1L754.1 518.1L754.5 518.9L755.0 520.2L755.4 521.6L755.8 523.0L756.2 524.5L756.6 525.8L757.0 526.6L757.4 527.3L757.8 527.9L758.2 528.2L758.6 528.1L759.0 527.6L759.4 526.9L759.8 526.2L760.3 525.7L760.7 525.1L761.1 524.6L761.5 524.1" fill="none" stroke="#000000" stroke-width="4.0" stroke-linejoin="round" stroke-linecap="round" clip-path="url(#clipAR)"/>
<path d="M820.0 51.9L820.8 51.9L821.5 51.9L822.3 51.9L823.0 51.9L823.8 51.9L824.5 51.9L825.3 51.9L826.0 51.9L826.8 51.9L827.5 51.9L828.3 51.9L829.0 51.9L829.8 51.9L830.5 51.9L831.3 51.9L832.0 51.9L832.8 52.0L833.5 52.2L834.3 52.5L835.0 53.0L835.8 53.4L836.5 53.9L837.3 54.3L838.0 54.8L838.8 55.1L839.5 55.3L840.3 55.3L841.0 55.3L841.8 55.3L842.5 55.3L843.3 55.3L844.0 55.3L844.8 55.3L845.5 55.3L846.3 55.3L847.0 55.3L847.8 55.3L848.5 55.3L849.3 55.3L850.0 55.6L850.8 56.1L851.5 56.8L852.3 57.7L853.0 58.8L853.8 60.3L854.5 62.7L855.3 65.6L856.0 68.8L856.8 71.7L857.5 74.2L858.3 76.8L859.0 79.3L859.8 81.7L860.5 83.7L861.3 85.2L862.0 86.5L862.8 87.8L863.5 88.9L864.3 89.9L865.0 90.6L865.8 91.0L866.5 91.0L867.3 90.7L868.0 90.2L868.8 89.5L869.5 88.7L870.3 87.9L871.0 86.9L871.8 85.6L872.5 84.1L873.3 82.5L874.0 80.9L874.8 79.3L875.5 78.0L876.3 76.9L877.0 75.9L877.8 74.8L878.5 73.8L879.3 72.9L880.0 72.1L880.8 71.5L881.5 71.1L882.3 71.0L883.0 71.1L883.8 71.5L884.5 72.1L885.3 72.9L886.0 73.7L886.8 74.5L887.5 75.2L888.3 75.8L889.0 76.5L889.8 77.8L890.5 84.6L891.3 111.9L892.0 126.4L892.8 137.5L893.5 146.4L894.3 154.8L895.0 159.9L895.8 158.5L896.5 151.6L897.3 143.0L898.0 132.2L898.8 119.2L899.5 106.8L900.3 93.9L901.0 83.2L901.8 77.5L902.5 73.4L903.3 71.0L904.0 69.5L904.8 68.3L905.5 67.5L906.3 66.9L907.0 66.7L907.8 66.5L908.5 66.4L909.3 66.2L910.0 66.0L910.8 65.7L911.5 65.1L912.3 64.5L913.0 63.9L913.8 63.4L914.5 63.3L915.3 63.6L916.0 64.0L916.8 64.7L917.5 65.7L918.3 66.9L919.0 69.5L919.8 75.0L920.5 84.8L921.3 109.6L922.0 128.9L922.8 143.8L923.5 154.4L924.3 153.9L925.0 145.9L925.8 129.1L926.5 129.1L927.3 132.9L928.0 153.1L928.8 176.1L929.5 194.8L930.3 206.2L931.0 198.1L931.8 181.0L932.5 157.6L933.3 138.4L934.0 121.9L934.8 113.1L935.5 107.7L936.3 105.5L937.0 104.7L937.8 104.0L938.5 102.6L939.3 96.5L940.0 89.1L940.8 85.8L941.5 84.0L942.3 82.6L943.0 81.5L943.8 80.5L944.5 79.7L945.3 79.0L946.0 78.4L946.8 77.5L947.5 76.5L948.3 75.3L949.0 74.3L949.8 73.6L950.5 73.4L951.3 73.6L952.0 74.3L952.8 75.1L953.5 76.1L954.3 77.9L955.0 80.4L955.8 82.5L956.5 83.8L957.3 84.9L958.0 85.4L958.8 85.0L959.5 83.9L960.3 82.4L961.0 79.2L961.8 75.3L962.5 71.5L963.3 68.1L964.0 69.4L964.8 71.9L965.5 70.1L966.3 67.1L967.0 67.8L967.8 69.7L968.5 69.2L969.3 66.0L970.0 63.9L970.8 65.3L971.5 68.0L972.3 68.9L973.0 68.2L973.8 69.4L974.5 75.4L975.3 72.9L976.0 69.4L976.8 65.4L977.5 62.9L978.3 62.1L979.0 61.4L979.8 61.1L980.5 60.9L981.3 61.1L982.0 61.7L982.8 62.7L983.5 64.0L984.3 68.0L985.0 75.5L985.8 84.2L986.5 96.7L987.3 108.5L988.0 115.0L988.8 120.0L989.5 122.1L990.3 121.1L991.0 118.7L991.8 116.3L992.5 112.9L993.3 110.3L994.0 110.1L994.8 110.1L995.5 110.1L996.3 111.3L997.0 114.4L997.8 118.7L998.5 128.4L999.3 137.2L1000.0 137.6L1000.8 135.1L1001.5 131.4L1002.3 125.3L1003.0 116.8L1003.8 109.2L1004.5 102.0L1005.3 96.3L1006.0 93.8L1006.8 92.2L1007.5 91.2L1008.3 91.1L1009.0 92.1L1009.8 94.1L1010.5 96.8L1011.3 102.5L1012.0 112.6L1012.8 123.6L1013.5 135.9L1014.3 149.3L1015.0 162.8L1015.8 177.1L1016.5 190.0L1017.3 200.7L1018.0 210.1L1018.8 216.5L1019.5 221.4L1020.3 224.6L1021.0 224.5L1021.8 221.1L1022.5 216.1L1023.3 209.5L1024.0 200.1L1024.8 189.3L1025.5 175.9L1026.3 161.5L1027.0 149.1L1027.8 137.3L1028.5 128.2L1029.3 122.4L1030.0 118.6L1030.8 117.7L1031.5 117.3L1032.3 114.0L1033.0 107.4L1033.8 100.6L1034.5 93.3L1035.3 87.7L1036.0 82.9L1036.8 79.6L1037.5 78.5L1038.3 78.1L1039.0 78.3L1039.8 80.5L1040.5 84.1L1041.3 90.1L1042.0 100.4L1042.8 112.4L1043.5 127.1L1044.3 142.7L1045.0 160.2L1045.8 169.1L1046.5 155.0L1047.3 137.6L1048.0 130.1L1048.8 129.3L1049.5 146.1L1050.3 167.0L1051.0 189.0L1051.8 208.9L1052.5 223.5L1053.3 218.1L1054.0 198.8L1054.8 180.7L1055.5 161.4L1056.3 144.3L1057.0 130.4L1057.8 117.8L1058.5 108.8L1059.3 103.6L1060.0 99.4L1060.8 96.3L1061.5 95.0L1062.3 95.7L1063.0 97.7L1063.8 101.3L1064.5 115.5L1065.3 133.7L1066.0 155.7L1066.8 174.9L1067.5 192.6L1068.3 203.4L1069.0 196.1L1069.8 176.7L1070.5 162.2L1071.3 149.3L1072.0 135.3L1072.8 121.2L1073.5 117.5L1074.3 116.1L1075.0 119.4L1075.8 126.2L1076.5 132.9L1077.3 135.1L1078.0 134.6L1078.8 133.5L1079.5 130.3L1080.3 125.3L1081.0 115.3L1081.8 105.9L1082.5 99.2L1083.3 93.5L1084.0 89.0L1084.8 85.0L1085.5 81.8L1086.3 79.4L1087.0 77.6L1087.8 76.0L1088.5 74.8L1089.3 73.7L1090.0 72.8L1090.8 72.1L1091.5 71.4L1092.3 70.8L1093.0 70.1L1093.8 69.6L1094.5 69.4L1095.3 70.5L1096.0 73.5L1096.8 88.2L1097.5 106.8L1098.3 122.2L1099.0 135.1L1099.8 132.7L1100.5 119.0L1101.3 104.8L1102.0 92.5L1102.8 82.9L1103.5 77.7L1104.3 74.5L1105.0 72.2L1105.8 70.5L1106.5 69.1L1107.3 68.0L1108.0 67.1L1108.8 66.2L1109.5 65.4L1110.3 64.8L1111.0 64.5L1111.8 64.6L1112.5 64.6L1113.3 64.8L1114.0 64.9L1114.8 65.1L1115.5 65.5L1116.3 65.9L1117.0 66.3L1117.8 66.5L1118.5 66.5L1119.3 66.3L1120.0 66.0L1120.8 65.6L1121.5 65.2L1122.3 64.9L1123.0 64.7L1123.8 64.6L1124.5 64.4L1125.3 64.2L1126.0 64.0L1126.8 63.5L1127.5 62.6L1128.3 61.7L1129.0 61.0L1129.8 60.8L1130.5 60.6L1131.3 60.5L1132.0 61.3L1132.8 62.3L1133.5 62.5L1134.3 61.9L1135.0 61.1L1135.8 60.3L1136.5 59.4L1137.3 58.5L1138.0 57.9L1138.8 57.9L1139.5 58.0L1140.3 58.2L1141.0 58.4L1141.8 58.8L1142.5 59.6L1143.3 60.7L1144.0 62.5L1144.8 66.8L1145.5 74.4L1146.3 89.1L1147.0 105.0L1147.8 122.2L1148.5 135.2L1149.3 145.7L1150.0 148.9L1150.8 141.4L1151.5 131.8L1152.3 120.5L1153.0 118.2L1153.8 119.0L1154.5 124.8L1155.3 135.1L1156.0 144.6L1156.8 149.0L1157.5 141.1L1158.3 134.2L1159.0 129.6L1159.8 129.4L1160.5 130.7L1161.3 138.6L1162.0 153.4L1162.8 167.5L1163.5 177.7L1164.3 184.8L1165.0 185.7L1165.8 180.4L1166.5 173.0L1167.3 161.6L1168.0 149.6L1168.8 138.1L1169.5 129.1L1170.3 122.4L1171.0 117.0L1171.8 112.6L1172.5 109.0L1173.3 105.4L1174.0 100.8L1174.8 96.9L1175.5 94.5L1176.3 94.5L1177.0 96.6L1177.8 96.5L1178.5 94.0L1179.3 89.7L1180.0 83.3L1180.8 78.6L1181.5 74.7L1182.3 72.1L1183.0 70.9L1183.8 69.9L1184.5 69.4L1185.3 69.6L1186.0 70.6L1186.8 72.0L1187.5 73.8L1188.3 75.8L1189.0 77.3L1189.8 78.6L1190.5 79.0L1191.3 78.6L1192.0 78.1L1192.8 78.1L1193.5 79.1L1194.3 81.0L1195.0 86.1L1195.8 92.2L1196.5 99.1L1197.3 103.9L1198.0 107.5L1198.8 107.8L1199.5 106.3L1200.3 104.3L1201.0 101.9L1201.8 100.7L1202.5 100.1L1203.3 102.1L1204.0 109.1L1204.8 116.0L1205.5 121.6L1206.3 125.5L1207.0 126.5L1207.8 121.6L1208.5 110.5L1209.3 100.3L1210.0 97.4L1210.8 104.3L1211.5 115.9L1212.3 128.3L1213.0 138.3L1213.8 146.5L1214.5 153.5L1215.3 156.4L1216.0 157.9L1216.8 157.9L1217.5 154.8L1218.3 149.2L1219.0 135.9L1219.8 121.2L1220.5 108.6L1221.3 102.3L1222.0 101.0L1222.8 101.0L1223.5 102.3L1224.3 104.7L1225.0 105.6L1225.8 106.0L1226.5 105.7L1227.3 103.7L1228.0 100.6L1228.8 95.8L1229.5 90.5L1230.3 85.2L1231.0 81.7L1231.8 79.3L1232.5 79.0L1233.3 79.5L1234.0 84.0L1234.8 99.2L1235.5 109.4L1236.3 110.1L1237.0 110.1L1237.8 109.5L1238.5 106.8L1239.3 103.4L1240.0 98.8L1240.8 92.8L1241.5 84.5L1242.3 80.5L1243.0 79.0L1243.8 79.3L1244.5 80.0L1245.3 84.4L1246.0 92.1L1246.8 101.9L1247.5 105.2L1248.3 106.9L1249.0 107.1L1249.8 107.1L1250.5 107.1L1251.3 107.6L1252.0 109.0L1252.8 110.5L1253.5 112.4L1254.3 114.8L1255.0 117.2L1255.8 119.5L1256.5 121.8L1257.3 125.2L1258.0 132.3L1258.8 147.0L1259.5 161.9L1260.3 177.5L1261.0 190.0L1261.8 200.6L1262.5 210.4L1263.3 221.7L1264.0 232.4L1264.8 235.5L1265.5 227.7L1266.3 215.8L1267.0 207.1L1267.8 199.8L1268.5 192.4L1269.3 183.3L1270.0 173.6L1270.8 166.0L1271.5 160.3L1272.3 155.5L1273.0 151.2L1273.8 147.4L1274.5 143.9L1275.3 140.7L1276.0 137.6L1276.8 134.6L1277.5 131.8L1278.3 129.0L1279.0 126.4L1279.8 123.9L1280.5 121.5L1281.3 119.2L1282.0 117.1L1282.8 115.0L1283.5 113.0L1284.3 111.1L1285.0 109.2L1285.8 107.2L1286.5 105.3L1287.3 103.5L1288.0 102.0L1288.8 100.9L1289.5 100.1L1290.3 99.4L1291.0 99.0L1291.8 99.3L1292.5 100.1L1293.3 101.0L1294.0 101.8L1294.8 102.6L1295.5 103.5L1296.3 104.3L1297.0 104.9L1297.8 105.5L1298.5 105.9L1299.3 106.0L1300.0 104.2L1300.8 101.3L1301.5 98.6L1302.3 95.5L1303.0 93.2L1303.8 92.1L1304.5 91.2L1305.3 90.7L1306.0 90.7L1306.8 91.4L1307.5 92.7L1308.3 93.9L1309.0 95.2L1309.8 96.6L1310.5 97.8L1311.3 98.5L1312.0 99.2L1312.8 99.8L1313.5 100.0L1314.3 99.9L1315.0 99.5L1315.8 98.8L1316.5 98.2L1317.3 97.7L1318.0 97.2L1318.8 96.7L1319.5 96.2" fill="none" stroke="#780000" stroke-width="4.0" stroke-linejoin="round" stroke-linecap="round" clip-path="url(#clipB)"/>
<path d="M820.0 189.9L820.8 189.9L821.5 189.9L822.3 189.9L823.0 189.9L823.8 189.9L824.5 189.9L825.3 189.9L826.0 189.9L826.8 189.9L827.5 189.9L828.3 189.9L829.0 189.9L829.8 189.9L830.5 189.9L831.3 189.9L832.0 189.9L832.8 190.0L833.5 190.2L834.3 190.6L835.0 191.0L835.8 191.5L836.5 192.0L837.3 192.5L838.0 192.9L838.8 193.2L839.5 193.4L840.3 193.5L841.0 193.5L841.8 193.5L842.5 193.5L843.3 193.5L844.0 193.5L844.8 193.5L845.5 193.5L846.3 193.5L847.0 193.5L847.8 193.5L848.5 193.5L849.3 193.5L850.0 193.7L850.8 194.3L851.5 195.1L852.3 196.1L853.0 197.1L853.8 198.7L854.5 201.3L855.3 204.4L856.0 207.7L856.8 210.8L857.5 213.4L858.3 216.1L859.0 218.8L859.8 221.3L860.5 223.4L861.3 225.0L862.0 226.4L862.8 227.7L863.5 228.9L864.3 229.9L865.0 230.6L865.8 231.0L866.5 231.1L867.3 230.7L868.0 230.2L868.8 229.5L869.5 228.6L870.3 227.8L871.0 226.7L871.8 225.4L872.5 223.8L873.3 222.1L874.0 220.4L874.8 218.8L875.5 217.4L876.3 216.2L877.0 215.1L877.8 214.1L878.5 213.0L879.3 212.0L880.0 211.2L880.8 210.5L881.5 210.1L882.3 210.0L883.0 210.1L883.8 210.6L884.5 211.2L885.3 212.0L886.0 212.8L886.8 213.7L887.5 214.5L888.3 215.1L889.0 215.9L889.8 217.2L890.5 224.3L891.3 253.1L892.0 268.3L892.8 280.1L893.5 289.4L894.3 298.2L895.0 303.6L895.8 302.1L896.5 294.9L897.3 285.8L898.0 274.5L898.8 260.7L899.5 247.7L900.3 234.1L901.0 222.9L901.8 216.8L902.5 212.6L903.3 210.0L904.0 208.4L904.8 207.2L905.5 206.3L906.3 205.7L907.0 205.5L907.8 205.3L908.5 205.1L909.3 205.0L910.0 204.8L910.8 204.4L911.5 203.8L912.3 203.1L913.0 202.5L913.8 202.0L914.5 202.0L915.3 202.2L916.0 202.7L916.8 203.4L917.5 204.4L918.3 205.7L919.0 208.4L919.8 214.3L920.5 224.5L921.3 250.7L922.0 270.9L922.8 286.7L923.5 297.8L924.3 297.3L925.0 288.8L925.8 271.2L926.5 271.2L927.3 275.2L928.0 296.5L928.8 320.7L929.5 340.3L930.3 352.4L931.0 343.8L931.8 325.8L932.5 301.2L933.3 280.9L934.0 263.6L934.8 254.4L935.5 248.7L936.3 246.3L937.0 245.5L937.8 244.8L938.5 243.3L939.3 236.8L940.0 229.0L940.8 225.6L941.5 223.7L942.3 222.2L943.0 221.1L943.8 220.0L944.5 219.2L945.3 218.5L946.0 217.8L946.8 216.9L947.5 215.8L948.3 214.6L949.0 213.5L949.8 212.7L950.5 212.5L951.3 212.8L952.0 213.5L952.8 214.4L953.5 215.4L954.3 217.3L955.0 219.9L955.8 222.1L956.5 223.5L957.3 224.7L958.0 225.2L958.8 224.7L959.5 223.6L960.3 222.0L961.0 218.7L961.8 214.5L962.5 210.5L963.3 207.0L964.0 208.3L964.8 211.0L965.5 209.1L966.3 205.9L967.0 206.6L967.8 208.6L968.5 208.1L969.3 204.8L970.0 202.6L970.8 204.1L971.5 206.9L972.3 207.8L973.0 207.1L973.8 208.4L974.5 214.6L975.3 212.0L976.0 208.3L976.8 204.1L977.5 201.5L978.3 200.6L979.0 200.0L979.8 199.5L980.5 199.4L981.3 199.6L982.0 200.3L982.8 201.3L983.5 202.6L984.3 206.9L985.0 214.7L985.8 223.9L986.5 237.1L987.3 249.5L988.0 256.4L988.8 261.6L989.5 263.8L990.3 262.7L991.0 260.3L991.8 257.7L992.5 254.2L993.3 251.4L994.0 251.2L994.8 251.2L995.5 251.2L996.3 252.4L997.0 255.7L997.8 260.2L998.5 270.5L999.3 279.7L1000.0 280.2L1000.8 277.5L1001.5 273.6L1002.3 267.2L1003.0 258.2L1003.8 250.3L1004.5 242.7L1005.3 236.7L1006.0 234.1L1006.8 232.3L1007.5 231.3L1008.3 231.2L1009.0 232.3L1009.8 234.3L1010.5 237.1L1011.3 243.2L1012.0 253.8L1012.8 265.4L1013.5 278.3L1014.3 292.4L1015.0 306.7L1015.8 321.8L1016.5 335.3L1017.3 346.6L1018.0 356.4L1018.8 363.2L1019.5 368.1L1020.3 371.0L1021.0 370.9L1021.8 367.8L1022.5 362.8L1023.3 355.9L1024.0 345.9L1024.8 334.6L1025.5 320.4L1026.3 305.3L1027.0 292.2L1027.8 279.8L1028.5 270.2L1029.3 264.2L1030.0 260.1L1030.8 259.2L1031.5 258.7L1032.3 255.2L1033.0 248.3L1033.8 241.2L1034.5 233.5L1035.3 227.6L1036.0 222.6L1036.8 219.0L1037.5 218.0L1038.3 217.4L1039.0 217.7L1039.8 220.0L1040.5 223.8L1041.3 230.1L1042.0 241.0L1042.8 253.6L1043.5 269.1L1044.3 285.5L1045.0 303.9L1045.8 313.3L1046.5 298.5L1047.3 280.2L1048.0 272.3L1048.8 271.4L1049.5 289.1L1050.3 311.1L1051.0 334.3L1051.8 355.2L1052.5 370.1L1053.3 364.9L1054.0 344.6L1054.8 325.5L1055.5 305.2L1056.3 287.2L1057.0 272.5L1057.8 259.3L1058.5 249.8L1059.3 244.3L1060.0 239.9L1060.8 236.7L1061.5 235.3L1062.3 236.0L1063.0 238.1L1063.8 242.0L1064.5 256.9L1065.3 276.0L1066.0 299.2L1066.8 319.4L1067.5 338.1L1068.3 349.4L1069.0 341.7L1069.8 321.3L1070.5 306.0L1071.3 292.4L1072.0 277.7L1072.8 262.9L1073.5 258.9L1074.3 257.5L1075.0 260.9L1075.8 268.1L1076.5 275.2L1077.3 277.5L1078.0 277.0L1078.8 275.8L1079.5 272.5L1080.3 267.2L1081.0 256.7L1081.8 246.8L1082.5 239.7L1083.3 233.7L1084.0 228.9L1084.8 224.8L1085.5 221.4L1086.3 218.9L1087.0 216.9L1087.8 215.3L1088.5 214.0L1089.3 212.9L1090.0 211.9L1090.8 211.1L1091.5 210.5L1092.3 209.8L1093.0 209.1L1093.8 208.5L1094.5 208.3L1095.3 209.5L1096.0 212.7L1096.8 228.1L1097.5 247.7L1098.3 263.9L1099.0 277.5L1099.8 275.0L1100.5 260.5L1101.3 245.6L1102.0 232.7L1102.8 222.5L1103.5 217.1L1104.3 213.7L1105.0 211.3L1105.8 209.5L1106.5 208.0L1107.3 206.8L1108.0 205.9L1108.8 205.0L1109.5 204.2L1110.3 203.5L1111.0 203.2L1111.8 203.2L1112.5 203.3L1113.3 203.5L1114.0 203.6L1114.8 203.8L1115.5 204.2L1116.3 204.6L1117.0 205.0L1117.8 205.3L1118.5 205.3L1119.3 205.1L1120.0 204.7L1120.8 204.3L1121.5 203.9L1122.3 203.6L1123.0 203.4L1123.8 203.2L1124.5 203.1L1125.3 202.9L1126.0 202.6L1126.8 202.1L1127.5 201.2L1128.3 200.2L1129.0 199.5L1129.8 199.2L1130.5 199.0L1131.3 199.0L1132.0 199.7L1132.8 200.8L1133.5 201.0L1134.3 200.4L1135.0 199.6L1135.8 198.8L1136.5 197.7L1137.3 196.8L1138.0 196.3L1138.8 196.3L1139.5 196.4L1140.3 196.6L1141.0 196.8L1141.8 197.2L1142.5 198.0L1143.3 199.2L1144.0 201.0L1144.8 205.6L1145.5 213.6L1146.3 229.0L1147.0 245.8L1147.8 264.0L1148.5 277.6L1149.3 288.7L1150.0 292.0L1150.8 284.2L1151.5 274.0L1152.3 262.2L1153.0 259.7L1153.8 260.5L1154.5 266.6L1155.3 277.5L1156.0 287.5L1156.8 292.2L1157.5 283.8L1158.3 276.5L1159.0 271.7L1159.8 271.5L1160.5 272.9L1161.3 281.1L1162.0 296.7L1162.8 311.6L1163.5 322.4L1164.3 329.8L1165.0 330.7L1165.8 325.2L1166.5 317.4L1167.3 305.4L1168.0 292.8L1168.8 280.7L1169.5 271.2L1170.3 264.2L1171.0 258.5L1171.8 253.8L1172.5 250.0L1173.3 246.2L1174.0 241.4L1174.8 237.3L1175.5 234.8L1176.3 234.7L1177.0 237.0L1177.8 236.9L1178.5 234.2L1179.3 229.7L1180.0 222.9L1180.8 218.0L1181.5 213.9L1182.3 211.2L1183.0 209.9L1183.8 208.8L1184.5 208.3L1185.3 208.5L1186.0 209.6L1186.8 211.0L1187.5 212.9L1188.3 215.0L1189.0 216.6L1189.8 218.0L1190.5 218.4L1191.3 218.0L1192.0 217.5L1192.8 217.5L1193.5 218.5L1194.3 220.5L1195.0 225.9L1195.8 232.3L1196.5 239.6L1197.3 244.6L1198.0 248.4L1198.8 248.8L1199.5 247.1L1200.3 245.1L1201.0 242.5L1201.8 241.2L1202.5 240.7L1203.3 242.7L1204.0 250.1L1204.8 257.4L1205.5 263.3L1206.3 267.4L1207.0 268.4L1207.8 263.3L1208.5 251.6L1209.3 240.9L1210.0 237.9L1210.8 245.0L1211.5 257.3L1212.3 270.4L1213.0 280.9L1213.8 289.6L1214.5 296.9L1215.3 300.0L1216.0 301.6L1216.8 301.5L1217.5 298.2L1218.3 292.3L1219.0 278.3L1219.8 262.9L1220.5 249.6L1221.3 242.9L1222.0 241.7L1222.8 241.7L1223.5 243.0L1224.3 245.5L1225.0 246.4L1225.8 246.9L1226.5 246.5L1227.3 244.5L1228.0 241.2L1228.8 236.2L1229.5 230.6L1230.3 224.9L1231.0 221.3L1231.8 218.8L1232.5 218.5L1233.3 218.9L1234.0 223.7L1234.8 239.7L1235.5 250.5L1236.3 251.2L1237.0 251.2L1237.8 250.5L1238.5 247.7L1239.3 244.2L1240.0 239.3L1240.8 233.0L1241.5 224.2L1242.3 220.0L1243.0 218.4L1243.8 218.7L1244.5 219.4L1245.3 224.2L1246.0 232.3L1246.8 242.5L1247.5 246.0L1248.3 247.8L1249.0 248.0L1249.8 248.0L1250.5 248.0L1251.3 248.6L1252.0 250.0L1252.8 251.6L1253.5 253.6L1254.3 256.1L1255.0 258.7L1255.8 261.0L1256.5 263.5L1257.3 267.1L1258.0 274.6L1258.8 290.0L1259.5 305.7L1260.3 322.1L1261.0 335.4L1261.8 346.5L1262.5 356.8L1263.3 368.4L1264.0 376.8L1264.8 378.7L1265.5 373.5L1266.3 362.5L1267.0 353.3L1267.8 345.7L1268.5 337.8L1269.3 328.3L1270.0 318.1L1270.8 310.0L1271.5 304.0L1272.3 299.0L1273.0 294.5L1273.8 290.5L1274.5 286.8L1275.3 283.4L1276.0 280.1L1276.8 277.0L1277.5 274.0L1278.3 271.1L1279.0 268.4L1279.8 265.7L1280.5 263.2L1281.3 260.8L1282.0 258.5L1282.8 256.3L1283.5 254.2L1284.3 252.2L1285.0 250.2L1285.8 248.1L1286.5 246.1L1287.3 244.2L1288.0 242.7L1288.8 241.5L1289.5 240.6L1290.3 239.9L1291.0 239.5L1291.8 239.8L1292.5 240.6L1293.3 241.6L1294.0 242.4L1294.8 243.3L1295.5 244.3L1296.3 245.1L1297.0 245.7L1297.8 246.3L1298.5 246.8L1299.3 246.9L1300.0 245.0L1300.8 241.9L1301.5 239.0L1302.3 235.8L1303.0 233.4L1303.8 232.2L1304.5 231.3L1305.3 230.8L1306.0 230.7L1306.8 231.5L1307.5 232.8L1308.3 234.2L1309.0 235.5L1309.8 237.0L1310.5 238.2L1311.3 239.0L1312.0 239.7L1312.8 240.3L1313.5 240.6L1314.3 240.5L1315.0 240.0L1315.8 239.3L1316.5 238.7L1317.3 238.1L1318.0 237.6L1318.8 237.1L1319.5 236.5" fill="none" stroke="#0000FF" stroke-width="4.3" stroke-linejoin="round" stroke-linecap="round" clip-path="url(#clipB)"/>
<path d="M820.0 331.6L820.8 331.6L821.5 331.6L822.3 331.6L823.0 331.6L823.8 331.6L824.5 331.6L825.3 331.6L826.0 331.6L826.8 331.6L827.5 331.6L828.3 331.6L829.0 331.6L829.8 331.6L830.5 331.6L831.3 331.6L832.0 331.6L832.8 331.7L833.5 331.9L834.3 332.3L835.0 332.7L835.8 333.2L836.5 333.7L837.3 334.2L838.0 334.6L838.8 334.9L839.5 335.1L840.3 335.2L841.0 335.2L841.8 335.2L842.5 335.2L843.3 335.2L844.0 335.2L844.8 335.2L845.5 335.2L846.3 335.2L847.0 335.2L847.8 335.2L848.5 335.2L849.3 335.2L850.0 335.4L850.8 336.0L851.5 336.8L852.3 337.8L853.0 338.8L853.8 340.4L854.5 343.0L855.3 346.1L856.0 349.4L856.8 352.5L857.5 355.1L858.3 357.8L859.0 360.5L859.8 363.0L860.5 365.1L861.3 366.7L862.0 368.1L862.8 369.4L863.5 370.6L864.3 371.6L865.0 372.3L865.8 372.7L866.5 372.8L867.3 372.4L868.0 371.9L868.8 371.2L869.5 370.3L870.3 369.5L871.0 368.4L871.8 367.1L872.5 365.5L873.3 363.8L874.0 362.1L874.8 360.5L875.5 359.1L876.3 357.9L877.0 356.8L877.8 355.8L878.5 354.7L879.3 353.7L880.0 352.9L880.8 352.2L881.5 351.8L882.3 351.7L883.0 351.8L883.8 352.3L884.5 352.9L885.3 353.7L886.0 354.5L886.8 355.4L887.5 356.2L888.3 356.8L889.0 357.6L889.8 358.9L890.5 366.0L891.3 394.8L892.0 410.0L892.8 421.8L893.5 431.1L894.3 439.9L895.0 445.3L895.8 443.8L896.5 436.6L897.3 427.5L898.0 416.2L898.8 402.4L899.5 389.4L900.3 375.8L901.0 364.6L901.8 358.5L902.5 354.3L903.3 351.7L904.0 350.1L904.8 348.9L905.5 348.0L906.3 347.4L907.0 347.2L907.8 347.0L908.5 346.8L909.3 346.7L910.0 346.5L910.8 346.1L911.5 345.5L912.3 344.8L913.0 344.2L913.8 343.7L914.5 343.7L915.3 343.9L916.0 344.4L916.8 345.1L917.5 346.1L918.3 347.4L919.0 350.1L919.8 356.0L920.5 366.2L921.3 392.4L922.0 412.6L922.8 428.4L923.5 439.5L924.3 439.0L925.0 430.5L925.8 412.9L926.5 412.9L927.3 416.9L928.0 438.2L928.8 462.4L929.5 482.0L930.3 494.1L931.0 485.5L931.8 467.5L932.5 442.9L933.3 422.6L934.0 405.3L934.8 396.1L935.5 390.4L936.3 388.0L937.0 387.2L937.8 386.5L938.5 385.0L939.3 378.5L940.0 370.7L940.8 367.3L941.5 365.4L942.3 363.9L943.0 362.8L943.8 361.7L944.5 360.9L945.3 360.2L946.0 359.5L946.8 358.6L947.5 357.5L948.3 356.3L949.0 355.2L949.8 354.4L950.5 354.2L951.3 354.5L952.0 355.2L952.8 356.1L953.5 357.1L954.3 359.0L955.0 361.6L955.8 363.8L956.5 365.2L957.3 366.4L958.0 366.9L958.8 366.4L959.5 365.3L960.3 363.7L961.0 360.4L961.8 356.2L962.5 352.2L963.3 348.7L964.0 350.0L964.8 352.7L965.5 350.8L966.3 347.6L967.0 348.3L967.8 350.3L968.5 349.8L969.3 346.5L970.0 344.3L970.8 345.8L971.5 348.6L972.3 349.5L973.0 348.8L973.8 350.1L974.5 356.3L975.3 353.7L976.0 350.0L976.8 345.8L977.5 343.2L978.3 342.3L979.0 341.7L979.8 341.2L980.5 341.1L981.3 341.3L982.0 342.0L982.8 343.0L983.5 344.3L984.3 348.6L985.0 356.4L985.8 365.6L986.5 378.8L987.3 391.2L988.0 398.1L988.8 403.3L989.5 405.5L990.3 404.4L991.0 402.0L991.8 399.4L992.5 395.9L993.3 393.1L994.0 392.9L994.8 392.9L995.5 392.9L996.3 394.1L997.0 397.4L997.8 401.9L998.5 412.2L999.3 421.4L1000.0 421.9L1000.8 419.2L1001.5 415.3L1002.3 408.9L1003.0 399.9L1003.8 392.0L1004.5 384.4L1005.3 378.4L1006.0 375.8L1006.8 374.0L1007.5 373.0L1008.3 372.9L1009.0 374.0L1009.8 376.0L1010.5 378.8L1011.3 384.9L1012.0 395.5L1012.8 407.1L1013.5 420.0L1014.3 434.1L1015.0 448.4L1015.8 463.5L1016.5 477.0L1017.3 488.3L1018.0 498.1L1018.8 504.9L1019.5 509.9L1020.3 512.9L1021.0 512.8L1021.8 509.6L1022.5 504.5L1023.3 497.6L1024.0 487.6L1024.8 476.3L1025.5 462.1L1026.3 447.0L1027.0 433.9L1027.8 421.5L1028.5 411.9L1029.3 405.9L1030.0 401.8L1030.8 400.9L1031.5 400.4L1032.3 396.9L1033.0 390.0L1033.8 382.9L1034.5 375.2L1035.3 369.3L1036.0 364.3L1036.8 360.7L1037.5 359.7L1038.3 359.1L1039.0 359.4L1039.8 361.7L1040.5 365.5L1041.3 371.8L1042.0 382.7L1042.8 395.3L1043.5 410.8L1044.3 427.2L1045.0 445.6L1045.8 455.0L1046.5 440.2L1047.3 421.9L1048.0 414.0L1048.8 413.1L1049.5 430.8L1050.3 452.8L1051.0 476.0L1051.8 496.9L1052.5 511.9L1053.3 506.6L1054.0 486.3L1054.8 467.2L1055.5 446.9L1056.3 428.9L1057.0 414.2L1057.8 401.0L1058.5 391.5L1059.3 386.0L1060.0 381.6L1060.8 378.4L1061.5 377.0L1062.3 377.7L1063.0 379.8L1063.8 383.7L1064.5 398.6L1065.3 417.7L1066.0 440.9L1066.8 461.1L1067.5 479.8L1068.3 491.1L1069.0 483.4L1069.8 463.0L1070.5 447.7L1071.3 434.1L1072.0 419.4L1072.8 404.6L1073.5 400.6L1074.3 399.2L1075.0 402.6L1075.8 409.8L1076.5 416.9L1077.3 419.2L1078.0 418.7L1078.8 417.5L1079.5 414.2L1080.3 408.9L1081.0 398.4L1081.8 388.5L1082.5 381.4L1083.3 375.4L1084.0 370.6L1084.8 366.5L1085.5 363.1L1086.3 360.6L1087.0 358.6L1087.8 357.0L1088.5 355.7L1089.3 354.6L1090.0 353.6L1090.8 352.8L1091.5 352.2L1092.3 351.5L1093.0 350.8L1093.8 350.2L1094.5 350.0L1095.3 351.2L1096.0 354.4L1096.8 369.8L1097.5 389.4L1098.3 405.6L1099.0 419.2L1099.8 416.7L1100.5 402.2L1101.3 387.3L1102.0 374.4L1102.8 364.2L1103.5 358.8L1104.3 355.4L1105.0 353.0L1105.8 351.2L1106.5 349.7L1107.3 348.5L1108.0 347.6L1108.8 346.7L1109.5 345.9L1110.3 345.2L1111.0 344.9L1111.8 344.9L1112.5 345.0L1113.3 345.2L1114.0 345.3L1114.8 345.5L1115.5 345.9L1116.3 346.3L1117.0 346.7L1117.8 347.0L1118.5 347.0L1119.3 346.8L1120.0 346.4L1120.8 346.0L1121.5 345.6L1122.3 345.3L1123.0 345.1L1123.8 344.9L1124.5 344.8L1125.3 344.6L1126.0 344.3L1126.8 343.8L1127.5 342.9L1128.3 341.9L1129.0 341.2L1129.8 340.9L1130.5 340.7L1131.3 340.7L1132.0 341.4L1132.8 342.5L1133.5 342.7L1134.3 342.1L1135.0 341.3L1135.8 340.5L1136.5 339.4L1137.3 338.5L1138.0 338.0L1138.8 338.0L1139.5 338.1L1140.3 338.3L1141.0 338.5L1141.8 338.9L1142.5 339.7L1143.3 340.9L1144.0 342.7L1144.8 347.3L1145.5 355.3L1146.3 370.7L1147.0 387.5L1147.8 405.7L1148.5 419.3L1149.3 430.4L1150.0 433.7L1150.8 425.9L1151.5 415.7L1152.3 403.9L1153.0 401.4L1153.8 402.2L1154.5 408.3L1155.3 419.2L1156.0 429.2L1156.8 433.9L1157.5 425.5L1158.3 418.2L1159.0 413.4L1159.8 413.2L1160.5 414.6L1161.3 422.8L1162.0 438.4L1162.8 453.3L1163.5 464.1L1164.3 471.5L1165.0 472.4L1165.8 466.9L1166.5 459.1L1167.3 447.1L1168.0 434.5L1168.8 422.4L1169.5 412.9L1170.3 405.9L1171.0 400.2L1171.8 395.5L1172.5 391.7L1173.3 387.9L1174.0 383.1L1174.8 379.0L1175.5 376.5L1176.3 376.4L1177.0 378.7L1177.8 378.6L1178.5 375.9L1179.3 371.4L1180.0 364.6L1180.8 359.7L1181.5 355.6L1182.3 352.9L1183.0 351.6L1183.8 350.5L1184.5 350.0L1185.3 350.2L1186.0 351.3L1186.8 352.7L1187.5 354.6L1188.3 356.7L1189.0 358.3L1189.8 359.7L1190.5 360.1L1191.3 359.7L1192.0 359.2L1192.8 359.2L1193.5 360.2L1194.3 362.2L1195.0 367.6L1195.8 374.0L1196.5 381.3L1197.3 386.3L1198.0 390.1L1198.8 390.5L1199.5 388.8L1200.3 386.8L1201.0 384.2L1201.8 382.9L1202.5 382.4L1203.3 384.4L1204.0 391.8L1204.8 399.1L1205.5 405.0L1206.3 409.1L1207.0 410.1L1207.8 405.0L1208.5 393.3L1209.3 382.6L1210.0 379.6L1210.8 386.7L1211.5 399.0L1212.3 412.1L1213.0 422.6L1213.8 431.3L1214.5 438.6L1215.3 441.7L1216.0 443.3L1216.8 443.2L1217.5 439.9L1218.3 434.0L1219.0 420.0L1219.8 404.6L1220.5 391.3L1221.3 384.6L1222.0 383.4L1222.8 383.4L1223.5 384.7L1224.3 387.2L1225.0 388.1L1225.8 388.6L1226.5 388.2L1227.3 386.2L1228.0 382.9L1228.8 377.9L1229.5 372.3L1230.3 366.6L1231.0 363.0L1231.8 360.5L1232.5 360.2L1233.3 360.6L1234.0 365.4L1234.8 381.4L1235.5 392.2L1236.3 392.9L1237.0 392.9L1237.8 392.2L1238.5 389.4L1239.3 385.9L1240.0 381.0L1240.8 374.7L1241.5 365.9L1242.3 361.7L1243.0 360.1L1243.8 360.4L1244.5 361.1L1245.3 365.9L1246.0 374.0L1246.8 384.2L1247.5 387.7L1248.3 389.5L1249.0 389.7L1249.8 389.7L1250.5 389.7L1251.3 390.3L1252.0 391.7L1252.8 393.3L1253.5 395.3L1254.3 397.8L1255.0 400.4L1255.8 402.7L1256.5 405.2L1257.3 408.8L1258.0 416.3L1258.8 431.7L1259.5 447.4L1260.3 463.8L1261.0 477.1L1261.8 488.2L1262.5 498.5L1263.3 510.1L1264.0 519.5L1264.8 521.8L1265.5 515.7L1266.3 504.2L1267.0 495.0L1267.8 487.4L1268.5 479.5L1269.3 470.0L1270.0 459.8L1270.8 451.7L1271.5 445.7L1272.3 440.7L1273.0 436.2L1273.8 432.2L1274.5 428.5L1275.3 425.1L1276.0 421.8L1276.8 418.7L1277.5 415.7L1278.3 412.8L1279.0 410.1L1279.8 407.4L1280.5 404.9L1281.3 402.5L1282.0 400.2L1282.8 398.0L1283.5 395.9L1284.3 393.9L1285.0 391.9L1285.8 389.8L1286.5 387.8L1287.3 385.9L1288.0 384.4L1288.8 383.2L1289.5 382.3L1290.3 381.6L1291.0 381.2L1291.8 381.5L1292.5 382.3L1293.3 383.3L1294.0 384.1L1294.8 385.0L1295.5 386.0L1296.3 386.8L1297.0 387.4L1297.8 388.0L1298.5 388.5L1299.3 388.6L1300.0 386.7L1300.8 383.6L1301.5 380.7L1302.3 377.5L1303.0 375.1L1303.8 373.9L1304.5 373.0L1305.3 372.5L1306.0 372.4L1306.8 373.2L1307.5 374.5L1308.3 375.9L1309.0 377.2L1309.8 378.7L1310.5 379.9L1311.3 380.7L1312.0 381.4L1312.8 382.0L1313.5 382.3L1314.3 382.2L1315.0 381.7L1315.8 381.0L1316.5 380.4L1317.3 379.8L1318.0 379.3L1318.8 378.8L1319.5 378.2" fill="none" stroke="#4FAE66" stroke-width="2.9" stroke-linejoin="round" stroke-linecap="round" clip-path="url(#clipB)"/>
<path d="M820.0 476.5L820.8 476.5L821.5 476.5L822.3 476.5L823.0 476.5L823.8 476.5L824.5 476.5L825.3 476.5L826.0 476.5L826.8 476.5L827.5 476.5L828.3 476.5L829.0 476.5L829.8 476.5L830.5 476.5L831.3 476.5L832.0 476.5L832.8 476.6L833.5 476.8L834.3 477.2L835.0 477.6L835.8 478.1L836.5 478.6L837.3 479.1L838.0 479.5L838.8 479.9L839.5 480.1L840.3 480.1L841.0 480.1L841.8 480.1L842.5 480.1L843.3 480.1L844.0 480.1L844.8 480.1L845.5 480.1L846.3 480.1L847.0 480.1L847.8 480.1L848.5 480.1L849.3 480.2L850.0 480.4L850.8 481.0L851.5 481.8L852.3 482.7L853.0 483.8L853.8 485.4L854.5 488.0L855.3 491.2L856.0 494.5L856.8 497.7L857.5 500.4L858.3 503.1L859.0 505.8L859.8 508.3L860.5 510.5L861.3 512.1L862.0 513.5L862.8 514.8L863.5 516.0L864.3 517.1L865.0 517.8L865.8 518.2L866.5 518.2L867.3 517.9L868.0 517.4L868.8 516.6L869.5 515.8L870.3 514.9L871.0 513.9L871.8 512.5L872.5 510.9L873.3 509.2L874.0 507.4L874.8 505.8L875.5 504.3L876.3 503.2L877.0 502.1L877.8 501.0L878.5 499.9L879.3 498.9L880.0 498.1L880.8 497.4L881.5 497.0L882.3 496.9L883.0 497.0L883.8 497.5L884.5 498.1L885.3 498.9L886.0 499.8L886.8 500.6L887.5 501.4L888.3 502.1L889.0 502.8L889.8 504.2L890.5 511.4L891.3 540.6L892.0 556.0L892.8 567.9L893.5 577.4L894.3 586.3L895.0 591.8L895.8 590.3L896.5 583.0L897.3 573.8L898.0 562.3L898.8 548.4L899.5 535.2L900.3 521.3L901.0 509.9L901.8 503.8L902.5 499.5L903.3 496.9L904.0 495.3L904.8 494.0L905.5 493.1L906.3 492.6L907.0 492.3L907.8 492.1L908.5 491.9L909.3 491.8L910.0 491.6L910.8 491.2L911.5 490.6L912.3 489.9L913.0 489.3L913.8 488.8L914.5 488.7L915.3 488.9L916.0 489.4L916.8 490.2L917.5 491.2L918.3 492.5L919.0 495.3L919.8 501.2L920.5 511.6L921.3 538.1L922.0 558.7L922.8 574.7L923.5 585.9L924.3 585.4L925.0 576.8L925.8 559.0L926.5 559.0L927.3 563.0L928.0 584.6L928.8 609.2L929.5 629.1L930.3 641.3L931.0 632.6L931.8 614.4L932.5 589.4L933.3 568.8L934.0 551.3L934.8 541.9L935.5 536.1L936.3 533.7L937.0 532.9L937.8 532.2L938.5 530.6L939.3 524.1L940.0 516.2L940.8 512.7L941.5 510.7L942.3 509.3L943.0 508.1L943.8 507.1L944.5 506.2L945.3 505.5L946.0 504.8L946.8 503.9L947.5 502.7L948.3 501.5L949.0 500.4L949.8 499.7L950.5 499.4L951.3 499.7L952.0 500.4L952.8 501.3L953.5 502.4L954.3 504.3L955.0 506.9L955.8 509.2L956.5 510.6L957.3 511.8L958.0 512.3L958.8 511.8L959.5 510.7L960.3 509.1L961.0 505.7L961.8 501.5L962.5 497.4L963.3 493.8L964.0 495.2L964.8 497.9L965.5 495.9L966.3 492.8L967.0 493.5L967.8 495.5L968.5 494.9L969.3 491.6L970.0 489.4L970.8 490.9L971.5 493.7L972.3 494.7L973.0 493.9L973.8 495.2L974.5 501.6L975.3 498.9L976.0 495.2L976.8 490.9L977.5 488.2L978.3 487.4L979.0 486.7L979.8 486.3L980.5 486.1L981.3 486.4L982.0 487.0L982.8 488.0L983.5 489.4L984.3 493.7L985.0 501.7L985.8 511.0L986.5 524.4L987.3 537.0L988.0 543.9L988.8 549.2L989.5 551.5L990.3 550.4L991.0 547.9L991.8 545.3L992.5 541.7L993.3 538.9L994.0 538.6L994.8 538.6L995.5 538.6L996.3 539.9L997.0 543.2L997.8 547.8L998.5 558.2L999.3 567.6L1000.0 568.1L1000.8 565.3L1001.5 561.4L1002.3 554.9L1003.0 545.8L1003.8 537.7L1004.5 530.0L1005.3 523.9L1006.0 521.3L1006.8 519.5L1007.5 518.5L1008.3 518.4L1009.0 519.5L1009.8 521.6L1010.5 524.4L1011.3 530.5L1012.0 541.3L1012.8 553.1L1013.5 566.2L1014.3 580.5L1015.0 595.0L1015.8 610.2L1016.5 624.0L1017.3 635.4L1018.0 645.4L1018.8 652.2L1019.5 657.2L1020.3 660.1L1021.0 660.0L1021.8 657.0L1022.5 651.9L1023.3 644.9L1024.0 634.7L1024.8 623.2L1025.5 608.9L1026.3 593.6L1027.0 580.3L1027.8 567.7L1028.5 558.0L1029.3 551.8L1030.0 547.7L1030.8 546.8L1031.5 546.3L1032.3 542.8L1033.0 535.8L1033.8 528.5L1034.5 520.7L1035.3 514.7L1036.0 509.6L1036.8 506.1L1037.5 504.9L1038.3 504.4L1039.0 504.6L1039.8 507.0L1040.5 510.9L1041.3 517.3L1042.0 528.3L1042.8 541.1L1043.5 556.8L1044.3 573.5L1045.0 592.1L1045.8 601.6L1046.5 586.6L1047.3 568.1L1048.0 560.0L1048.8 559.2L1049.5 577.1L1050.3 599.5L1051.0 622.9L1051.8 644.2L1052.5 659.2L1053.3 654.0L1054.0 633.4L1054.8 614.0L1055.5 593.4L1056.3 575.2L1057.0 560.3L1057.8 546.9L1058.5 537.2L1059.3 531.7L1060.0 527.2L1060.8 523.9L1061.5 522.6L1062.3 523.2L1063.0 525.4L1063.8 529.3L1064.5 544.4L1065.3 563.9L1066.0 587.4L1066.8 607.9L1067.5 626.8L1068.3 638.3L1069.0 630.5L1069.8 609.8L1070.5 594.3L1071.3 580.5L1072.0 565.6L1072.8 550.6L1073.5 546.5L1074.3 545.1L1075.0 548.6L1075.8 555.8L1076.5 563.0L1077.3 565.4L1078.0 564.8L1078.8 563.6L1079.5 560.2L1080.3 554.9L1081.0 544.2L1081.8 534.2L1082.5 527.0L1083.3 520.9L1084.0 516.1L1084.8 511.9L1085.5 508.4L1086.3 505.9L1087.0 503.9L1087.8 502.3L1088.5 500.9L1089.3 499.8L1090.0 498.9L1090.8 498.1L1091.5 497.3L1092.3 496.7L1093.0 496.0L1093.8 495.4L1094.5 495.1L1095.3 496.4L1096.0 499.6L1096.8 515.3L1097.5 535.1L1098.3 551.6L1099.0 565.4L1099.8 562.8L1100.5 548.1L1101.3 533.0L1102.0 519.9L1102.8 509.6L1103.5 504.1L1104.3 500.6L1105.0 498.2L1105.8 496.4L1106.5 494.9L1107.3 493.7L1108.0 492.7L1108.8 491.8L1109.5 491.0L1110.3 490.3L1111.0 490.0L1111.8 490.0L1112.5 490.1L1113.3 490.2L1114.0 490.4L1114.8 490.6L1115.5 491.0L1116.3 491.5L1117.0 491.8L1117.8 492.1L1118.5 492.1L1119.3 491.9L1120.0 491.5L1120.8 491.1L1121.5 490.7L1122.3 490.4L1123.0 490.2L1123.8 490.0L1124.5 489.9L1125.3 489.7L1126.0 489.4L1126.8 488.9L1127.5 488.0L1128.3 486.9L1129.0 486.2L1129.8 486.0L1130.5 485.8L1131.3 485.7L1132.0 486.5L1132.8 487.6L1133.5 487.8L1134.3 487.2L1135.0 486.3L1135.8 485.5L1136.5 484.5L1137.3 483.5L1138.0 483.0L1138.8 483.0L1139.5 483.1L1140.3 483.2L1141.0 483.5L1141.8 483.9L1142.5 484.7L1143.3 485.9L1144.0 487.8L1144.8 492.4L1145.5 500.5L1146.3 516.2L1147.0 533.2L1147.8 551.6L1148.5 565.4L1149.3 576.7L1150.0 580.1L1150.8 572.1L1151.5 561.8L1152.3 549.8L1153.0 547.3L1153.8 548.1L1154.5 554.3L1155.3 565.3L1156.0 575.5L1156.8 580.3L1157.5 571.7L1158.3 564.4L1159.0 559.5L1159.8 559.3L1160.5 560.7L1161.3 569.0L1162.0 584.9L1162.8 599.9L1163.5 610.8L1164.3 618.4L1165.0 619.4L1165.8 613.7L1166.5 605.8L1167.3 593.7L1168.0 580.9L1168.8 568.6L1169.5 558.9L1170.3 551.8L1171.0 546.1L1171.8 541.3L1172.5 537.5L1173.3 533.6L1174.0 528.7L1174.8 524.6L1175.5 522.0L1176.3 521.9L1177.0 524.3L1177.8 524.1L1178.5 521.4L1179.3 516.9L1180.0 510.0L1180.8 505.0L1181.5 500.9L1182.3 498.1L1183.0 496.7L1183.8 495.7L1184.5 495.2L1185.3 495.4L1186.0 496.5L1186.8 497.9L1187.5 499.9L1188.3 502.0L1189.0 503.6L1189.8 505.0L1190.5 505.4L1191.3 505.0L1192.0 504.4L1192.8 504.5L1193.5 505.5L1194.3 507.5L1195.0 513.0L1195.8 519.5L1196.5 526.9L1197.3 532.0L1198.0 535.8L1198.8 536.2L1199.5 534.6L1200.3 532.5L1201.0 529.9L1201.8 528.6L1202.5 528.0L1203.3 530.1L1204.0 537.5L1204.8 544.9L1205.5 551.0L1206.3 555.1L1207.0 556.1L1207.8 550.9L1208.5 539.0L1209.3 528.2L1210.0 525.1L1210.8 532.4L1211.5 544.9L1212.3 558.1L1213.0 568.8L1213.8 577.6L1214.5 585.0L1215.3 588.1L1216.0 589.7L1216.8 589.7L1217.5 586.3L1218.3 580.4L1219.0 566.2L1219.8 550.6L1220.5 537.0L1221.3 530.3L1222.0 529.0L1222.8 529.0L1223.5 530.3L1224.3 532.9L1225.0 533.8L1225.8 534.3L1226.5 533.9L1227.3 531.9L1228.0 528.6L1228.8 523.4L1229.5 517.7L1230.3 512.0L1231.0 508.4L1231.8 505.8L1232.5 505.5L1233.3 506.0L1234.0 510.8L1234.8 527.0L1235.5 537.9L1236.3 538.6L1237.0 538.6L1237.8 538.0L1238.5 535.1L1239.3 531.5L1240.0 526.6L1240.8 520.2L1241.5 511.3L1242.3 507.0L1243.0 505.4L1243.8 505.7L1244.5 506.5L1245.3 511.2L1246.0 519.5L1246.8 529.9L1247.5 533.4L1248.3 535.2L1249.0 535.4L1249.8 535.4L1250.5 535.4L1251.3 536.0L1252.0 537.4L1252.8 539.1L1253.5 541.1L1254.3 543.6L1255.0 546.3L1255.8 548.7L1256.5 551.2L1257.3 554.8L1258.0 562.4L1258.8 578.1L1259.5 594.0L1260.3 610.6L1261.0 624.0L1261.8 635.3L1262.5 645.7L1263.3 657.5L1264.0 665.9L1264.8 667.8L1265.5 662.6L1266.3 651.6L1267.0 642.2L1267.8 634.5L1268.5 626.5L1269.3 616.8L1270.0 606.5L1270.8 598.3L1271.5 592.3L1272.3 587.1L1273.0 582.6L1273.8 578.5L1274.5 574.7L1275.3 571.3L1276.0 568.0L1276.8 564.9L1277.5 561.8L1278.3 558.9L1279.0 556.1L1279.8 553.4L1280.5 550.8L1281.3 548.4L1282.0 546.1L1282.8 543.9L1283.5 541.7L1284.3 539.7L1285.0 537.7L1285.8 535.6L1286.5 533.5L1287.3 531.6L1288.0 530.0L1288.8 528.9L1289.5 527.9L1290.3 527.2L1291.0 526.8L1291.8 527.1L1292.5 528.0L1293.3 528.9L1294.0 529.8L1294.8 530.7L1295.5 531.6L1296.3 532.5L1297.0 533.1L1297.8 533.7L1298.5 534.2L1299.3 534.3L1300.0 532.3L1300.8 529.2L1301.5 526.3L1302.3 523.1L1303.0 520.6L1303.8 519.4L1304.5 518.5L1305.3 518.0L1306.0 517.9L1306.8 518.7L1307.5 520.0L1308.3 521.4L1309.0 522.7L1309.8 524.3L1310.5 525.5L1311.3 526.3L1312.0 527.0L1312.8 527.6L1313.5 527.9L1314.3 527.8L1315.0 527.3L1315.8 526.6L1316.5 526.0L1317.3 525.4L1318.0 524.9L1318.8 524.3L1319.5 523.8" fill="none" stroke="#000000" stroke-width="4.0" stroke-linejoin="round" stroke-linecap="round" clip-path="url(#clipB)"/>
<path d="M760.3 238 L760.3 434" stroke="#0000FF" stroke-width="2.4"/>
<path d="M760.3 434 L760.3 560" stroke="#4FAE66" stroke-width="1.4" opacity="0.8"/>
<path d="M63.1 720.6 L63.1 6.2 L763 6.2 L763 720.6" fill="none" stroke="#000" stroke-width="6.6" stroke-linejoin="round"/>
<path d="M59.5 716.6 L766.2 716.6" fill="none" stroke="#000" stroke-width="7.2"/>
<path d="M179.0 717 L179.0 724.5" stroke="#000" stroke-width="5.6" stroke-linecap="round"/>
<path d="M372.8 717 L372.8 724.5" stroke="#000" stroke-width="5.6" stroke-linecap="round"/>
<path d="M565.8 717 L565.8 724.5" stroke="#000" stroke-width="5.6" stroke-linecap="round"/>
<path d="M763.0 717 L763.0 724.5" stroke="#000" stroke-width="5.6" stroke-linecap="round"/>
<path d="M818 717.9 L818 5.6 L1322.3 5.6 L1322.3 717.9" fill="none" stroke="#000" stroke-width="6.8" stroke-linejoin="round"/>
<path d="M814.4 714.5 L1325.5 714.5" fill="none" stroke="#000" stroke-width="6.8"/>
<path d="M872.0 714.5 L872.0 722.5" stroke="#000" stroke-width="5.6" stroke-linecap="round"/>
<path d="M961.5 714.5 L961.5 722.5" stroke="#000" stroke-width="5.6" stroke-linecap="round"/>
<path d="M1051.3 714.5 L1051.3 722.5" stroke="#000" stroke-width="5.6" stroke-linecap="round"/>
<path d="M1141.0 714.5 L1141.0 722.5" stroke="#000" stroke-width="5.6" stroke-linecap="round"/>
<path d="M1230.5 714.5 L1230.5 722.5" stroke="#000" stroke-width="5.6" stroke-linecap="round"/>
<path d="M1322.2 714.5 L1322.2 722.5" stroke="#000" stroke-width="5.6" stroke-linecap="round"/>
<path d="M478.6 11.85 L478.6 717" stroke="#FF0000" fill="none" stroke-width="5.9" stroke-linecap="round" stroke-dasharray="14.9 21.4"/>
<path d="M480.5 3.9 L766 3.9" stroke="#FF0000" fill="none" stroke-width="6" stroke-linecap="round" stroke-dasharray="15 20.9"/>
<path d="M763 8.2 L763 718" stroke="#FF0000" fill="none" stroke-width="6.2" stroke-dasharray="21.6 15.2"/>
<path d="M478.6 715.4 L763 715.4" stroke="#FF0000" fill="none" stroke-width="5.5" stroke-linecap="round" stroke-dasharray="15.5 20.2" stroke-dashoffset="12.65"/>
<path d="M816.5 3.0 L816.5 717.5" stroke="#FF0000" fill="none" stroke-width="6" stroke-dasharray="21.5 15.25" stroke-dashoffset="2.55"/>
<path d="M815.5 6.7 L1325 6.7" stroke="#FF0000" fill="none" stroke-width="5.2" stroke-dasharray="21.4 15.45"/>
<path d="M1322.3 -28.9 L1322.3 717.9" stroke="#FF0000" fill="none" stroke-width="6.2" stroke-dasharray="19.7 17.1"/>
<path d="M814.3 714.5 L1325.4 714.5" stroke="#FF0000" fill="none" stroke-width="6.2" stroke-dasharray="20.2 16.7" stroke-dashoffset="21.7"/>
<path d="M759.6 246.6 L797.8 246.6 L797.8 226 L837.5 267.4 L797.8 309.3 L797.8 288.3 L759.6 288.3 Z" fill="#FF0000"/>
<path d="M98.8 596.7 L141.4 596.7" stroke="#000" stroke-width="4.4" stroke-linecap="round"/>
<text x="146.3" y="608.4" font-size="34.5" textLength="106.5" lengthAdjust="spacingAndGlyphs">PS/PET</text>
<path d="M98.8 629.8 L141.4 629.8" stroke="#6FBE44" stroke-width="3.0" stroke-linecap="round"/>
<text x="146.3" y="640.3" font-size="34.5" textLength="43.8" lengthAdjust="spacingAndGlyphs">M1</text>
<path d="M98.8 659.5 L141.4 659.5" stroke="#0000FF" stroke-width="4.4" stroke-linecap="round"/>
<text x="146.3" y="670.0" font-size="34.5" textLength="45.0" lengthAdjust="spacingAndGlyphs">M2</text>
<path d="M98.8 692.4 L141.4 692.4" stroke="#B40000" stroke-width="4.4" stroke-linecap="round"/>
<text x="146.3" y="702.7" font-size="34.5" textLength="45.0" lengthAdjust="spacingAndGlyphs">M3</text>
<text x="689.8" y="54.2" font-size="42" textLength="51.0" lengthAdjust="spacingAndGlyphs">(a)</text>
<text x="1243.2" y="54.2" font-size="42" textLength="53.2" lengthAdjust="spacingAndGlyphs">(b)</text>
<text x="146.4" y="765.6" font-size="35" textLength="66.0" lengthAdjust="spacingAndGlyphs">3400</text>
<text x="339.6" y="765.6" font-size="35" textLength="66.0" lengthAdjust="spacingAndGlyphs">2400</text>
<text x="533.0" y="765.6" font-size="35" textLength="66.0" lengthAdjust="spacingAndGlyphs">1400</text>
<text x="738.8" y="765.6" font-size="35" textLength="49.5" lengthAdjust="spacingAndGlyphs">400</text>
<text x="840.6" y="763.2" font-size="34.5" textLength="63.0" lengthAdjust="spacingAndGlyphs">1650</text>
<text x="930.5" y="763.2" font-size="34.5" textLength="63.0" lengthAdjust="spacingAndGlyphs">1400</text>
<text x="1021.1" y="763.2" font-size="34.5" textLength="63.0" lengthAdjust="spacingAndGlyphs">1150</text>
<text x="1115.9" y="763.2" font-size="34.5" textLength="47.2" lengthAdjust="spacingAndGlyphs">900</text>
<text x="1207.3" y="763.2" font-size="34.5" textLength="47.2" lengthAdjust="spacingAndGlyphs">650</text>
<text x="1297.7" y="763.2" font-size="34.5" textLength="47.2" lengthAdjust="spacingAndGlyphs">400</text>
<text x="198.0" y="807.0" font-size="41.5" textLength="344.5" lengthAdjust="spacingAndGlyphs">Wavenumber (cm<tspan font-size="26" dy="-14">-1</tspan><tspan dy="14">)</tspan></text>
<text x="924.9" y="804.2" font-size="41" textLength="344.5" lengthAdjust="spacingAndGlyphs">Wavenumber (cm<tspan font-size="26" dy="-14">-1</tspan><tspan dy="14">)</tspan></text>
<text transform="translate(41.4 630.3) rotate(-90)" font-size="43.7" textLength="482.8" lengthAdjust="spacingAndGlyphs">Relative Transmittance (%)</text>
<path d="M157.8 1701.0 L157.8 894.0 L1329.2 894.0 L1329.2 1701.0" fill="none" stroke="#000" stroke-width="7.5" stroke-linejoin="round"/>
<rect x="256.0" y="1246.0" width="95.5" height="454.0" fill="#000000"/>
<rect x="549.0" y="1330.7" width="93.79999999999995" height="369.29999999999995" fill="#A8D38D"/>
<rect x="843.0" y="1283.8" width="92.0" height="416.20000000000005" fill="#0033CC"/>
<rect x="1134.5" y="1202.8" width="94.5" height="497.20000000000005" fill="#C00000"/>
<path d="M296.6 1238.5 h12.8 v5.2 l-2.7 2.2 V1246.6 l2.7 2.2 v5.2 h-12.8 v-5.2 l2.7 -2.2 V1245.9 l-2.7 -2.2 Z" fill="#000" stroke="#000" stroke-width="0.8" stroke-linejoin="round"/>
<path d="M589.7 1320.8 h12.8 v5.2 l-2.7 2.2 V1332.6 l2.7 2.2 v5.2 h-12.8 v-5.2 l2.7 -2.2 V1328.2 l-2.7 -2.2 Z" fill="#000" stroke="#000" stroke-width="0.8" stroke-linejoin="round"/>
<path d="M881.6 1274.0 h12.8 v5.2 l-2.7 2.2 V1285.1 l2.7 2.2 v5.2 h-12.8 v-5.2 l2.7 -2.2 V1281.4 l-2.7 -2.2 Z" fill="#000" stroke="#000" stroke-width="0.8" stroke-linejoin="round"/>
<path d="M1174.1999999999998 1196.0 h12.8 v5.2 l-2.7 2.2 V1205.6 l2.7 2.2 v5.2 h-12.8 v-5.2 l2.7 -2.2 V1203.4 l-2.7 -2.2 Z" fill="#000" stroke="#000" stroke-width="0.8" stroke-linejoin="round"/>
<path d="M146 1701.3 L1332.9 1701.3" stroke="#000" stroke-width="8.2"/>
<path d="M146 1698.7 L157.8 1698.7" stroke="#000" stroke-width="7.5"/>
<text x="100.4" y="1714.1" font-size="44" textLength="21.0" lengthAdjust="spacingAndGlyphs">0</text>
<path d="M146 1583.74 L157.8 1583.74" stroke="#000" stroke-width="7.5"/>
<text x="79.4" y="1599.1" font-size="44" textLength="42.0" lengthAdjust="spacingAndGlyphs">20</text>
<path d="M146 1468.78 L157.8 1468.78" stroke="#000" stroke-width="7.5"/>
<text x="79.4" y="1484.2" font-size="44" textLength="42.0" lengthAdjust="spacingAndGlyphs">40</text>
<path d="M146 1353.8200000000002 L157.8 1353.8200000000002" stroke="#000" stroke-width="7.5"/>
<text x="79.4" y="1369.2" font-size="44" textLength="42.0" lengthAdjust="spacingAndGlyphs">60</text>
<path d="M146 1238.8600000000001 L157.8 1238.8600000000001" stroke="#000" stroke-width="7.5"/>
<text x="79.4" y="1254.3" font-size="44" textLength="42.0" lengthAdjust="spacingAndGlyphs">80</text>
<path d="M146 1123.9 L157.8 1123.9" stroke="#000" stroke-width="7.5"/>
<text x="58.4" y="1139.3" font-size="44" textLength="63.0" lengthAdjust="spacingAndGlyphs">100</text>
<path d="M146 1008.94 L157.8 1008.94" stroke="#000" stroke-width="7.5"/>
<text x="58.4" y="1024.3" font-size="44" textLength="63.0" lengthAdjust="spacingAndGlyphs">120</text>
<path d="M146 893.98 L157.8 893.98" stroke="#000" stroke-width="7.5"/>
<text x="58.4" y="909.4" font-size="44" textLength="63.0" lengthAdjust="spacingAndGlyphs">140</text>
<path d="M157.8 1701.0 L157.8 1713" stroke="#000" stroke-width="7.5"/>
<path d="M451.0 1701.0 L451.0 1713" stroke="#000" stroke-width="7.5"/>
<path d="M744.0 1701.0 L744.0 1713" stroke="#000" stroke-width="7.5"/>
<path d="M1037.0 1701.0 L1037.0 1713" stroke="#000" stroke-width="7.5"/>
<path d="M1329.2 1701.0 L1329.2 1713" stroke="#000" stroke-width="7.5"/>
<path d="M303.2 1701.0 L303.2 1710.5" stroke="#000" stroke-width="6.5"/>
<path d="M595.8 1701.0 L595.8 1710.5" stroke="#000" stroke-width="6.5"/>
<path d="M888.5 1701.0 L888.5 1710.5" stroke="#000" stroke-width="6.5"/>
<path d="M1181.5 1701.0 L1181.5 1710.5" stroke="#000" stroke-width="6.5"/>
<text x="232.6" y="1763.5" font-size="44.5" textLength="142.4" lengthAdjust="spacingAndGlyphs">PS/PET</text>
<text x="564.7" y="1763.5" font-size="44.5" textLength="60.6" lengthAdjust="spacingAndGlyphs">M1</text>
<text x="858.0" y="1763.5" font-size="44.5" textLength="60.6" lengthAdjust="spacingAndGlyphs">M2</text>
<text x="1150.7" y="1763.5" font-size="44.5" textLength="60.6" lengthAdjust="spacingAndGlyphs">M3</text>
<text x="509.3" y="1823.5" font-size="56" textLength="449.0" lengthAdjust="spacingAndGlyphs">Membrane Samples</text>
<text transform="translate(39.3 1570.8) rotate(-90)" font-size="56.5" textLength="545.5" lengthAdjust="spacingAndGlyphs">Water Contact Angle (°)</text>
<text x="191.8" y="964.6" font-size="62" textLength="74.5" lengthAdjust="spacingAndGlyphs">(c)</text>
<rect x="177.8" y="995.6" width="269.7" height="204.10000000000002" fill="#555" opacity="0.75" filter="url(#shadow)"/>
<rect x="173.8" y="991.6" width="269.7" height="204.10000000000002" fill="#fff"/>
<clipPath id="ci1"><rect x="176.70000000000002" y="994.5" width="263.9" height="198.3"/></clipPath>
<g clip-path="url(#ci1)">
<g filter="url(#blur1)">
<rect x="163.8" y="1150.5" width="289.7" height="55.200000000000045" fill="#080808"/>
<path d="M239.60000000000002 1153.5 L239.60000000000002 1150.5 A66.0 66.0 0 0 1 366.0 1150.5 L366.0 1153.5 Z" fill="#080808"/>
</g>
<ellipse cx="297.3" cy="1134.0" rx="27" ry="13" fill="#fff" opacity="0.55" filter="url(#blur5)"/>
<ellipse cx="297.3" cy="1135.0" rx="22" ry="9.5" fill="#fff" opacity="0.95" filter="url(#blur3)"/>
<ellipse cx="306" cy="997.5" rx="9" ry="2.2" fill="#000"/>
</g>
<rect x="176.70000000000002" y="994.5" width="263.9" height="198.3" fill="none" stroke="#000000" stroke-width="5.8"/>
<rect x="466.3" y="1095.6" width="268.49999999999994" height="204.10000000000014" fill="#555" opacity="0.75" filter="url(#shadow)"/>
<rect x="462.3" y="1091.6" width="268.49999999999994" height="204.10000000000014" fill="#fff"/>
<clipPath id="ci2"><rect x="464.90000000000003" y="1094.1999999999998" width="263.29999999999995" height="198.90000000000015"/></clipPath>
<g clip-path="url(#ci2)">
<g filter="url(#blur1)">
<rect x="452.3" y="1237.0" width="288.49999999999994" height="68.70000000000005" fill="#080808"/>
<path d="M509.0 1240.0 L509.0 1237.0 A106.2 106.2 0 0 1 684.0 1237.0 L684.0 1240.0 Z" fill="#080808"/>
</g>
<ellipse cx="593.7" cy="1220.5" rx="32" ry="11" fill="#fff" opacity="0.47" filter="url(#blur5)"/>

</g>
<rect x="464.90000000000003" y="1094.1999999999998" width="263.29999999999995" height="198.90000000000015" fill="none" stroke="#A4D08B" stroke-width="5.2"/>
<rect x="755.1" y="1057.8" width="268.6" height="204.20000000000005" fill="#555" opacity="0.75" filter="url(#shadow)"/>
<rect x="751.1" y="1053.8" width="268.6" height="204.20000000000005" fill="#fff"/>
<clipPath id="ci3"><rect x="753.9" y="1056.6" width="263.0" height="198.60000000000005"/></clipPath>
<g clip-path="url(#ci3)">
<g filter="url(#blur1)">
<rect x="741.1" y="1202.7" width="288.6" height="65.29999999999995" fill="#080808"/>
<path d="M811.4 1205.7 L811.4 1202.7 A76.5 76.5 0 0 1 949.4 1202.7 L949.4 1205.7 Z" fill="#080808"/>
</g>
<ellipse cx="876.0" cy="1188.0" rx="25" ry="13" fill="#fff" opacity="0.55" filter="url(#blur5)"/>
<ellipse cx="876.0" cy="1188.5" rx="18" ry="6" fill="#fff" opacity="0.35" filter="url(#blur3)"/>

</g>
<rect x="753.9" y="1056.6" width="263.0" height="198.60000000000005" fill="none" stroke="#0033CC" stroke-width="5.6"/>
<rect x="1043.9" y="978.6" width="269.0" height="207.30000000000007" fill="#555" opacity="0.75" filter="url(#shadow)"/>
<rect x="1039.9" y="974.6" width="269.0" height="207.30000000000007" fill="#fff"/>
<clipPath id="ci4"><rect x="1042.7" y="977.4" width="263.4" height="201.70000000000007"/></clipPath>
<g clip-path="url(#ci4)">
<g filter="url(#blur1)">
<rect x="1029.9" y="1129.0" width="289.0" height="62.90000000000009" fill="#080808"/>
<path d="M1098.1 1132.0 L1098.1 1129.0 A57.8 57.8 0 0 1 1213.1 1129.0 L1213.1 1132.0 Z" fill="#080808"/>
</g>
<rect x="1125" y="1107.5" width="53" height="23" rx="7" fill="#fff" opacity="0.5" filter="url(#blur3)"/><rect x="1128.5" y="1110" width="46" height="15" rx="4" fill="#fff" opacity="0.85" filter="url(#blur2)"/>
</g>
<rect x="1042.7" y="977.4" width="263.4" height="201.70000000000007" fill="none" stroke="#C00000" stroke-width="5.6"/>
</svg></body></html>
